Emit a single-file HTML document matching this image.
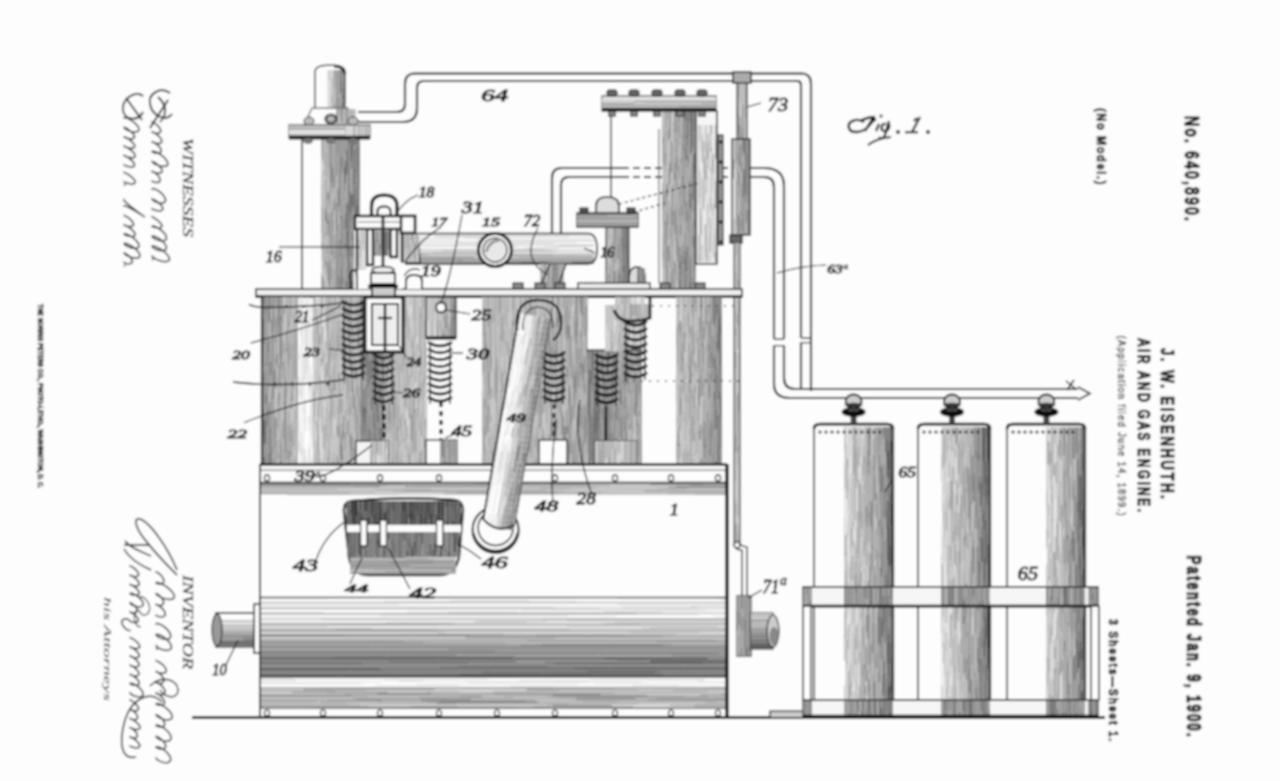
<!DOCTYPE html><html><head><meta charset="utf-8"><style>html,body{margin:0;padding:0;background:#fdfdfd;overflow:hidden;width:1280px;height:781px}svg{display:block}</style></head><body><svg width="1280" height="781" viewBox="0 0 1280 781"><defs><filter id="bl" x="0" y="0" width="1280" height="781" filterUnits="userSpaceOnUse"><feGaussianBlur stdDeviation="0.8"/></filter></defs><g filter="url(#bl)"><rect width="1280" height="781" fill="#fdfdfd"/><path d="M358,112 H397 Q405,112 405,104 V84 Q405,73.5 415,73.5 H801 Q811,73.5 811,84 V391" fill="none" stroke="#111" stroke-width="2.12" /><path d="M358,122 H403 Q417,122 417,108 V88 Q417,81 424,81 H797 Q801,81 801,85 V338 M801,342.5 V389" fill="none" stroke="#111" stroke-width="2.12" /><path d="M801,338 H811 M801,342.5 H811" fill="none" stroke="#111" stroke-width="1.25" /><path d="M552,236 V178 Q552,168 562,168 H622" fill="none" stroke="#111" stroke-width="2.12" /><path d="M561,236 V185 Q561,177 569,177 H622" fill="none" stroke="#111" stroke-width="2.12" /><path d="M622,168 H735 M622,177 H735" fill="none" stroke="#111" stroke-width="2.00" stroke-dasharray="7 4"/><path d="M750,168 H764 Q784,168 784,186 V339 M784,345.5 V378 Q784,389 795,389 H1078" fill="none" stroke="#111" stroke-width="2.12" /><path d="M750,177 H764 Q774,177 774,187 V339 M774,345.5 V384 Q774,398 790,398 H1078" fill="none" stroke="#111" stroke-width="2.12" /><path d="M774,339 H784 M774,345.5 H784" fill="none" stroke="#111" stroke-width="1.25" /><path d="M1078,387 L1090,393.5 L1078,400" fill="none" stroke="#111" stroke-width="1.62" /><path d="M1066,381 L1076,389 M1074,380 L1067,390" fill="none" stroke="#111" stroke-width="1.50" /><g><path d="M321.5 139.0V155.9M321.5 184.0V202.2M321.5 202.2V212.7M321.5 212.7V233.8M321.5 242.0V250.2M321.5 272.9V289.0M322.5 139.0V160.7M322.5 206.4V223.0M322.5 223.0V241.5M322.5 241.5V259.5M323.5 139.0V165.2M323.5 242.4V271.4M323.5 277.4V289.0M324.5 168.5V176.3M324.5 209.1V238.2M324.5 280.6V289.0M325.5 139.0V149.6M325.5 149.6V158.7M325.5 158.7V167.5M325.5 178.6V207.9M325.5 232.3V258.8M326.5 152.1V160.3M326.5 160.3V172.1M326.5 172.1V187.0M326.5 187.0V216.0M326.5 246.2V274.0M327.5 149.7V176.9M327.5 199.9V211.7M327.5 244.1V254.3M328.5 190.1V200.3M328.5 234.8V264.3M328.5 264.3V286.9M329.5 168.3V174.8M329.5 174.8V192.3M329.5 206.0V213.8M329.5 237.5V261.2M329.5 286.2V289.0M330.5 182.6V209.4M330.5 209.4V230.4M330.5 230.4V250.3M330.5 250.3V258.3M330.5 288.1V289.0M331.5 139.0V162.6M331.5 187.2V193.9M331.5 211.5V234.2M331.5 267.1V280.4M332.5 139.0V166.7M332.5 183.3V197.2M332.5 197.2V208.0M332.5 233.3V260.4M332.5 260.4V280.4M332.5 280.4V289.0M333.5 200.8V217.6M333.5 217.6V228.8M333.5 228.8V249.8M333.5 263.3V289.0M334.5 173.7V196.7M334.5 233.5V259.5M334.5 268.8V289.0M335.5 185.5V207.9M335.5 207.9V225.3M335.5 225.3V231.6M335.5 231.6V254.7M335.5 254.7V267.3M335.5 267.3V289.0M336.5 231.3V240.4M337.5 139.0V167.7M337.5 167.7V189.3M338.5 152.7V179.2M338.5 179.2V187.2M338.5 224.1V249.5M338.5 249.5V274.7M338.5 288.8V289.0M339.5 212.3V241.0M340.5 139.0V152.5M340.5 219.0V238.8M340.5 257.6V278.1M341.5 174.1V196.7M341.5 196.7V215.6M342.5 139.0V156.4M342.5 167.0V195.2M342.5 195.2V219.9M342.5 219.9V230.6M342.5 230.6V253.1M342.5 285.1V289.0M343.5 172.7V191.5M343.5 250.1V276.7M344.5 139.0V166.7M344.5 191.5V218.8M344.5 230.5V242.7M344.5 268.7V289.0M345.5 154.7V161.1M345.5 183.5V212.7M345.5 248.9V259.5M345.5 259.5V268.0M345.5 287.2V289.0M346.5 139.0V149.4M346.5 175.6V203.8M346.5 260.6V281.0M347.5 173.1V183.8M347.5 183.8V202.1M349.5 139.0V162.3M350.5 161.8V191.4M350.5 231.5V246.5M351.5 168.9V194.3M351.5 241.6V262.3M352.5 206.9V220.0M352.5 220.0V231.9M352.5 257.0V281.0M354.5 139.0V149.9" stroke="#aaaaaa" stroke-width="1.0" fill="none"/><path d="M321.5 155.9V184.0M321.5 233.8V242.0M322.5 170.5V189.2M322.5 189.2V199.7M322.5 199.7V206.4M322.5 259.5V276.4M323.5 165.2V178.7M323.5 178.7V191.7M323.5 191.7V216.1M323.5 216.1V242.4M323.5 271.4V277.4M324.5 139.0V168.5M324.5 176.3V201.0M324.5 201.0V209.1M324.5 238.2V247.0M324.5 247.0V255.5M324.5 255.5V280.6M325.5 167.5V178.6M325.5 221.2V232.3M325.5 267.2V278.3M325.5 278.3V289.0M326.5 139.0V152.1M326.5 235.8V246.2M326.5 274.0V286.0M327.5 176.9V193.0M327.5 223.8V244.1M327.5 254.3V262.0M327.5 281.4V289.0M328.5 139.0V167.0M328.5 167.0V173.4M328.5 173.4V190.1M328.5 200.3V220.1M328.5 286.9V289.0M331.5 193.9V211.5M331.5 255.0V267.1M331.5 280.4V289.0M333.5 188.2V200.8M334.5 139.0V146.8M334.5 146.8V173.7M334.5 210.2V216.6M334.5 216.6V233.5M334.5 259.5V268.8M336.5 175.2V202.9M338.5 206.4V224.1" stroke="#c6c6c6" stroke-width="1.0" fill="none"/><path d="M321.5 250.2V272.9M322.5 160.7V170.5" stroke="#e2e2e2" stroke-width="1.0" fill="none"/><path d="M322.5 276.4V289.0M325.5 207.9V221.2M325.5 258.8V267.2M326.5 216.0V235.8M326.5 286.0V289.0M327.5 139.0V149.7M327.5 193.0V199.9M327.5 211.7V223.8M327.5 262.0V281.4M328.5 220.1V234.8M329.5 139.0V145.4M329.5 145.4V168.3M329.5 192.3V206.0M329.5 213.8V237.5M329.5 261.2V286.2M330.5 139.0V166.6M330.5 166.6V182.6M330.5 258.3V288.1M331.5 162.6V179.2M331.5 179.2V187.2M331.5 234.2V255.0M332.5 166.7V183.3M332.5 208.0V233.3M333.5 139.0V165.1M333.5 165.1V188.2M333.5 249.8V263.3M334.5 196.7V210.2M335.5 139.0V160.1M335.5 160.1V185.5M336.5 139.0V159.7M336.5 159.7V175.2M336.5 202.9V231.3M336.5 240.4V261.5M336.5 261.5V276.5M336.5 276.5V289.0M337.5 189.3V212.6M337.5 212.6V234.0M337.5 234.0V245.1M337.5 245.1V274.7M337.5 274.7V289.0M338.5 139.0V152.7M338.5 187.2V206.4M338.5 274.7V288.8M339.5 139.0V157.4M339.5 157.4V183.6M339.5 183.6V212.3M339.5 241.0V252.3M339.5 252.3V265.3M339.5 265.3V286.6M339.5 286.6V289.0M340.5 152.5V178.8M340.5 178.8V189.8M340.5 189.8V219.0M340.5 238.8V257.6M340.5 278.1V289.0M341.5 139.0V154.6M341.5 154.6V174.1M341.5 244.6V257.1M341.5 257.1V266.1M342.5 156.4V167.0M342.5 253.1V267.6M342.5 267.6V276.1M342.5 276.1V285.1M343.5 139.0V157.7M343.5 157.7V172.7M343.5 191.5V202.4M343.5 202.4V223.7M343.5 223.7V250.1M343.5 276.7V289.0M344.5 218.8V230.5M344.5 242.7V268.7M345.5 139.0V154.7M345.5 212.7V230.8M345.5 230.8V248.9M345.5 268.0V287.2M346.5 228.4V242.3M346.5 242.3V260.6M347.5 139.0V149.4M347.5 149.4V173.1M347.5 252.4V273.5M347.5 273.5V289.0M348.5 204.6V230.2M348.5 280.4V289.0M349.5 162.3V176.5M349.5 176.5V182.8M349.5 182.8V204.1M349.5 215.7V237.7M349.5 237.7V259.5M349.5 259.5V278.3M349.5 278.3V289.0M350.5 212.1V224.3M350.5 224.3V231.5M350.5 258.5V277.7M350.5 277.7V289.0M351.5 221.7V231.6M351.5 231.6V241.6M351.5 262.3V289.0M352.5 157.6V172.4M352.5 172.4V194.1M353.5 146.8V163.1M353.5 163.1V192.4M353.5 211.0V234.3M353.5 263.8V284.3M353.5 284.3V289.0M354.5 149.9V168.6M354.5 185.2V202.1M354.5 202.1V222.1M354.5 222.1V246.8M354.5 276.7V289.0M355.5 172.6V187.2M355.5 229.8V253.9M356.5 139.0V145.9M356.5 145.9V158.5M356.5 158.5V179.4M356.5 179.4V198.4M356.5 225.7V240.7M356.5 240.7V251.7M356.5 275.6V283.4M357.5 139.0V163.5M357.5 163.5V179.6M357.5 179.6V205.1M357.5 264.5V280.7M358.5 139.0V146.9M358.5 166.4V188.9M358.5 188.9V213.5M358.5 224.6V232.6M358.5 256.0V268.8M358.5 283.3V289.0M359.5 218.0V243.3M359.5 243.3V256.9M359.5 285.3V289.0" stroke="#8d8d8d" stroke-width="1.0" fill="none"/><path d="M341.5 215.6V244.6M341.5 266.1V289.0M344.5 166.7V180.2M344.5 180.2V191.5M345.5 161.1V183.5M346.5 149.4V175.6M346.5 203.8V211.3M346.5 211.3V228.4M346.5 281.0V289.0M347.5 202.1V229.5M347.5 229.5V252.4M348.5 139.0V168.6M348.5 168.6V180.8M348.5 180.8V204.6M348.5 230.2V257.7M348.5 257.7V280.4M349.5 204.1V215.7M350.5 139.0V161.8M350.5 191.4V212.1M350.5 246.5V258.5M351.5 139.0V168.9M351.5 194.3V214.7M351.5 214.7V221.7M352.5 139.0V157.6M352.5 194.1V206.9M352.5 231.9V241.7M352.5 241.7V257.0M352.5 281.0V289.0M353.5 139.0V146.8M353.5 192.4V211.0M353.5 234.3V263.8M354.5 168.6V185.2M354.5 246.8V276.7M355.5 139.0V147.7M355.5 147.7V172.6M355.5 187.2V209.6M355.5 209.6V229.8M355.5 265.9V289.0M356.5 198.4V206.5M356.5 206.5V225.7M356.5 251.7V275.6M356.5 283.4V289.0M357.5 226.8V240.6M357.5 280.7V289.0M358.5 146.9V166.4M358.5 213.5V224.6M358.5 232.6V256.0M358.5 268.8V283.3M359.5 139.0V162.0M359.5 190.1V218.0" stroke="#717171" stroke-width="1.0" fill="none"/><path d="M355.5 253.9V265.9M357.5 205.1V226.8M357.5 240.6V264.5M359.5 162.0V190.1M359.5 256.9V285.3" stroke="#555555" stroke-width="1.0" fill="none"/></g><line x1="302" y1="139" x2="302" y2="289" stroke="#333" stroke-width="1.62" /><rect x="315" y="66" width="30" height="42" fill="#fdfdfd"  /><g><path d="M327.5 70.0V84.8M327.5 84.8V100.3M327.5 100.3V108.0M328.5 70.0V95.1M328.5 95.1V108.0M329.5 80.2V107.4M329.5 107.4V108.0M331.5 70.0V95.3M332.5 70.0V78.0" stroke="#e2e2e2" stroke-width="1.0" fill="none"/><path d="M329.5 70.0V80.2M330.5 70.0V89.1M330.5 89.1V108.0M331.5 95.3V108.0M332.5 101.7V108.0M333.5 79.5V101.0M334.5 88.5V104.0" stroke="#c6c6c6" stroke-width="1.0" fill="none"/><path d="M332.5 78.0V101.7M333.5 70.0V79.5M333.5 101.0V108.0M334.5 70.0V88.5M334.5 104.0V108.0M335.5 70.0V87.8M335.5 87.8V108.0M336.5 70.0V98.0M336.5 98.0V108.0M338.5 70.0V99.0M339.5 70.0V95.3M339.5 95.3V108.0M340.5 93.8V108.0M342.5 70.0V94.6" stroke="#aaaaaa" stroke-width="1.0" fill="none"/><path d="M337.5 70.0V96.5M337.5 96.5V108.0M338.5 99.0V108.0M341.5 70.0V80.9M341.5 93.9V101.3M341.5 101.3V108.0M342.5 94.6V102.1M343.5 70.0V76.9M343.5 76.9V87.3M343.5 99.0V108.0M344.5 70.0V80.4M344.5 104.1V108.0" stroke="#8d8d8d" stroke-width="1.0" fill="none"/><path d="M340.5 70.0V93.8M341.5 80.9V93.9M342.5 102.1V108.0M343.5 87.3V99.0M344.5 80.4V90.6M344.5 90.6V104.1" stroke="#717171" stroke-width="1.0" fill="none"/></g><path d="M315,108 V72 Q315,65 330,65 Q345,65 345,72 V108" fill="none" stroke="#444" stroke-width="1.50" /><path d="M334,66 Q344,66 345,74" fill="none" stroke="#111" stroke-width="2.75" /><path d="M312,108 L304,125 H357 L348,108 Z" fill="#fdfdfd" stroke="#555" stroke-width="1.25" /><g><path d="M336.5 109.0V121.3M339.5 109.0V116.2M340.5 109.0V125.0M342.5 109.0V115.3M342.5 115.3V125.0M343.5 109.0V125.0M345.5 109.0V125.0M347.5 109.0V121.4M347.5 121.4V125.0M348.5 109.0V115.0M348.5 115.0V125.0M350.5 109.0V125.0M351.5 109.0V125.0M353.5 109.0V125.0" stroke="#aaaaaa" stroke-width="1.0" fill="none"/><path d="M336.5 121.3V125.0M338.5 109.0V125.0M339.5 116.2V125.0M341.5 121.6V125.0M344.5 109.0V118.8M344.5 118.8V125.0M349.5 109.0V117.0M349.5 117.0V125.0M352.5 109.0V125.0M354.5 109.0V125.0M355.5 109.0V125.0" stroke="#c6c6c6" stroke-width="1.0" fill="none"/><path d="M337.5 109.0V125.0M341.5 109.0V121.6M346.5 109.0V125.0" stroke="#8d8d8d" stroke-width="1.0" fill="none"/></g><ellipse cx="309" cy="121" rx="5" ry="4" fill="#bbb" stroke="#333" stroke-width="1.0"/><ellipse cx="353" cy="121" rx="5" ry="4" fill="#bbb" stroke="#333" stroke-width="1.0"/><ellipse cx="331" cy="119" rx="6" ry="5" fill="#777" stroke="#222" stroke-width="1.2"/><ellipse cx="331" cy="119" rx="3" ry="2.5" fill="#bbb" /><rect x="289" y="125" width="81" height="13" fill="#f4f4f4" stroke="#555" stroke-width="1.25" /><g><path d="M289.0 126.5H363.3M289.0 127.5H340.1M340.1 127.5H367.7M345.0 128.5H370.0M355.2 129.5H370.0M365.4 131.5H370.0M289.0 134.5H346.6M346.6 134.5H370.0M348.2 135.5H370.0M289.0 136.5H370.0" stroke="#c6c6c6" stroke-width="1.0" fill="none"/><path d="M363.3 126.5H370.0M367.7 127.5H370.0M289.0 128.5H345.0M289.0 129.5H355.2M289.0 135.5H348.2" stroke="#aaaaaa" stroke-width="1.0" fill="none"/><path d="M289.0 130.5H310.2M310.2 130.5H370.0M289.0 131.5H365.4M289.0 132.5H370.0M289.0 133.5H370.0" stroke="#e2e2e2" stroke-width="1.0" fill="none"/></g><g><path d="M345.5 126.0V137.0M346.5 126.0V137.0M348.5 135.4V137.0M349.5 126.0V136.3M349.5 136.3V137.0M352.5 126.0V137.0M353.5 126.0V137.0M355.5 126.0V137.0M357.5 126.0V137.0M359.5 126.0V137.0M360.5 126.0V132.4M360.5 132.4V137.0M361.5 126.0V134.6M362.5 126.0V137.0M363.5 126.0V135.8M363.5 135.8V137.0M364.5 126.0V137.0M365.5 126.0V135.4M365.5 135.4V137.0M368.5 134.0V137.0" stroke="#c6c6c6" stroke-width="1.0" fill="none"/><path d="M347.5 126.0V137.0M348.5 126.0V135.4M350.5 126.0V134.2M350.5 134.2V137.0M351.5 126.0V137.0M356.5 126.0V137.0M367.5 136.7V137.0M368.5 126.0V134.0" stroke="#e2e2e2" stroke-width="1.0" fill="none"/><path d="M354.5 126.0V137.0M358.5 126.0V137.0M361.5 134.6V137.0M366.5 126.0V137.0M367.5 126.0V136.7M369.5 126.0V137.0" stroke="#aaaaaa" stroke-width="1.0" fill="none"/></g><line x1="289" y1="137.5" x2="370" y2="137.5" stroke="#111" stroke-width="3.75" /><ellipse cx="308" cy="141" rx="5" ry="3" fill="#777" /><ellipse cx="331" cy="141" rx="5" ry="3" fill="#777" /><ellipse cx="353" cy="141" rx="5" ry="3" fill="#777" /><g><path d="M662.5 111.0V125.7M662.5 143.9V162.9M662.5 210.2V235.8M662.5 257.7V269.5M663.5 188.4V210.5M663.5 210.5V225.7M663.5 251.0V261.8M664.5 192.6V221.6M664.5 221.6V238.9M664.5 238.9V259.9M664.5 259.9V284.1M665.5 137.1V152.9M665.5 172.5V191.1M665.5 244.6V268.2M666.5 131.2V140.2M666.5 140.2V158.3M666.5 158.3V165.5M666.5 184.2V197.5M667.5 119.4V128.3M667.5 210.3V225.8M667.5 252.6V266.0M668.5 169.0V195.1M668.5 239.5V250.4M669.5 201.1V212.5M669.5 267.8V282.8M669.5 282.8V289.0M670.5 111.0V122.5M670.5 122.5V150.7M670.5 150.7V163.4M670.5 171.5V188.1M670.5 206.8V227.2M670.5 239.3V247.4M670.5 271.5V284.2M671.5 191.0V210.4M671.5 225.0V249.8M671.5 267.9V289.0M672.5 226.6V238.3M672.5 238.3V249.6M673.5 121.3V127.7M673.5 127.7V144.2M673.5 164.2V183.9M673.5 183.9V208.9M673.5 208.9V218.4M673.5 218.4V225.4M673.5 225.4V246.3M673.5 246.3V258.7M673.5 266.8V276.9M674.5 111.0V118.5M674.5 118.5V133.2M674.5 226.9V233.8M674.5 261.2V276.6M675.5 142.1V153.7M675.5 153.7V172.9M675.5 190.0V204.7M675.5 234.3V241.2M676.5 111.0V138.3M676.5 168.9V180.0M676.5 180.0V190.4M676.5 190.4V200.4M676.5 200.4V211.5M676.5 211.5V224.9M676.5 254.8V281.5M677.5 111.0V133.6M677.5 146.2V156.6M677.5 172.0V195.1M677.5 195.1V209.8M677.5 209.8V238.3M678.5 111.0V124.7M678.5 165.0V180.5M678.5 180.5V187.4M678.5 207.7V221.2M678.5 221.2V240.3M678.5 240.3V263.2M678.5 286.6V289.0M679.5 123.7V139.5M679.5 139.5V166.2M679.5 166.2V179.2M679.5 216.6V246.0M680.5 111.0V137.8M680.5 159.0V175.3M680.5 175.3V182.7M680.5 196.6V209.3M680.5 209.3V225.0M680.5 246.7V260.9M681.5 133.8V149.2M681.5 149.2V156.7M681.5 164.0V184.1M681.5 184.1V197.9M681.5 197.9V204.5M681.5 244.1V254.6M682.5 160.7V176.5M682.5 189.2V216.3M682.5 253.4V266.8M682.5 266.8V289.0M683.5 111.0V121.6M683.5 121.6V143.9M683.5 150.0V165.4M683.5 221.9V251.1M684.5 167.7V182.6M684.5 206.6V218.3M684.5 218.3V232.1M684.5 232.1V250.4M684.5 250.4V257.9M685.5 120.9V147.8M685.5 159.9V185.0M685.5 185.0V208.2M685.5 208.2V231.3M686.5 159.9V168.9M686.5 168.9V191.0M686.5 191.0V201.4M686.5 221.5V250.8M687.5 146.6V155.4M687.5 168.3V198.1M687.5 198.1V212.0M687.5 231.1V246.0M688.5 163.2V188.4M688.5 188.4V198.6M688.5 198.6V227.0M688.5 227.0V244.7M688.5 244.7V258.5M688.5 258.5V278.1M688.5 278.1V289.0M689.5 122.5V137.2M689.5 137.2V144.5M689.5 144.5V171.9M689.5 171.9V179.8M690.5 154.4V177.8M690.5 177.8V184.4M690.5 184.4V193.3M690.5 221.3V227.6M690.5 227.6V256.6M691.5 152.4V182.1M691.5 210.9V233.8M691.5 233.8V261.7M691.5 261.7V281.5M692.5 147.5V162.0M692.5 198.0V221.8M692.5 245.6V268.0M692.5 268.0V276.5M693.5 212.6V235.6M693.5 287.3V289.0M694.5 132.2V153.7M694.5 272.4V287.6M695.5 111.0V129.4M695.5 170.7V199.0" stroke="#aaaaaa" stroke-width="1.0" fill="none"/><path d="M662.5 125.7V134.6M662.5 134.6V143.9M662.5 182.4V210.2M662.5 235.8V244.8M662.5 244.8V257.7M663.5 136.9V166.6M664.5 284.1V289.0M665.5 111.0V137.1M665.5 152.9V172.5M665.5 191.1V207.5M665.5 221.2V244.6M666.5 209.2V237.1M666.5 237.1V259.0M666.5 259.0V275.1M666.5 275.1V286.5M666.5 286.5V289.0M667.5 111.0V119.4M667.5 182.8V210.3M667.5 245.9V252.6M667.5 266.0V289.0M668.5 128.3V141.4M668.5 212.4V239.5M668.5 250.4V261.0M669.5 111.0V138.6M669.5 161.7V184.4M669.5 245.9V267.8M670.5 163.4V171.5M670.5 227.2V239.3M670.5 284.2V289.0M671.5 140.7V157.8M671.5 157.8V173.0M671.5 210.4V225.0M671.5 249.8V267.9M672.5 185.1V201.7M672.5 201.7V226.6M672.5 267.5V287.9M672.5 287.9V289.0M673.5 144.2V156.5M673.5 156.5V164.2M673.5 258.7V266.8M673.5 276.9V286.7M673.5 286.7V289.0M674.5 162.5V180.3M674.5 209.9V226.9M675.5 117.8V142.1M675.5 172.9V190.0M675.5 204.7V234.3M675.5 262.8V277.1M675.5 277.1V289.0M676.5 138.3V153.7M676.5 153.7V168.9M676.5 224.9V254.8M677.5 156.6V172.0M677.5 238.3V262.7M678.5 124.7V132.7M678.5 132.7V146.5M678.5 263.2V286.6M679.5 111.0V123.7M679.5 190.4V197.0M679.5 197.0V216.6M679.5 268.1V279.3M680.5 182.7V196.6M680.5 225.0V235.0M680.5 260.9V270.6M680.5 270.6V289.0M681.5 156.7V164.0M681.5 204.5V231.9M681.5 231.9V244.1M681.5 275.4V289.0M682.5 111.0V139.6M682.5 139.6V160.7M682.5 176.5V189.2M682.5 244.1V253.4M683.5 143.9V150.0M683.5 165.4V183.3M683.5 183.3V202.4M683.5 202.4V221.9M683.5 265.5V279.0M683.5 279.0V289.0M684.5 140.1V150.0M684.5 150.0V167.7M684.5 182.6V206.6M684.5 257.9V266.4M684.5 266.4V275.1M684.5 275.1V289.0M685.5 147.8V159.9M685.5 231.3V245.4M685.5 271.6V289.0M686.5 111.0V134.0M686.5 250.8V273.3M686.5 273.3V289.0M687.5 139.4V146.6M687.5 155.4V168.3M687.5 212.0V231.1M687.5 271.2V284.0M687.5 284.0V289.0M688.5 111.0V140.5M688.5 140.5V163.2M689.5 111.0V122.5M689.5 208.2V225.9M689.5 225.9V251.2M689.5 251.2V258.6M689.5 258.6V280.4M690.5 207.9V221.3M691.5 182.1V210.9M691.5 281.5V289.0M692.5 132.8V147.5M692.5 162.0V189.7M692.5 189.7V198.0M692.5 221.8V245.6M692.5 276.5V289.0M693.5 111.0V117.2M693.5 117.2V132.9M693.5 201.3V212.6M693.5 248.1V276.9M693.5 276.9V287.3M694.5 111.0V132.2M694.5 174.5V201.0M694.5 201.0V219.1M694.5 227.9V250.4M694.5 250.4V272.4M694.5 287.6V289.0M695.5 129.4V150.4M695.5 150.4V170.7M695.5 216.3V240.0M695.5 288.4V289.0" stroke="#8d8d8d" stroke-width="1.0" fill="none"/><path d="M662.5 162.9V182.4M662.5 269.5V289.0M663.5 111.0V130.1M663.5 130.1V136.9M663.5 166.6V188.4M663.5 225.7V251.0M663.5 261.8V271.2M663.5 271.2V289.0M664.5 111.0V129.5M664.5 129.5V149.1M664.5 149.1V170.5M664.5 170.5V192.6M665.5 207.5V221.2M665.5 268.2V289.0M666.5 111.0V131.2M666.5 165.5V184.2M666.5 197.5V209.2M667.5 128.3V157.2M667.5 157.2V169.0M667.5 169.0V182.8M667.5 225.8V245.9M668.5 111.0V128.3M668.5 141.4V169.0M668.5 195.1V212.4M668.5 261.0V268.2M668.5 268.2V289.0M669.5 138.6V161.7M669.5 184.4V201.1M669.5 212.5V235.5M669.5 235.5V245.9M670.5 188.1V206.8M670.5 247.4V271.5M671.5 111.0V140.7M671.5 173.0V191.0M672.5 111.0V139.8M672.5 139.8V164.5M672.5 164.5V185.1M672.5 249.6V267.5M673.5 111.0V121.3M674.5 133.2V162.5M674.5 180.3V209.9M674.5 233.8V261.2M674.5 276.6V289.0M675.5 241.2V262.8M676.5 281.5V289.0M677.5 133.6V146.2M677.5 262.7V289.0M678.5 146.5V165.0M678.5 187.4V207.7M679.5 179.2V190.4M680.5 137.8V159.0M680.5 235.0V246.7M681.5 111.0V133.8M682.5 216.3V244.1" stroke="#c6c6c6" stroke-width="1.0" fill="none"/><path d="M675.5 111.0V117.8M679.5 246.0V268.1M679.5 279.3V289.0M681.5 254.6V275.4M683.5 251.1V265.5M684.5 111.0V140.1M685.5 111.0V120.9M685.5 245.4V271.6M686.5 134.0V159.9M686.5 201.4V221.5M687.5 111.0V139.4M687.5 246.0V271.2M689.5 179.8V197.4M689.5 197.4V208.2M689.5 280.4V289.0M690.5 111.0V137.8M690.5 137.8V154.4M690.5 193.3V207.9M690.5 256.6V275.3M690.5 275.3V289.0M691.5 111.0V126.6M691.5 126.6V152.4M692.5 111.0V132.8M693.5 132.9V151.8M693.5 151.8V162.7M693.5 162.7V176.4M693.5 176.4V185.0M693.5 185.0V201.3M693.5 235.6V248.1M694.5 153.7V174.5M694.5 219.1V227.9M695.5 199.0V216.3M695.5 240.0V263.7M695.5 263.7V279.3M695.5 279.3V288.4" stroke="#717171" stroke-width="1.0" fill="none"/></g><line x1="659" y1="129" x2="659" y2="283" stroke="#666" stroke-width="1.25" /><rect x="696" y="111" width="21" height="153" fill="#f6f6f6" stroke="#333" stroke-width="1.62" /><g><path d="M698.5 125.0V151.2M698.5 151.2V179.7M698.5 179.7V204.8M698.5 234.7V261.5M698.5 261.5V262.0M699.5 125.0V141.9M699.5 168.7V181.4M699.5 181.4V189.1M699.5 189.1V214.0M699.5 214.0V225.8M699.5 225.8V252.4M700.5 171.8V198.5M700.5 251.2V262.0M701.5 125.0V152.0M701.5 152.0V162.8M701.5 214.4V234.8M702.5 134.1V162.7M702.5 177.3V207.1M702.5 244.3V253.8M702.5 253.8V262.0M703.5 159.0V173.3M703.5 173.3V184.9M703.5 261.3V262.0M704.5 174.4V187.4M705.5 150.7V170.9M705.5 187.4V202.4M705.5 252.0V258.5M706.5 142.2V164.3M706.5 223.4V249.3M707.5 132.6V148.2M707.5 203.7V213.7M707.5 213.7V234.7M707.5 234.7V246.8M707.5 246.8V262.0M708.5 175.5V194.4M708.5 194.4V203.0M708.5 203.0V216.3M708.5 216.3V225.3M709.5 224.4V253.7M709.5 253.7V262.0M710.5 167.7V177.3M710.5 177.3V201.0M710.5 201.0V210.7M711.5 169.3V198.0M712.5 158.8V166.0M712.5 166.0V173.4M713.5 174.4V189.2M713.5 204.1V224.7M713.5 224.7V238.2M713.5 238.2V256.6M714.5 188.8V201.6M714.5 235.7V249.3M714.5 249.3V262.0M715.5 125.0V132.4M715.5 132.4V139.5M715.5 180.1V208.5" stroke="#c6c6c6" stroke-width="1.0" fill="none"/><path d="M699.5 141.9V168.7M700.5 125.0V150.1M700.5 164.9V171.8M700.5 198.5V207.4M701.5 179.1V193.3M701.5 193.3V214.4M701.5 245.2V262.0M702.5 162.7V177.3M702.5 207.1V230.8M702.5 230.8V244.3M703.5 125.0V140.8M703.5 210.6V232.9M703.5 232.9V261.3M704.5 141.8V157.8M704.5 187.4V209.6M704.5 225.4V252.9M704.5 252.9V262.0M705.5 179.3V187.4M705.5 202.4V224.4M705.5 258.5V262.0M706.5 125.0V142.2M706.5 193.5V223.4M707.5 125.0V132.6M707.5 159.5V170.5M707.5 170.5V179.9M708.5 125.0V133.9M708.5 168.9V175.5M708.5 234.4V252.7M708.5 252.7V262.0M709.5 140.9V152.2M709.5 152.2V171.6M709.5 198.0V224.4M710.5 252.1V259.2M710.5 259.2V262.0M711.5 133.7V147.6M711.5 216.0V231.5M711.5 231.5V255.2M711.5 255.2V262.0M712.5 125.0V142.4M712.5 142.4V158.8M712.5 173.4V192.6M712.5 203.9V218.9M712.5 218.9V236.5M712.5 236.5V260.5M712.5 260.5V262.0M713.5 189.2V204.1M714.5 125.0V137.0M714.5 137.0V162.1M714.5 162.1V188.8M714.5 209.7V235.7M715.5 228.4V252.1" stroke="#e2e2e2" stroke-width="1.0" fill="none"/><path d="M699.5 252.4V262.0M700.5 207.4V222.7M700.5 222.7V243.5M700.5 243.5V251.2M703.5 140.8V159.0M703.5 184.9V197.8M703.5 197.8V210.6M704.5 157.8V174.4M705.5 125.0V150.7M705.5 170.9V179.3M705.5 224.4V252.0M706.5 164.3V193.5M706.5 249.3V262.0M707.5 148.2V159.5M708.5 133.9V140.3M708.5 140.3V168.9M710.5 125.0V151.7M710.5 217.4V230.6M710.5 230.6V252.1M711.5 125.0V133.7M711.5 147.6V169.3M711.5 198.0V216.0M713.5 154.2V174.4M714.5 201.6V209.7M715.5 139.5V158.8M715.5 252.1V262.0" stroke="#aaaaaa" stroke-width="1.0" fill="none"/></g><rect x="718" y="135" width="5" height="110" fill="#999" stroke="#111" stroke-width="1.00" /><circle cx="721" cy="142" r="1.8" fill="#111" stroke="#111" stroke-width="0.00"/><circle cx="721" cy="162" r="1.8" fill="#111" stroke="#111" stroke-width="0.00"/><circle cx="721" cy="182" r="1.8" fill="#111" stroke="#111" stroke-width="0.00"/><circle cx="721" cy="202" r="1.8" fill="#111" stroke="#111" stroke-width="0.00"/><circle cx="721" cy="222" r="1.8" fill="#111" stroke="#111" stroke-width="0.00"/><circle cx="721" cy="242" r="1.8" fill="#111" stroke="#111" stroke-width="0.00"/><line x1="611" y1="111" x2="611" y2="197" stroke="#444" stroke-width="1.62" /><rect x="602" y="96" width="114" height="15" fill="#eee" stroke="#444" stroke-width="1.25" /><g><path d="M713.7 97.5H716.0M602.0 98.5H697.2M697.2 98.5H716.0M602.0 99.5H633.8M633.8 99.5H716.0M602.0 101.5H633.3M634.3 103.5H701.6" stroke="#e2e2e2" stroke-width="1.0" fill="none"/><path d="M602.0 100.5H633.6M633.6 100.5H716.0M602.0 102.5H643.1M701.6 103.5H716.0M602.0 106.5H642.2M642.2 106.5H678.6" stroke="#c6c6c6" stroke-width="1.0" fill="none"/><path d="M633.3 101.5H684.3M684.3 101.5H716.0M643.1 102.5H716.0M602.0 103.5H634.3M602.0 104.5H689.4M689.4 104.5H716.0M602.0 105.5H660.8M660.8 105.5H691.3M691.3 105.5H716.0M678.6 106.5H716.0M602.0 107.5H660.9M660.9 107.5H716.0M602.0 108.5H680.4M680.4 108.5H716.0" stroke="#aaaaaa" stroke-width="1.0" fill="none"/></g><line x1="602" y1="109.5" x2="716" y2="109.5" stroke="#111" stroke-width="3.25" /><rect x="607" y="90" width="10" height="6" fill="#666" stroke="#111" stroke-width="1.00" rx="2"/><rect x="608.5" y="111" width="7" height="5" fill="#888" stroke="#111" stroke-width="1.00" /><rect x="629" y="90" width="10" height="6" fill="#666" stroke="#111" stroke-width="1.00" rx="2"/><rect x="630.5" y="111" width="7" height="5" fill="#888" stroke="#111" stroke-width="1.00" /><rect x="652" y="90" width="10" height="6" fill="#666" stroke="#111" stroke-width="1.00" rx="2"/><rect x="653.5" y="111" width="7" height="5" fill="#888" stroke="#111" stroke-width="1.00" /><rect x="675" y="90" width="10" height="6" fill="#666" stroke="#111" stroke-width="1.00" rx="2"/><rect x="676.5" y="111" width="7" height="5" fill="#888" stroke="#111" stroke-width="1.00" /><rect x="697" y="90" width="10" height="6" fill="#666" stroke="#111" stroke-width="1.00" rx="2"/><rect x="698.5" y="111" width="7" height="5" fill="#888" stroke="#111" stroke-width="1.00" /><rect x="733" y="72" width="18" height="11" fill="#aaa" stroke="#111" stroke-width="1.38" /><g><path d="M737.5 83.0V105.7M737.5 118.0V137.8M739.5 83.0V100.7M739.5 100.7V124.8M740.5 102.6V116.6M741.5 83.0V108.3M741.5 108.3V133.2M742.5 83.0V103.6M744.5 83.0V106.4M744.5 106.4V118.4M744.5 118.4V137.3M744.5 137.3V139.0M745.5 117.4V139.0" stroke="#c6c6c6" stroke-width="1.0" fill="none"/><path d="M737.5 105.7V118.0M737.5 137.8V139.0M738.5 83.0V98.1M738.5 114.4V133.9M739.5 124.8V138.1M739.5 138.1V139.0M740.5 116.6V139.0M742.5 128.0V139.0M743.5 105.5V134.4M743.5 134.4V139.0M746.5 83.0V109.6" stroke="#8d8d8d" stroke-width="1.0" fill="none"/><path d="M738.5 98.1V114.4M738.5 133.9V139.0M740.5 83.0V102.6M741.5 133.2V139.0M742.5 103.6V128.0M743.5 83.0V105.5M745.5 83.0V92.2M745.5 92.2V104.7M745.5 104.7V117.4M746.5 109.6V130.3M746.5 130.3V139.0" stroke="#aaaaaa" stroke-width="1.0" fill="none"/></g><rect x="737" y="83" width="10" height="56" fill="none" stroke="#333" stroke-width="1.25" /><g><path d="M732.5 139.0V160.8M732.5 185.4V192.7M732.5 192.7V207.5M732.5 219.1V233.9M734.5 217.7V224.4M734.5 224.4V235.0M735.5 139.0V165.5M736.5 139.0V161.9M736.5 179.6V197.3M736.5 197.3V226.6M737.5 139.0V153.1M738.5 139.0V145.5M738.5 145.5V165.7M738.5 165.7V186.4M739.5 198.3V216.8M740.5 170.1V196.1M740.5 196.1V210.1M740.5 216.5V228.8M740.5 228.8V235.0M741.5 139.0V161.2M741.5 183.0V195.1M741.5 195.1V219.9M741.5 231.6V235.0M742.5 151.1V161.5M742.5 161.5V174.8M742.5 231.1V235.0M743.5 154.9V169.8M743.5 197.7V213.0M744.5 153.1V168.2M744.5 212.2V227.3M744.5 227.3V235.0M745.5 202.6V231.3M746.5 195.0V209.9M746.5 222.5V230.2M746.5 230.2V235.0M747.5 139.0V152.4M747.5 204.6V233.3M747.5 233.3V235.0M749.5 192.9V222.4" stroke="#aaaaaa" stroke-width="1.0" fill="none"/><path d="M732.5 160.8V185.4M732.5 207.5V219.1M732.5 233.9V235.0M733.5 139.0V158.6M734.5 139.0V168.7M735.5 165.5V184.0M735.5 184.0V202.7M735.5 202.7V221.3M735.5 221.3V235.0M736.5 161.9V179.6M736.5 226.6V235.0M738.5 186.4V214.8M738.5 233.2V235.0M739.5 165.9V172.4M740.5 139.0V145.0M741.5 172.8V183.0" stroke="#c6c6c6" stroke-width="1.0" fill="none"/><path d="M733.5 158.6V170.2M733.5 170.2V178.8M737.5 153.1V181.6M737.5 181.6V210.4M737.5 210.4V235.0M738.5 214.8V233.2M739.5 139.0V165.9M739.5 172.4V198.3M739.5 216.8V235.0M740.5 145.0V170.1M740.5 210.1V216.5M741.5 161.2V172.8M741.5 219.9V231.6M742.5 139.0V151.1M742.5 174.8V198.2M742.5 198.2V223.2M742.5 223.2V231.1M743.5 213.0V235.0M744.5 139.0V153.1M744.5 168.2V188.5M744.5 188.5V205.9M744.5 205.9V212.2M745.5 193.2V202.6M745.5 231.3V235.0M746.5 139.0V166.2M746.5 166.2V195.0M747.5 152.4V161.3M747.5 161.3V180.3M747.5 180.3V204.6M748.5 152.4V180.6M748.5 180.6V190.5M748.5 190.5V210.1M749.5 139.0V156.0M749.5 156.0V182.3M749.5 222.4V235.0" stroke="#8d8d8d" stroke-width="1.0" fill="none"/><path d="M733.5 178.8V200.6M733.5 200.6V228.2M733.5 228.2V235.0M734.5 168.7V195.7M734.5 195.7V217.7" stroke="#e2e2e2" stroke-width="1.0" fill="none"/><path d="M743.5 139.0V154.9M743.5 169.8V197.7M745.5 139.0V149.9M745.5 149.9V179.0M745.5 179.0V193.2M746.5 209.9V222.5M748.5 139.0V152.4M748.5 210.1V235.0M749.5 182.3V192.9" stroke="#717171" stroke-width="1.0" fill="none"/></g><rect x="732" y="139" width="18" height="96" fill="none" stroke="#333" stroke-width="1.50" /><rect x="730" y="235" width="12" height="8" fill="#666" stroke="#111" stroke-width="1.25" /><g><path d="M734.5 243.0V250.2M734.5 300.7V317.9M734.5 317.9V324.3M734.5 324.3V331.3M734.5 331.3V352.1M734.5 369.5V383.1M734.5 383.1V410.3M734.5 410.3V426.3M734.5 426.3V443.3M734.5 443.3V471.3M734.5 499.7V526.9M735.5 243.0V255.9M735.5 255.9V279.3M735.5 279.3V299.3M735.5 299.3V328.0M735.5 336.4V350.7M735.5 368.6V387.0M735.5 387.0V393.0M735.5 393.0V405.5M735.5 405.5V426.6M735.5 426.6V434.8M735.5 452.4V481.6M735.5 498.3V523.5M736.5 255.1V273.2M736.5 292.5V310.3M736.5 323.3V341.3M736.5 341.3V352.1M736.5 453.1V478.3M736.5 478.3V503.9M736.5 515.7V522.3M737.5 287.6V314.5M737.5 464.8V486.2M737.5 486.2V501.4M737.5 501.4V508.0M737.5 508.0V533.1M738.5 243.0V265.7M738.5 265.7V279.3M738.5 326.2V354.0M738.5 412.0V426.0M738.5 426.0V444.5M738.5 451.4V470.2M738.5 470.2V494.1M738.5 494.1V504.9M738.5 504.9V516.7M738.5 524.3V538.9M739.5 243.0V258.9M739.5 258.9V270.6M739.5 316.0V340.3M739.5 361.7V389.4M739.5 408.3V427.0M739.5 451.4V461.0M739.5 473.5V497.0M739.5 521.4V543.0" stroke="#c6c6c6" stroke-width="1.0" fill="none"/><path d="M734.5 250.2V260.4M734.5 271.5V282.8M734.5 282.8V300.7M734.5 352.1V369.5M734.5 471.3V499.7M734.5 526.9V543.0M735.5 328.0V336.4M735.5 350.7V368.6M735.5 434.8V452.4M735.5 523.5V543.0M736.5 243.0V255.1M736.5 273.2V292.5M736.5 310.3V323.3M736.5 352.1V378.1M736.5 378.1V407.6M736.5 407.6V430.0M736.5 430.0V453.1M736.5 503.9V515.7M736.5 522.3V536.5M736.5 536.5V543.0M737.5 243.0V271.4M737.5 271.4V278.9M737.5 278.9V287.6M737.5 314.5V324.9M737.5 324.9V349.1M737.5 393.5V420.3M737.5 420.3V445.2M737.5 445.2V464.8M737.5 533.1V543.0M738.5 279.3V289.7M738.5 289.7V312.2M738.5 312.2V326.2M738.5 354.0V382.9M738.5 382.9V412.0M738.5 444.5V451.4M738.5 538.9V543.0M739.5 299.6V316.0M739.5 340.3V361.7M739.5 389.4V408.3M739.5 461.0V473.5M739.5 497.0V521.4" stroke="#aaaaaa" stroke-width="1.0" fill="none"/><path d="M734.5 260.4V271.5M735.5 481.6V498.3M737.5 349.1V370.1M737.5 370.1V393.5M738.5 516.7V524.3M739.5 270.6V299.6M739.5 427.0V451.4" stroke="#e2e2e2" stroke-width="1.0" fill="none"/></g><line x1="734" y1="243" x2="734" y2="543" stroke="#444" stroke-width="1.25" /><line x1="740" y1="243" x2="740" y2="543" stroke="#444" stroke-width="1.25" /><path d="M734,543 Q734,550 742,550 V596 M740,543 Q740,546 747,547 V596" fill="none" stroke="#111" stroke-width="1.25" /><circle cx="737" cy="545" r="3" fill="#fff" stroke="#111" stroke-width="1.25"/><rect x="737" y="596" width="14" height="60" fill="#aaa" stroke="#111" stroke-width="1.50" /><g><path d="M737.5 596.0V612.4M738.5 596.0V603.7M738.5 603.7V626.4M738.5 626.4V635.4M739.5 651.9V656.0M740.5 596.0V613.2M741.5 609.6V618.5M741.5 629.8V648.0M742.5 608.2V631.2M742.5 631.2V646.0M742.5 646.0V656.0M743.5 596.0V617.0M743.5 630.3V647.2M743.5 647.2V656.0M745.5 596.0V619.8M747.5 596.0V602.4M747.5 602.4V626.8M747.5 626.8V647.5M749.5 651.4V656.0M750.5 596.0V620.7" stroke="#aaaaaa" stroke-width="1.0" fill="none"/><path d="M737.5 612.4V629.8M738.5 635.4V655.2M738.5 655.2V656.0M739.5 596.0V618.4M739.5 618.4V625.5M740.5 613.2V642.1M740.5 642.1V656.0M741.5 596.0V609.6M741.5 618.5V629.8M741.5 648.0V656.0M742.5 596.0V608.2M743.5 617.0V630.3M744.5 596.0V611.0M744.5 611.0V640.5M744.5 640.5V656.0M745.5 619.8V643.2M745.5 643.2V656.0M746.5 596.0V612.4M746.5 612.4V623.9M746.5 623.9V642.8M746.5 642.8V656.0M748.5 596.0V606.7M748.5 606.7V614.2M748.5 614.2V639.9M748.5 639.9V655.3M748.5 655.3V656.0M749.5 596.0V619.9M749.5 619.9V632.0M749.5 632.0V651.4M750.5 620.7V644.2M750.5 644.2V656.0" stroke="#8d8d8d" stroke-width="1.0" fill="none"/><path d="M737.5 629.8V656.0M739.5 625.5V634.6M739.5 634.6V651.9" stroke="#c6c6c6" stroke-width="1.0" fill="none"/><path d="M747.5 647.5V656.0" stroke="#717171" stroke-width="1.0" fill="none"/></g><rect x="751" y="613" width="22" height="36" fill="#eee" stroke="#111" stroke-width="1.25" /><g><path d="M751.0 613.5H773.0M751.0 614.5H773.0M751.0 615.5H773.0M751.0 618.5H773.0M751.0 622.5H773.0M751.0 624.5H773.0M751.0 626.5H773.0" stroke="#c6c6c6" stroke-width="1.0" fill="none"/><path d="M751.0 616.5H773.0M751.0 619.5H773.0M751.0 620.5H773.0M751.0 621.5H773.0M751.0 623.5H773.0M751.0 625.5H773.0M751.0 627.5H773.0M751.0 628.5H773.0M751.0 630.5H773.0M751.0 631.5H773.0M751.0 634.5H773.0" stroke="#aaaaaa" stroke-width="1.0" fill="none"/><path d="M751.0 617.5H773.0" stroke="#e2e2e2" stroke-width="1.0" fill="none"/><path d="M751.0 629.5H773.0M751.0 632.5H773.0M751.0 633.5H773.0M751.0 636.5H773.0M751.0 637.5H773.0M751.0 638.5H773.0M751.0 639.5H773.0M751.0 642.5H773.0" stroke="#8d8d8d" stroke-width="1.0" fill="none"/><path d="M751.0 635.5H773.0M751.0 640.5H773.0M751.0 641.5H773.0M751.0 643.5H773.0M751.0 645.5H773.0M751.0 648.5H773.0" stroke="#717171" stroke-width="1.0" fill="none"/><path d="M751.0 644.5H773.0M751.0 646.5H773.0M751.0 647.5H773.0" stroke="#555555" stroke-width="1.0" fill="none"/></g><ellipse cx="773" cy="631" rx="6" ry="16" fill="#ccc" stroke="#111" stroke-width="1.1"/><ellipse cx="774" cy="636" rx="4.5" ry="9" fill="#888" /><line x1="748" y1="598" x2="762" y2="590" stroke="#111" stroke-width="1.12" /><rect x="405" y="234" width="185" height="30" fill="#fdfdfd"  /><g><path d="M495.6 234.5H594.0M405.0 235.5H447.6M447.6 235.5H490.5M490.5 235.5H515.2M515.2 235.5H541.5M541.5 235.5H594.0M489.8 236.5H569.8M405.0 237.5H427.1M464.7 237.5H551.4M551.4 237.5H594.0M405.0 238.5H453.9M453.9 238.5H509.5M405.0 239.5H456.0M502.9 239.5H594.0M476.2 240.5H584.9M584.9 240.5H594.0M405.0 241.5H494.2M494.2 241.5H555.6M555.6 241.5H594.0M405.0 242.5H477.9M477.9 242.5H576.7M455.1 243.5H554.7M405.0 244.5H511.9M511.9 244.5H594.0M405.0 245.5H499.5M499.5 245.5H559.2M405.0 246.5H516.7M544.1 246.5H594.0M476.5 247.5H582.7M524.3 248.5H559.2M544.8 249.5H594.0M405.0 250.5H442.3M552.4 250.5H594.0M405.0 251.5H479.4M557.1 251.5H578.9M578.9 251.5H594.0M485.7 252.5H561.5M561.5 252.5H594.0M506.4 253.5H594.0" stroke="#e2e2e2" stroke-width="1.0" fill="none"/><path d="M434.5 236.5H489.8M559.2 245.5H594.0M405.0 249.5H481.2M481.2 249.5H544.8M442.3 250.5H552.4M479.4 251.5H557.1M405.0 252.5H432.3M405.0 253.5H506.4M428.4 254.5H462.5M462.5 254.5H485.5M552.8 254.5H594.0M405.0 255.5H507.8M591.3 255.5H594.0M405.0 256.5H481.3M481.3 256.5H583.7M583.7 256.5H594.0M474.5 257.5H518.5" stroke="#c6c6c6" stroke-width="1.0" fill="none"/><path d="M432.3 252.5H485.7M405.0 254.5H428.4M485.5 254.5H552.8M507.8 255.5H591.3M518.5 257.5H594.0M405.0 258.5H431.6M431.6 258.5H475.3M475.3 258.5H579.8M579.8 258.5H594.0M405.0 259.5H487.8M487.8 259.5H579.5M579.5 259.5H594.0M463.4 260.5H488.3M488.3 260.5H594.0M405.0 261.5H458.0M405.0 262.5H481.5M548.3 262.5H571.6" stroke="#aaaaaa" stroke-width="1.0" fill="none"/><path d="M405.0 257.5H474.5M405.0 260.5H463.4M458.0 261.5H537.3M537.3 261.5H575.3M575.3 261.5H594.0M481.5 262.5H520.5" stroke="#8d8d8d" stroke-width="1.0" fill="none"/><path d="M520.5 262.5H548.3M571.6 262.5H594.0M405.0 263.5H487.0M487.0 263.5H583.1M583.1 263.5H594.0" stroke="#717171" stroke-width="1.0" fill="none"/></g><path d="M405,233.5 H588 Q597,233.5 597,249 Q597,264 588,264 H405" fill="none" stroke="#111" stroke-width="1.62" /><circle cx="495" cy="250" r="16.5" fill="#fdfdfd" stroke="#111" stroke-width="3.00"/><circle cx="495" cy="250" r="12" fill="#e8e8e8" stroke="#111" stroke-width="1.25"/><path d="M486,252 Q490,240 500,240" stroke="#999" stroke-width="3" fill="none"/><g><path d="M540.5 264.0V273.5M540.5 280.4V289.0M543.5 264.0V272.7M543.5 272.7V283.3M544.5 264.0V274.0M544.5 274.0V289.0M545.5 273.6V289.0M546.5 281.4V289.0M548.5 279.4V289.0M551.5 264.0V276.8M552.5 286.8V289.0M557.5 285.7V289.0M558.5 264.0V283.5M559.5 264.0V285.1M560.5 264.0V274.6M561.5 264.0V276.3M561.5 276.3V289.0M562.5 264.0V289.0M563.5 264.0V283.4" stroke="#aaaaaa" stroke-width="1.0" fill="none"/><path d="M540.5 273.5V280.4M541.5 264.0V272.1M542.5 264.0V289.0M546.5 264.0V281.4M547.5 264.0V278.1M550.5 264.0V289.0M558.5 283.5V289.0M563.5 283.4V289.0" stroke="#c6c6c6" stroke-width="1.0" fill="none"/><path d="M541.5 272.1V289.0M543.5 283.3V289.0M545.5 264.0V273.6M547.5 278.1V289.0M548.5 264.0V279.4M549.5 264.0V279.2M549.5 279.2V289.0M551.5 276.8V289.0M552.5 264.0V286.8M553.5 264.0V289.0M554.5 264.0V272.7M554.5 272.7V289.0M555.5 264.0V278.7M555.5 278.7V289.0M556.5 264.0V283.9M556.5 283.9V289.0M557.5 264.0V285.7M559.5 285.1V289.0M560.5 274.6V289.0" stroke="#8d8d8d" stroke-width="1.0" fill="none"/></g><path d="M550,264 L539,289 M566,264 L557,289" fill="none" stroke="#111" stroke-width="1.50" /><g><path d="M606.5 227.0V233.0M606.5 267.0V289.0M607.5 271.1V287.2M607.5 287.2V289.0M608.5 227.0V250.8M608.5 250.8V273.3M609.5 237.9V247.8M609.5 247.8V263.7M610.5 227.0V234.4M610.5 286.2V289.0M611.5 227.0V248.4M611.5 248.4V259.9M611.5 259.9V269.8M611.5 269.8V288.5M612.5 227.0V241.3M614.5 263.8V271.2M616.5 262.1V289.0M618.5 258.5V269.6" stroke="#c6c6c6" stroke-width="1.0" fill="none"/><path d="M606.5 233.0V245.7M607.5 227.0V244.6M607.5 244.6V271.1M609.5 227.0V237.9M609.5 263.7V287.2M610.5 234.4V241.3M610.5 241.3V267.0M612.5 241.3V263.4M612.5 263.4V289.0M613.5 282.1V289.0M614.5 227.0V233.3M614.5 233.3V245.6M614.5 245.6V263.8M615.5 256.8V269.7M616.5 227.0V244.6M616.5 244.6V262.1M617.5 227.0V242.6M617.5 242.6V264.9M617.5 264.9V274.4M618.5 227.0V243.7M619.5 227.0V236.2M619.5 282.2V289.0M620.5 227.0V255.5M620.5 264.9V273.5M621.5 254.6V265.6M623.5 284.1V289.0M624.5 287.6V289.0" stroke="#aaaaaa" stroke-width="1.0" fill="none"/><path d="M606.5 245.7V267.0" stroke="#e2e2e2" stroke-width="1.0" fill="none"/><path d="M608.5 273.3V289.0M609.5 287.2V289.0M610.5 267.0V286.2M611.5 288.5V289.0M613.5 227.0V247.0M613.5 247.0V269.2M613.5 269.2V282.1M614.5 271.2V289.0M615.5 227.0V256.8M615.5 269.7V287.9M615.5 287.9V289.0M617.5 274.4V289.0M618.5 243.7V258.5M618.5 269.6V289.0M619.5 236.2V263.5M619.5 263.5V271.1M619.5 271.1V282.2M620.5 255.5V264.9M620.5 273.5V289.0M621.5 227.0V254.6M621.5 265.6V286.1M622.5 227.0V238.0M622.5 245.8V274.5M622.5 274.5V288.2M623.5 227.0V234.0M623.5 234.0V243.3M623.5 272.1V284.1M624.5 250.8V264.9M625.5 227.0V235.3M625.5 235.3V261.1M625.5 261.1V282.6M625.5 282.6V289.0M627.5 269.8V284.8M628.5 227.0V241.5" stroke="#8d8d8d" stroke-width="1.0" fill="none"/><path d="M621.5 286.1V289.0M622.5 238.0V245.8M622.5 288.2V289.0M623.5 243.3V272.1M624.5 227.0V250.8M624.5 264.9V287.6M626.5 227.0V256.4M626.5 256.4V265.5M626.5 265.5V285.8M626.5 285.8V289.0M627.5 227.0V254.0M627.5 254.0V269.8M627.5 284.8V289.0M628.5 241.5V267.8M628.5 267.8V289.0" stroke="#717171" stroke-width="1.0" fill="none"/></g><rect x="606" y="227" width="23" height="62" fill="none" stroke="#444" stroke-width="1.25" /><path d="M596,213 V206 Q596,197 607,197 Q619,197 619,206 V213" fill="#ddd" stroke="#111" stroke-width="1.62" /><rect x="577" y="213" width="61" height="14" fill="#eee" stroke="#111" stroke-width="1.50" /><g><path d="M577.0 214.5H635.6M577.0 215.5H607.1M634.8 216.5H638.0M577.0 218.5H622.5M622.5 218.5H638.0M577.0 222.5H638.0M577.0 224.5H638.0" stroke="#8d8d8d" stroke-width="1.0" fill="none"/><path d="M635.6 214.5H638.0M607.1 215.5H638.0M577.0 216.5H634.8M577.0 217.5H638.0M577.0 219.5H632.3M632.3 219.5H638.0M577.0 220.5H638.0M577.0 223.5H629.6M629.6 223.5H638.0M577.0 225.5H598.5M598.5 225.5H638.0" stroke="#aaaaaa" stroke-width="1.0" fill="none"/><path d="M577.0 221.5H638.0" stroke="#c6c6c6" stroke-width="1.0" fill="none"/></g><rect x="580" y="208" width="8" height="5" fill="#555" stroke="#111" stroke-width="1.00" /><rect x="627" y="208" width="8" height="5" fill="#555" stroke="#111" stroke-width="1.00" /><path d="M619,204 L700,183 M628,214 L665,203" fill="none" stroke="#111" stroke-width="1.25" stroke-dasharray="3 3"/><rect x="256" y="289" width="486" height="8" fill="#f0f0f0" stroke="#111" stroke-width="1.50" /><line x1="256" y1="296.5" x2="742" y2="296.5" stroke="#111" stroke-width="2.75" /><rect x="513" y="283" width="10" height="6" fill="#888" stroke="#111" stroke-width="1.00" /><rect x="535" y="283" width="10" height="6" fill="#888" stroke="#111" stroke-width="1.00" /><rect x="555" y="283" width="10" height="6" fill="#888" stroke="#111" stroke-width="1.00" /><rect x="585" y="283" width="10" height="6" fill="#888" stroke="#111" stroke-width="1.00" /><rect x="660" y="283" width="10" height="6" fill="#888" stroke="#111" stroke-width="1.00" /><rect x="695" y="283" width="10" height="6" fill="#888" stroke="#111" stroke-width="1.00" /><path d="M629,289 V278 Q629,267 637,267 Q645,267 645,278 V289 Z" fill="#ddd" stroke="#111" stroke-width="1.62" /><g><path d="M637.5 268.0V274.8M638.5 282.6V289.0M639.5 268.0V277.0M639.5 277.0V285.2M640.5 283.9V289.0M642.5 268.0V289.0M643.5 268.0V285.4M644.5 268.0V286.7M644.5 286.7V289.0" stroke="#8d8d8d" stroke-width="1.0" fill="none"/><path d="M637.5 274.8V289.0M638.5 268.0V282.6M641.5 268.0V289.0" stroke="#717171" stroke-width="1.0" fill="none"/><path d="M639.5 285.2V289.0M640.5 268.0V283.9M643.5 285.4V289.0" stroke="#aaaaaa" stroke-width="1.0" fill="none"/></g><rect x="578" y="283" width="72" height="6" fill="#eee" stroke="#111" stroke-width="1.25" /><rect x="354" y="229" width="48" height="60" fill="#fdfdfd"  /><path d="M402,232 L418,236 L420,262 L402,262 Z" fill="#ddd" stroke="#111" stroke-width="1.50" /><g><path d="M403.5 234.0V256.5M403.5 256.5V262.0M405.5 234.0V250.5M406.5 258.7V262.0M407.5 234.0V240.0M407.5 240.0V248.3M407.5 255.9V262.0M408.5 234.0V256.0M410.5 243.3V262.0M412.5 234.0V243.8M413.5 234.0V258.1M414.5 242.9V254.4M414.5 254.4V262.0M415.5 243.1V254.8M415.5 254.8V262.0M416.5 234.0V250.5M417.5 234.0V250.9" stroke="#aaaaaa" stroke-width="1.0" fill="none"/><path d="M404.5 234.0V242.2M404.5 242.2V249.3M404.5 249.3V262.0M405.5 250.5V262.0M406.5 234.0V258.7M407.5 248.3V255.9M408.5 256.0V262.0M409.5 234.0V251.1M409.5 251.1V262.0M410.5 234.0V243.3M411.5 240.1V262.0M412.5 243.8V262.0M413.5 258.1V262.0M414.5 234.0V242.9M415.5 234.0V243.1M416.5 250.5V262.0M417.5 250.9V262.0M418.5 234.0V253.6M418.5 253.6V260.7M418.5 260.7V262.0" stroke="#c6c6c6" stroke-width="1.0" fill="none"/><path d="M411.5 234.0V240.1" stroke="#8d8d8d" stroke-width="1.0" fill="none"/></g><path d="M371.5,216 V206 Q371.5,195 384,195 Q397,195 397,206 V216" fill="#fdfdfd" stroke="#111" stroke-width="3.25" /><path d="M377.5,216 V211 Q377.5,206.5 384,206.5 Q390.5,206.5 390.5,211 V216" fill="none" stroke="#111" stroke-width="2.00" /><rect x="355" y="216" width="60" height="13" fill="#fdfdfd" stroke="#111" stroke-width="2.50" /><line x1="358" y1="222" x2="412" y2="222" stroke="#777" stroke-width="1.12" /><rect x="401" y="216" width="14" height="17" fill="#fdfdfd" stroke="#111" stroke-width="2.50" /><path d="M357,229 V271 M367,229 V265 H373 V229 M390.5,229 V257 H397 V229 M402,233 V262" fill="none" stroke="#111" stroke-width="2.50" /><g><path d="M358.5 230.0V237.9M358.5 266.5V270.0M359.5 230.0V244.8M359.5 244.8V254.1M359.5 254.1V270.0M360.5 240.2V246.6M360.5 246.6V258.1M361.5 230.0V240.5M361.5 240.5V265.0M361.5 265.0V270.0M362.5 230.0V244.5M365.5 230.0V243.3M365.5 243.3V269.4" stroke="#c6c6c6" stroke-width="1.0" fill="none"/><path d="M358.5 237.9V266.5M362.5 269.6V270.0M363.5 230.0V250.4M365.5 269.4V270.0" stroke="#aaaaaa" stroke-width="1.0" fill="none"/><path d="M360.5 230.0V240.2M360.5 258.1V270.0M362.5 244.5V269.6M363.5 250.4V270.0M364.5 230.0V259.8M364.5 259.8V270.0" stroke="#e2e2e2" stroke-width="1.0" fill="none"/></g><g><path d="M374.5 231.0V256.0M375.5 238.2V251.2M378.5 238.5V254.4M378.5 254.4V256.0M379.5 244.0V256.0M380.5 231.0V248.8M382.5 231.0V256.0M383.5 231.0V247.6M383.5 254.2V256.0M384.5 231.0V248.8M384.5 248.8V256.0M387.5 231.0V253.2M387.5 253.2V256.0" stroke="#8d8d8d" stroke-width="1.0" fill="none"/><path d="M375.5 231.0V238.2M376.5 231.0V256.0M377.5 242.9V256.0M378.5 231.0V238.5M380.5 248.8V256.0M381.5 231.0V244.1M381.5 244.1V252.9M383.5 247.6V254.2M388.5 249.6V256.0" stroke="#aaaaaa" stroke-width="1.0" fill="none"/><path d="M375.5 251.2V256.0M377.5 231.0V242.9M385.5 231.0V256.0M386.5 231.0V256.0M388.5 231.0V249.6M389.5 231.0V255.0" stroke="#717171" stroke-width="1.0" fill="none"/><path d="M379.5 231.0V244.0M381.5 252.9V256.0" stroke="#c6c6c6" stroke-width="1.0" fill="none"/><path d="M389.5 255.0V256.0" stroke="#555555" stroke-width="1.0" fill="none"/></g><line x1="383" y1="215" x2="383" y2="268" stroke="#222" stroke-width="2.75" /><ellipse cx="383" cy="270" rx="11" ry="3.5" fill="#eee" stroke="#111" stroke-width="1.5"/><rect x="371" y="273" width="24" height="11" fill="#f4f4f4" stroke="#111" stroke-width="2.00" /><line x1="368" y1="286.5" x2="398" y2="286.5" stroke="#111" stroke-width="3.75" /><rect x="372" y="287" width="23" height="18" fill="#ccc" stroke="#111" stroke-width="2.00" /><path d="M350.5,289 V276 Q350.5,270 354,270 Q357,270 357,276 V289" fill="none" stroke="#111" stroke-width="2.00" /><path d="M406,289 V281 Q406,275 414,275 Q422,275 422,281 V289" fill="#fdfdfd" stroke="#111" stroke-width="2.00" /><g><path d="M262.5 297.0V304.2M262.5 319.2V329.1M262.5 329.1V338.6M262.5 338.6V356.4M262.5 424.1V432.1M262.5 455.6V465.0M263.5 297.0V303.8M263.5 345.2V354.1M263.5 354.1V366.7M263.5 375.3V391.2M263.5 391.2V407.6M263.5 436.2V464.0M264.5 297.0V314.0M264.5 370.9V381.9M265.5 297.0V320.2M265.5 320.2V344.1M265.5 362.3V380.9M265.5 380.9V394.7M265.5 444.4V465.0M266.5 297.0V323.4M266.5 343.0V366.5M266.5 392.6V400.1M266.5 400.1V417.8M266.5 417.8V447.6M266.5 447.6V465.0M267.5 341.0V368.6M267.5 368.6V393.9M267.5 393.9V404.8M267.5 404.8V427.1M267.5 462.7V465.0M268.5 297.0V324.9M268.5 324.9V331.4M268.5 331.4V352.0M268.5 408.8V431.2M268.5 431.2V453.2M269.5 339.5V360.3M269.5 360.3V387.0M269.5 401.7V427.6M269.5 427.6V457.3M269.5 457.3V465.0M270.5 426.4V435.4M270.5 435.4V451.5M271.5 297.0V307.7M271.5 319.1V332.4M271.5 397.2V422.7M271.5 422.7V445.5M271.5 445.5V465.0M272.5 304.3V328.3M272.5 328.3V358.0M272.5 358.0V367.8M272.5 367.8V388.8M272.5 388.8V398.0M272.5 445.8V453.5M273.5 297.0V310.3M273.5 310.3V323.9M273.5 323.9V351.7M273.5 351.7V379.0M273.5 379.0V391.1M273.5 391.1V399.2M273.5 459.0V465.0M274.5 297.0V304.5M274.5 369.6V388.2M274.5 410.5V433.8M274.5 433.8V447.7M275.5 315.6V328.5M275.5 328.5V342.9M275.5 357.7V363.7M275.5 363.7V387.8M275.5 417.8V438.5M276.5 336.0V350.8M276.5 350.8V364.3M276.5 439.7V462.2M277.5 297.0V306.7M277.5 306.7V334.7M277.5 353.7V368.6M277.5 376.2V383.2M278.5 297.0V313.6M278.5 313.6V325.9M278.5 382.1V405.2M278.5 451.4V459.6M279.5 297.0V305.9M279.5 305.9V332.3M279.5 332.3V347.6M279.5 347.6V357.7M279.5 392.4V400.4M279.5 459.3V465.0M280.5 315.7V322.4M280.5 322.4V344.8M280.5 344.8V362.5M280.5 362.5V388.5M281.5 297.0V313.3M281.5 313.3V342.6M281.5 342.6V369.8M281.5 443.7V465.0M283.5 361.6V378.0M284.5 307.9V314.6M284.5 400.4V413.3M284.5 413.3V425.5M284.5 425.5V447.8M284.5 447.8V462.1M285.5 378.3V406.6M285.5 406.6V432.7M285.5 432.7V453.2M286.5 330.4V351.9M286.5 381.8V398.2M287.5 306.0V333.2M288.5 346.0V366.1M288.5 449.9V460.3M290.5 424.2V442.6M290.5 450.7V456.9M291.5 395.9V409.7M292.5 389.7V401.4M293.5 381.3V389.6" stroke="#8d8d8d" stroke-width="1.0" fill="none"/><path d="M262.5 304.2V319.2M262.5 356.4V369.7M262.5 375.9V399.5M263.5 317.9V345.2M263.5 407.6V436.2M264.5 419.7V444.6M264.5 456.9V465.0M265.5 394.7V404.3M265.5 415.3V444.4M268.5 453.2V465.0M269.5 297.0V322.5M270.5 360.6V375.0M270.5 451.5V465.0" stroke="#717171" stroke-width="1.0" fill="none"/><path d="M262.5 369.7V375.9M262.5 399.5V424.1M262.5 432.1V455.6M263.5 303.8V317.9M263.5 366.7V375.3M263.5 464.0V465.0M264.5 314.0V334.6M264.5 334.6V364.4M264.5 364.4V370.9M264.5 381.9V408.1M264.5 408.1V419.7M264.5 444.6V456.9M265.5 344.1V362.3M265.5 404.3V415.3M266.5 323.4V343.0M266.5 366.5V392.6M267.5 297.0V319.6M267.5 319.6V341.0M267.5 427.1V435.7M267.5 435.7V451.3M267.5 451.3V462.7M268.5 352.0V372.8M268.5 372.8V386.9M268.5 386.9V408.8M270.5 297.0V326.8M270.5 326.8V354.3M270.5 354.3V360.6M270.5 375.0V390.5M270.5 390.5V413.1M270.5 413.1V426.4M271.5 332.4V345.4M271.5 345.4V363.9M271.5 363.9V382.8M271.5 382.8V397.2M272.5 297.0V304.3M272.5 398.0V416.3M272.5 416.3V445.8M272.5 453.5V465.0M273.5 399.2V407.0M273.5 407.0V435.8M273.5 435.8V459.0M274.5 304.5V330.1M274.5 388.2V410.5M274.5 447.7V465.0M275.5 297.0V315.6M275.5 342.9V357.7M275.5 438.5V465.0M276.5 297.0V308.6M276.5 318.1V336.0M276.5 383.1V389.8M276.5 416.8V439.7M276.5 462.2V465.0M277.5 368.6V376.2M277.5 397.7V412.2M277.5 412.2V428.6M278.5 325.9V337.8M278.5 362.8V382.1M278.5 405.2V427.9M278.5 427.9V438.7M278.5 438.7V451.4M279.5 357.7V386.3M279.5 400.4V421.0M279.5 421.0V429.7M279.5 439.0V459.3M280.5 297.0V306.3M280.5 306.3V315.7M280.5 428.2V452.5M280.5 452.5V465.0M281.5 369.8V382.3M281.5 382.3V389.8M281.5 389.8V418.7M281.5 418.7V428.2M281.5 428.2V435.8M281.5 435.8V443.7M282.5 297.0V323.5M282.5 340.1V365.0M282.5 422.9V448.7M282.5 448.7V465.0M283.5 306.8V333.0M283.5 333.0V354.5M283.5 378.0V406.6M283.5 418.9V438.3M284.5 341.5V347.9M284.5 347.9V359.8M284.5 359.8V387.7M284.5 387.7V400.4M285.5 347.9V356.3M285.5 356.3V365.7M285.5 365.7V378.3M285.5 453.2V465.0M286.5 297.0V310.8M286.5 375.1V381.8M286.5 398.2V417.4M286.5 417.4V437.9M286.5 437.9V460.2M287.5 297.0V306.0M287.5 333.2V346.3M287.5 346.3V364.7M287.5 364.7V375.0M287.5 424.9V446.4M287.5 446.4V465.0M288.5 317.7V334.8M288.5 334.8V346.0M288.5 366.1V386.8M288.5 411.3V426.2M288.5 426.2V449.9M288.5 460.3V465.0M289.5 297.0V326.9M289.5 342.1V348.5M289.5 348.5V371.8M289.5 371.8V396.6M289.5 396.6V420.4M289.5 420.4V441.6M289.5 441.6V463.6M289.5 463.6V465.0M290.5 297.0V319.9M290.5 319.9V349.2M290.5 349.2V359.2M290.5 442.6V450.7M290.5 456.9V465.0M291.5 297.0V318.3M291.5 328.2V344.8M291.5 344.8V353.6M291.5 353.6V370.9M291.5 370.9V395.9M291.5 430.0V449.2M291.5 449.2V456.3M292.5 343.8V364.6M292.5 364.6V389.7M292.5 420.5V432.7M292.5 432.7V449.1M292.5 449.1V461.3M292.5 461.3V465.0M293.5 313.5V333.4M293.5 333.4V352.5M293.5 352.5V381.3M293.5 428.3V446.2M293.5 458.9V465.0M294.5 297.0V326.2M294.5 326.2V352.8M294.5 352.8V380.6M294.5 409.9V438.1M294.5 438.1V448.9M295.5 328.9V347.0M295.5 347.0V358.5M295.5 358.5V378.5M295.5 456.6V464.6M296.5 297.0V305.0M296.5 340.1V349.7M296.5 349.7V379.5M296.5 379.5V396.2M296.5 396.2V419.1" stroke="#aaaaaa" stroke-width="1.0" fill="none"/><path d="M269.5 322.5V339.5M269.5 387.0V401.7M271.5 307.7V319.1M274.5 330.1V346.8M274.5 346.8V369.6M275.5 387.8V407.9M275.5 407.9V417.8M276.5 308.6V318.1M276.5 364.3V383.1M276.5 389.8V416.8M277.5 334.7V353.7M277.5 383.2V397.7M277.5 428.6V450.4M277.5 450.4V465.0M278.5 337.8V362.8M278.5 459.6V465.0M279.5 386.3V392.4M279.5 429.7V439.0M280.5 388.5V413.9M280.5 413.9V428.2M282.5 323.5V340.1M282.5 365.0V380.8M282.5 380.8V397.8M282.5 397.8V406.7M282.5 406.7V422.9M283.5 297.0V306.8M283.5 354.5V361.6M283.5 406.6V418.9M283.5 438.3V465.0M284.5 297.0V307.9M284.5 314.6V341.5M284.5 462.1V465.0M285.5 297.0V318.5M285.5 318.5V327.2M285.5 327.2V347.9M286.5 310.8V330.4M286.5 351.9V375.1M286.5 460.2V465.0M287.5 375.0V383.0M287.5 383.0V395.7M287.5 395.7V406.4M287.5 406.4V424.9M288.5 297.0V317.7M288.5 386.8V411.3M289.5 326.9V342.1M290.5 359.2V373.8M290.5 373.8V401.1M290.5 401.1V424.2M291.5 318.3V328.2M291.5 409.7V430.0M291.5 456.3V465.0M292.5 297.0V306.8M292.5 306.8V323.3M292.5 323.3V343.8M292.5 401.4V420.5M293.5 297.0V313.5M293.5 389.6V395.9M293.5 395.9V421.6M293.5 421.6V428.3M293.5 446.2V452.6M293.5 452.6V458.9M294.5 380.6V392.4M294.5 392.4V409.9M294.5 448.9V465.0M295.5 297.0V317.1M295.5 317.1V328.9M295.5 378.5V408.4M295.5 408.4V438.4M295.5 438.4V456.6M295.5 464.6V465.0M296.5 305.0V315.7M296.5 315.7V340.1M296.5 419.1V443.9M296.5 443.9V465.0" stroke="#c6c6c6" stroke-width="1.0" fill="none"/></g><g><path d="M297.5 297.0V306.1M297.5 306.1V316.5M297.5 316.5V329.3M297.5 329.3V345.7M297.5 345.7V374.4M297.5 374.4V398.8M297.5 414.4V436.2M298.5 297.0V312.4M298.5 312.4V318.6M298.5 376.1V396.4M298.5 396.4V418.8M298.5 418.8V443.6M298.5 443.6V452.2M298.5 464.2V465.0M299.5 353.2V359.8M299.5 388.9V395.2M299.5 441.5V453.1M300.5 297.0V315.2M300.5 315.2V335.7M300.5 346.1V356.6M300.5 356.6V376.9M300.5 376.9V398.2M300.5 419.7V445.9M300.5 445.9V465.0M301.5 297.0V322.9M301.5 322.9V345.4M301.5 379.2V399.9M301.5 399.9V420.5M301.5 432.3V455.0M302.5 297.0V313.7M302.5 313.7V334.9M302.5 334.9V359.3M302.5 359.3V382.8M302.5 382.8V399.5M302.5 447.1V465.0M303.5 311.7V324.4M303.5 353.2V380.9M303.5 405.9V412.4M303.5 420.0V448.5M303.5 448.5V465.0M304.5 297.0V307.3M304.5 315.5V333.4M304.5 333.4V346.4M304.5 355.8V363.2M304.5 363.2V383.2M304.5 383.2V399.3M304.5 399.3V422.7M304.5 449.6V462.6M304.5 462.6V465.0M305.5 319.3V348.0M305.5 348.0V358.9M305.5 358.9V380.0M305.5 399.2V416.5M305.5 416.5V430.9M305.5 449.4V465.0M306.5 297.0V312.7M306.5 312.7V333.3M306.5 333.3V346.1M306.5 346.1V360.5M306.5 360.5V372.3M306.5 457.4V465.0M307.5 297.0V311.5M307.5 311.5V327.8M307.5 327.8V354.9M307.5 354.9V381.1M308.5 321.1V337.2M308.5 337.2V363.5M308.5 363.5V373.0M308.5 373.0V384.6M308.5 384.6V400.6M308.5 417.3V430.8M308.5 445.1V464.0M309.5 297.0V310.9M309.5 310.9V328.8M309.5 384.4V391.0M309.5 415.2V423.4M309.5 449.1V465.0M310.5 315.6V322.2M310.5 322.2V337.6M310.5 337.6V346.1M310.5 365.1V372.8M310.5 372.8V401.4M310.5 401.4V420.4M310.5 420.4V440.9M310.5 440.9V451.0M310.5 451.0V465.0M311.5 304.0V312.7M311.5 330.2V355.0M311.5 374.0V380.9M311.5 380.9V407.9M311.5 407.9V436.5M311.5 458.9V465.0M312.5 297.0V312.8M312.5 312.8V327.1M312.5 327.1V338.0M312.5 338.0V354.3M312.5 384.8V402.3M312.5 402.3V422.9M312.5 422.9V447.4M313.5 314.2V333.6M313.5 333.6V360.3M313.5 382.9V404.7M313.5 404.7V425.5M313.5 454.0V465.0" stroke="#e2e2e2" stroke-width="1.0" fill="none"/></g><line x1="297" y1="297" x2="297" y2="465" stroke="#888" stroke-width="1.00" /><line x1="314" y1="297" x2="314" y2="465" stroke="#888" stroke-width="1.00" /><g><path d="M314.5 297.0V303.9M314.5 303.9V329.9M314.5 340.2V350.6M314.5 423.5V439.7M314.5 439.7V465.0M315.5 314.2V337.9M315.5 345.6V369.6M315.5 388.6V409.5M315.5 409.5V417.3M315.5 440.9V447.8M315.5 447.8V465.0M316.5 334.6V357.4M316.5 381.5V391.6M316.5 430.4V454.7M317.5 384.4V401.5M317.5 455.4V465.0M318.5 297.0V303.7M318.5 344.0V368.2M318.5 368.2V390.2M318.5 390.2V401.4M318.5 416.1V435.3M319.5 321.9V334.6M319.5 375.5V382.2M319.5 382.2V402.7M319.5 402.7V410.4M319.5 410.4V428.9M319.5 428.9V440.3M319.5 440.3V457.9M320.5 297.0V309.6M320.5 321.8V332.7M320.5 404.8V419.4M320.5 450.7V465.0M321.5 325.1V343.9M321.5 379.4V408.9M321.5 408.9V433.5M322.5 381.0V405.7M322.5 430.5V450.0M322.5 459.5V465.0M323.5 325.9V350.1M323.5 369.9V389.9M323.5 389.9V404.3M323.5 404.3V427.0M323.5 447.4V455.2M324.5 297.0V317.9M324.5 353.2V362.6M324.5 362.6V381.5M324.5 381.5V401.5M324.5 424.3V450.5M324.5 450.5V460.7M325.5 297.0V324.9M325.5 357.7V368.2M325.5 387.3V396.7M325.5 396.7V417.2M325.5 450.7V465.0M326.5 331.2V350.5M326.5 377.7V406.7M326.5 435.9V442.0M326.5 442.0V456.7M326.5 456.7V464.3M326.5 464.3V465.0M327.5 297.0V314.6M327.5 375.2V399.9M327.5 399.9V423.6M327.5 423.6V433.8M327.5 442.5V454.6M328.5 390.3V409.5M328.5 409.5V438.1M328.5 438.1V448.6M329.5 323.5V340.8M329.5 392.3V410.4M330.5 297.0V327.0M330.5 327.0V338.0M330.5 363.7V375.1M330.5 422.6V450.7M330.5 450.7V465.0M331.5 317.7V330.8M331.5 358.5V388.0M331.5 438.0V450.7M331.5 450.7V460.8M331.5 460.8V465.0M332.5 297.0V306.6M332.5 338.0V367.5M332.5 417.5V431.7M332.5 431.7V460.3M333.5 297.0V325.9M333.5 325.9V336.4M333.5 361.3V383.2M333.5 393.9V417.3M333.5 417.3V425.5M333.5 425.5V441.5M333.5 441.5V451.5M334.5 390.3V399.6M334.5 433.6V460.9M335.5 304.4V327.6M335.5 327.6V348.5M335.5 348.5V367.2M335.5 367.2V380.0M335.5 399.0V427.3M335.5 427.3V441.7M335.5 441.7V465.0M336.5 297.0V308.1M336.5 358.0V370.1M336.5 370.1V393.5M336.5 393.5V410.4M336.5 410.4V423.4M336.5 434.2V441.1M336.5 441.1V453.5M337.5 297.0V324.3M337.5 324.3V334.8M337.5 379.0V385.5M337.5 385.5V399.5M337.5 399.5V405.7M337.5 414.8V425.8M337.5 436.0V444.7M337.5 444.7V456.0M338.5 297.0V320.7M338.5 350.1V371.4M338.5 438.0V458.7M339.5 322.1V344.0M339.5 344.0V372.5M339.5 458.2V465.0M340.5 297.0V310.7M340.5 310.7V326.3M340.5 355.6V373.1M340.5 385.4V398.4M340.5 414.7V423.7M341.5 304.9V324.0M341.5 358.7V387.7M341.5 412.6V432.2M342.5 304.6V327.6M342.5 372.8V398.3M342.5 459.9V465.0M343.5 391.4V415.1M343.5 439.4V454.3M344.5 318.2V328.0M344.5 384.3V391.6M344.5 391.6V416.6M344.5 452.0V465.0M345.5 297.0V320.5M345.5 320.5V341.5M345.5 382.6V409.4M345.5 420.4V432.0" stroke="#c6c6c6" stroke-width="1.0" fill="none"/><path d="M314.5 329.9V340.2M314.5 390.0V411.5M314.5 411.5V423.5M315.5 297.0V314.2M315.5 337.9V345.6M315.5 369.6V378.4M315.5 378.4V388.6M316.5 308.5V334.6M316.5 420.6V430.4M316.5 454.7V462.5M316.5 462.5V465.0M317.5 316.6V340.3M317.5 340.3V366.3M317.5 366.3V384.4M317.5 401.5V422.7M317.5 422.7V442.9M317.5 442.9V455.4M318.5 303.7V324.6M318.5 324.6V344.0M318.5 401.4V416.1M318.5 435.3V442.7M318.5 442.7V465.0M319.5 334.6V347.7M319.5 457.9V465.0M320.5 309.6V321.8M320.5 332.7V356.4M320.5 356.4V375.1M320.5 375.1V404.8M321.5 297.0V325.1M321.5 357.6V366.2M321.5 462.7V465.0M322.5 297.0V303.6M322.5 303.6V317.7M322.5 325.6V333.7M322.5 333.7V362.3M322.5 405.7V430.5M323.5 350.1V358.6M323.5 358.6V369.9M323.5 427.0V447.4M323.5 455.2V465.0M325.5 340.8V357.7M325.5 368.2V387.3M325.5 417.2V423.9M325.5 423.9V450.7M326.5 297.0V310.4M326.5 310.4V331.2M326.5 362.2V369.6M326.5 369.6V377.7M326.5 406.7V435.9M327.5 314.6V342.7M327.5 342.7V360.7M327.5 360.7V375.2M327.5 433.8V442.5M327.5 454.6V465.0M328.5 297.0V324.8M328.5 324.8V347.4M328.5 347.4V370.0M328.5 370.0V390.3M328.5 448.6V462.1M329.5 297.0V308.0M329.5 308.0V323.5M329.5 340.8V363.3M329.5 363.3V371.5M329.5 371.5V392.3M329.5 410.4V440.1M329.5 440.1V456.6M329.5 456.6V465.0M330.5 338.0V363.7M330.5 375.1V402.5M330.5 402.5V422.6M331.5 297.0V317.7M331.5 330.8V358.5M331.5 388.0V409.0M331.5 409.0V438.0M332.5 306.6V329.0M332.5 329.0V338.0M332.5 367.5V386.3M332.5 386.3V392.9M332.5 392.9V417.5M332.5 460.3V465.0M333.5 336.4V361.3M333.5 383.2V393.9M333.5 451.5V465.0M334.5 297.0V318.2M334.5 318.2V327.3M334.5 327.3V342.0M334.5 342.0V362.4M334.5 399.6V407.7M334.5 407.7V419.1M334.5 460.9V465.0M335.5 297.0V304.4M335.5 380.0V399.0M336.5 308.1V324.2M336.5 324.2V340.7M336.5 340.7V358.0M336.5 423.4V434.2M336.5 453.5V465.0M337.5 334.8V353.0M337.5 353.0V379.0M337.5 405.7V414.8M337.5 425.8V436.0M337.5 456.0V465.0M338.5 371.4V378.6M338.5 378.6V396.2M338.5 396.2V426.2M339.5 297.0V322.1M339.5 372.5V397.0M339.5 397.0V414.7M339.5 414.7V442.7M339.5 442.7V458.2M340.5 326.3V355.6M340.5 373.1V385.4M340.5 398.4V414.7M340.5 423.7V443.1M340.5 458.9V465.0M341.5 324.0V349.5M341.5 349.5V358.7M341.5 387.7V412.6M341.5 432.2V445.8M342.5 297.0V304.6M342.5 334.1V358.8M342.5 358.8V372.8M342.5 398.3V421.6M343.5 297.0V310.0M343.5 334.1V362.0M343.5 362.0V391.4M343.5 415.1V430.8M343.5 454.3V462.3M344.5 297.0V318.2M344.5 328.0V350.5M344.5 350.5V368.4M344.5 416.6V430.6M344.5 430.6V443.7M344.5 443.7V452.0M345.5 341.5V355.1M345.5 355.1V375.7M345.5 375.7V382.6M345.5 409.4V420.4M345.5 432.0V439.8M345.5 439.8V465.0" stroke="#aaaaaa" stroke-width="1.0" fill="none"/><path d="M314.5 350.6V367.6M314.5 367.6V380.0M314.5 380.0V390.0M315.5 417.3V440.9M316.5 297.0V308.5M316.5 357.4V381.5M316.5 391.6V420.6M317.5 297.0V316.6M319.5 297.0V321.9M319.5 347.7V358.7M319.5 358.7V375.5M320.5 419.4V440.4M320.5 440.4V450.7M321.5 343.9V357.6M321.5 366.2V379.4M321.5 433.5V462.7M322.5 317.7V325.6M322.5 362.3V381.0M322.5 450.0V459.5M323.5 297.0V325.9M324.5 317.9V334.9M324.5 334.9V353.2M324.5 401.5V424.3M324.5 460.7V465.0M325.5 324.9V340.8M326.5 350.5V362.2M328.5 462.1V465.0M334.5 419.1V433.6" stroke="#e2e2e2" stroke-width="1.0" fill="none"/><path d="M334.5 362.4V390.3M338.5 320.7V350.1M338.5 426.2V438.0M338.5 458.7V465.0M340.5 443.1V458.9M341.5 297.0V304.9M341.5 445.8V465.0M342.5 327.6V334.1M342.5 421.6V438.8M342.5 438.8V459.9M343.5 310.0V334.1M343.5 430.8V439.4M343.5 462.3V465.0M344.5 368.4V384.3" stroke="#8d8d8d" stroke-width="1.0" fill="none"/></g><line x1="262" y1="297" x2="262" y2="465" stroke="#111" stroke-width="2.25" /><g><path d="M346.5 297.0V317.2M346.5 343.5V358.7M347.5 307.9V322.8M347.5 322.8V340.0M347.5 420.9V435.5M348.5 372.8V391.0M349.5 331.3V340.2M349.5 340.2V369.9M349.5 415.8V444.9M350.5 297.0V320.6M350.5 320.6V348.2M350.5 348.2V372.5M350.5 395.3V415.1M350.5 434.8V451.6M352.5 362.7V392.5M352.5 436.9V459.2M353.5 387.5V397.3M353.5 397.3V408.5M354.5 394.4V417.8M355.5 364.3V379.6M356.5 368.5V381.0M356.5 381.0V396.3M356.5 440.3V458.3M357.5 414.5V431.3M357.5 431.3V456.1M358.5 327.5V345.0M360.5 297.0V317.2M360.5 357.8V370.2M360.5 381.6V400.5M360.5 400.5V427.0M360.5 460.7V465.0M361.5 297.0V316.3M361.5 361.7V389.4M361.5 389.4V399.7M362.5 297.0V318.1M363.5 355.5V379.6M364.5 315.9V336.7" stroke="#8d8d8d" stroke-width="1.0" fill="none"/><path d="M346.5 317.2V343.5M346.5 449.8V465.0M347.5 297.0V307.9M347.5 350.4V375.6M347.5 399.1V420.9M347.5 435.5V450.5M348.5 340.7V353.3M348.5 364.7V372.8M348.5 415.7V439.5M348.5 439.5V457.8M348.5 457.8V465.0M349.5 297.0V305.8M349.5 320.1V331.3M349.5 369.9V379.1M349.5 379.1V406.2M350.5 415.1V434.8M351.5 336.8V363.7M351.5 392.2V418.5M351.5 418.5V432.2M352.5 297.0V324.8M352.5 459.2V465.0M353.5 303.7V329.3M353.5 355.7V365.7M353.5 408.5V437.2M354.5 297.0V312.9M354.5 339.2V367.1M354.5 367.1V394.4M354.5 431.5V447.4M355.5 297.0V322.2M355.5 322.2V332.2M355.5 332.2V357.7M355.5 379.6V406.2M356.5 357.8V368.5M357.5 346.0V370.6M357.5 370.6V385.4M357.5 456.1V465.0M358.5 297.0V311.9M358.5 345.0V363.8M359.5 366.4V386.4M359.5 413.1V442.5M360.5 370.2V381.6M360.5 447.7V460.7M362.5 360.8V382.8M362.5 382.8V401.0M362.5 401.0V422.6M362.5 422.6V435.7M363.5 333.9V355.5M363.5 379.6V406.7M363.5 406.7V434.7M363.5 443.8V458.2M364.5 385.8V407.2M364.5 415.2V437.5M364.5 437.5V465.0" stroke="#c6c6c6" stroke-width="1.0" fill="none"/><path d="M346.5 358.7V387.3M346.5 387.3V408.4M346.5 408.4V416.6M346.5 416.6V428.1M346.5 428.1V449.8M347.5 340.0V350.4M347.5 375.6V399.1M347.5 450.5V465.0M348.5 297.0V319.7M348.5 319.7V340.7M348.5 353.3V364.7M348.5 391.0V415.7M349.5 305.8V320.1M349.5 406.2V415.8M349.5 444.9V465.0M350.5 372.5V395.3M350.5 451.6V465.0M351.5 297.0V325.4M351.5 325.4V336.8M351.5 363.7V392.2M351.5 432.2V443.4M351.5 443.4V465.0M352.5 324.8V337.7M352.5 337.7V362.7M352.5 392.5V411.3M352.5 411.3V436.9M353.5 297.0V303.7M353.5 329.3V355.7M353.5 365.7V387.5M353.5 437.2V460.0M353.5 460.0V465.0M354.5 312.9V339.2M354.5 417.8V431.5M354.5 447.4V465.0M355.5 357.7V364.3M355.5 406.2V430.0M355.5 430.0V454.4M355.5 454.4V462.1M355.5 462.1V465.0M356.5 297.0V316.3M356.5 316.3V332.0M356.5 332.0V357.8M356.5 396.3V425.4M356.5 425.4V440.3M356.5 458.3V465.0M357.5 297.0V319.4M357.5 319.4V329.7M357.5 329.7V346.0M357.5 385.4V414.5M358.5 311.9V327.5M358.5 363.8V374.1M358.5 374.1V392.5M358.5 392.5V410.3M358.5 410.3V432.6M358.5 432.6V439.8M358.5 439.8V451.8M358.5 451.8V465.0M359.5 297.0V326.1M359.5 326.1V347.0M359.5 347.0V355.7M359.5 355.7V366.4M359.5 386.4V413.1M359.5 442.5V459.6M359.5 459.6V465.0M360.5 317.2V333.8M360.5 333.8V357.8M360.5 427.0V447.7M361.5 316.3V341.5M361.5 341.5V361.7M361.5 399.7V422.0M361.5 422.0V445.9M361.5 445.9V465.0M362.5 318.1V345.5M362.5 345.5V360.8M362.5 435.7V448.5M362.5 448.5V465.0M363.5 297.0V318.5M363.5 318.5V333.9M363.5 434.7V443.8M363.5 458.2V465.0M364.5 297.0V315.9M364.5 336.7V360.0M364.5 360.0V385.8M364.5 407.2V415.2" stroke="#aaaaaa" stroke-width="1.0" fill="none"/></g><g><path d="M360.5 352.0V369.8M360.5 399.1V411.1M360.5 411.1V425.8M360.5 435.0V451.6M361.5 352.0V359.6M361.5 389.9V396.6M361.5 396.6V426.3M361.5 426.3V433.2M361.5 433.2V447.9M361.5 447.9V463.1M361.5 463.1V465.0M362.5 352.0V362.4M362.5 362.4V382.2M362.5 382.2V406.0M362.5 417.1V425.9M362.5 425.9V441.9M362.5 453.0V465.0M363.5 434.5V443.2M363.5 443.2V465.0M364.5 352.0V380.7M364.5 422.9V449.0M365.5 413.9V441.3M366.5 352.0V370.0M366.5 370.0V388.1M366.5 388.1V407.3M366.5 431.5V444.2M366.5 444.2V455.9M366.5 455.9V465.0M367.5 376.4V388.6M367.5 428.3V448.6M368.5 352.0V360.6M368.5 398.8V408.7M368.5 408.7V428.4M368.5 428.4V453.4M368.5 453.4V465.0M369.5 352.0V374.5M369.5 374.5V385.6M369.5 414.3V428.2M370.5 380.0V399.2M370.5 399.2V415.0M370.5 415.0V442.9M370.5 442.9V465.0M371.5 379.2V397.4M371.5 432.0V450.5M371.5 450.5V465.0M372.5 352.0V379.7M372.5 379.7V405.6M372.5 405.6V432.9M372.5 432.9V452.0M372.5 452.0V465.0M373.5 352.0V370.8M373.5 370.8V387.8M373.5 387.8V404.5M373.5 404.5V412.3M373.5 427.3V440.9M373.5 440.9V460.1M373.5 460.1V465.0M374.5 387.5V410.0M374.5 410.0V431.4M374.5 431.4V449.6M375.5 352.0V378.3M375.5 378.3V398.0M375.5 398.0V425.0M375.5 451.7V465.0M376.5 352.0V381.3M376.5 400.0V420.5M376.5 420.5V442.3M378.5 352.0V370.7M378.5 370.7V397.3M378.5 397.3V403.6M378.5 455.6V465.0M379.5 352.0V360.8M379.5 415.2V436.8M379.5 436.8V461.7M380.5 352.0V362.3M380.5 379.0V406.9M381.5 352.0V373.9M381.5 373.9V391.3M381.5 421.4V445.1M381.5 445.1V464.3M381.5 464.3V465.0M382.5 352.0V376.8M382.5 392.0V398.9M382.5 398.9V405.3M382.5 435.7V450.3M382.5 450.3V465.0M383.5 380.7V410.5M383.5 410.5V435.0M383.5 435.0V453.4" stroke="#8d8d8d" stroke-width="1.0" fill="none"/><path d="M360.5 369.8V399.1M363.5 352.0V372.6M363.5 372.6V389.0M364.5 380.7V407.5M365.5 367.9V386.3M365.5 441.3V465.0M367.5 388.6V407.1M367.5 407.1V428.3M367.5 463.8V465.0M369.5 385.6V414.3M369.5 440.3V461.9M370.5 352.0V359.6M371.5 410.6V432.0M374.5 352.0V380.1M376.5 442.3V457.4M377.5 375.7V399.8M377.5 422.1V447.2M377.5 458.2V465.0M379.5 360.8V384.3M379.5 399.4V415.2M380.5 362.3V379.0M380.5 406.9V427.6M380.5 456.4V465.0M382.5 376.8V392.0M383.5 352.0V358.4" stroke="#aaaaaa" stroke-width="1.0" fill="none"/><path d="M360.5 425.8V435.0M360.5 451.6V463.5M360.5 463.5V465.0M361.5 359.6V373.4M361.5 373.4V389.9M362.5 406.0V417.1M362.5 441.9V453.0M363.5 389.0V408.0M363.5 408.0V434.5M364.5 407.5V422.9M364.5 449.0V465.0M365.5 352.0V367.9M365.5 386.3V413.9M366.5 407.3V431.5M367.5 352.0V376.4M367.5 448.6V463.8M368.5 360.6V384.3M368.5 384.3V398.8M369.5 428.2V440.3M369.5 461.9V465.0M370.5 359.6V380.0M371.5 352.0V379.2M371.5 397.4V410.6M373.5 412.3V419.0M373.5 419.0V427.3M374.5 380.1V387.5M374.5 449.6V465.0M375.5 425.0V451.7M376.5 381.3V400.0M376.5 457.4V465.0M377.5 352.0V375.7M377.5 399.8V413.5M377.5 413.5V422.1M377.5 447.2V458.2M378.5 403.6V409.9M378.5 409.9V437.2M378.5 437.2V443.2M378.5 443.2V455.6M379.5 384.3V399.4M379.5 461.7V465.0M380.5 427.6V456.4M381.5 391.3V400.9M381.5 400.9V421.4M382.5 405.3V420.4M382.5 420.4V427.4M382.5 427.4V435.7M383.5 358.4V380.7M383.5 453.4V465.0" stroke="#717171" stroke-width="1.0" fill="none"/></g><g><path d="M384.5 352.0V364.0M384.5 364.0V391.8M384.5 391.8V417.4M384.5 417.4V431.8M385.5 352.0V378.4M385.5 378.4V401.4M385.5 425.4V447.5M385.5 447.5V463.3M385.5 463.3V465.0M386.5 352.0V376.5M386.5 376.5V385.4M386.5 409.4V426.5M386.5 426.5V432.8M386.5 447.3V465.0M387.5 381.0V410.9M387.5 410.9V433.6M387.5 461.5V465.0M388.5 352.0V358.5M388.5 395.1V402.7M388.5 402.7V421.9M388.5 441.9V456.5M389.5 430.2V459.1M390.5 404.4V411.2M390.5 423.3V433.7M390.5 462.9V465.0M392.5 352.0V375.7M392.5 405.4V415.9M392.5 415.9V440.4M392.5 440.4V458.6M393.5 352.0V375.8M393.5 428.6V442.3M393.5 442.3V461.7M393.5 461.7V465.0M394.5 352.0V362.4M394.5 389.8V419.5M395.5 359.7V388.5M395.5 388.5V400.1M395.5 400.1V414.8M395.5 414.8V425.0M395.5 425.0V453.4M395.5 453.4V465.0M396.5 352.0V370.9M396.5 393.5V401.3M396.5 401.3V426.9M396.5 426.9V433.9M396.5 433.9V441.0M396.5 451.3V462.8M397.5 425.6V443.2M397.5 443.2V453.5M397.5 453.5V460.5M397.5 460.5V465.0M398.5 352.0V365.3M398.5 365.3V383.3M398.5 383.3V404.6M398.5 431.9V461.0M398.5 461.0V465.0M399.5 362.7V388.9M399.5 388.9V395.4M400.5 352.0V371.5M400.5 416.8V428.7M400.5 438.4V447.1M400.5 457.3V465.0M401.5 413.4V437.2M401.5 450.2V462.9M402.5 352.0V361.7M402.5 361.7V374.4M402.5 384.6V392.3M402.5 411.2V425.7M402.5 425.7V437.0M402.5 437.0V443.1M402.5 462.9V465.0" stroke="#aaaaaa" stroke-width="1.0" fill="none"/><path d="M384.5 431.8V453.4M384.5 453.4V465.0M385.5 401.4V425.4M386.5 385.4V409.4M386.5 432.8V447.3M387.5 352.0V364.9M387.5 433.6V461.5M388.5 374.1V395.1M388.5 421.9V441.9M388.5 456.5V465.0M389.5 362.3V389.1M389.5 389.1V403.1M389.5 459.1V465.0M390.5 352.0V380.6M390.5 380.6V404.4M390.5 433.7V450.2M390.5 450.2V462.9M391.5 352.0V380.5M391.5 380.5V391.5M391.5 391.5V405.2M391.5 405.2V429.3M391.5 429.3V448.2M391.5 448.2V461.7M392.5 375.7V405.4M394.5 362.4V381.0M394.5 419.5V439.2M394.5 439.2V452.9M394.5 452.9V461.0M394.5 461.0V465.0M395.5 352.0V359.7M396.5 370.9V393.5M396.5 441.0V451.3M397.5 352.0V370.1M397.5 370.1V377.1M397.5 377.1V386.1M397.5 386.1V399.2M397.5 399.2V425.6M399.5 352.0V362.7M399.5 395.4V404.6M399.5 404.6V432.7M399.5 432.7V458.5M399.5 458.5V465.0M400.5 371.5V394.7M400.5 394.7V416.8M400.5 428.7V438.4M400.5 447.1V457.3M401.5 352.0V370.0M401.5 370.0V382.3M401.5 382.3V403.2M401.5 403.2V413.4M401.5 437.2V450.2M401.5 462.9V465.0M402.5 374.4V384.6M402.5 392.3V411.2M402.5 443.1V462.9" stroke="#c6c6c6" stroke-width="1.0" fill="none"/><path d="M387.5 364.9V381.0M388.5 358.5V374.1M389.5 352.0V362.3M389.5 403.1V430.2M390.5 411.2V423.3M391.5 461.7V465.0M392.5 458.6V465.0M393.5 375.8V394.7M393.5 394.7V412.0M393.5 412.0V428.6M394.5 381.0V389.8M396.5 462.8V465.0M398.5 404.6V431.9" stroke="#8d8d8d" stroke-width="1.0" fill="none"/></g><g><path d="M403.5 297.0V306.1M403.5 306.1V312.8M403.5 312.8V338.9M403.5 345.4V371.3M403.5 371.3V383.8M403.5 461.4V465.0M404.5 297.0V308.0M404.5 308.0V322.5M404.5 341.9V366.2M404.5 383.0V408.2M404.5 425.3V442.5M405.5 326.9V348.4M405.5 348.4V360.9M405.5 387.6V407.1M405.5 419.1V429.5M405.5 429.5V450.8M406.5 360.3V382.2M406.5 382.2V411.3M406.5 463.6V465.0M407.5 309.6V339.4M407.5 362.1V390.8M407.5 425.5V436.5M407.5 445.2V459.4M408.5 405.3V418.9M408.5 433.3V440.2M408.5 453.4V465.0M409.5 316.2V342.3M409.5 374.7V385.0M409.5 396.1V418.7M409.5 448.2V465.0M410.5 297.0V305.8M410.5 355.6V370.6M410.5 370.6V389.7M410.5 389.7V397.0M410.5 397.0V406.6M410.5 406.6V431.2M410.5 431.2V452.7M410.5 452.7V465.0M411.5 341.6V348.7M412.5 336.8V350.4M412.5 350.4V361.7M412.5 361.7V386.0M412.5 393.9V419.2M412.5 419.2V431.0M412.5 431.0V455.2M412.5 464.4V465.0M413.5 297.0V311.6M413.5 311.6V321.5M413.5 334.1V354.3M413.5 354.3V364.9M413.5 394.8V421.0M413.5 421.0V432.2M413.5 432.2V453.8M414.5 352.0V367.8M414.5 413.7V429.3M414.5 429.3V451.1M415.5 297.0V307.2M415.5 307.2V321.2M415.5 321.2V328.2M415.5 328.2V338.1M415.5 372.2V383.2M415.5 408.5V414.8M415.5 414.8V431.7M415.5 431.7V457.9M415.5 457.9V465.0M416.5 365.6V373.3M416.5 389.8V399.0M416.5 399.0V405.3M416.5 430.0V452.9M417.5 343.6V365.2M417.5 406.1V418.9M418.5 384.8V402.2M418.5 402.2V430.1M418.5 457.5V465.0M419.5 305.9V313.3M419.5 313.3V337.2M419.5 337.2V347.7M419.5 347.7V370.4M419.5 370.4V387.1M419.5 387.1V404.4M419.5 451.5V465.0M420.5 312.6V326.2M420.5 326.2V348.2M420.5 348.2V366.7M420.5 372.8V395.5M420.5 421.0V449.3M420.5 449.3V465.0M421.5 307.7V318.9M421.5 346.4V374.8M421.5 411.8V436.5M421.5 449.8V465.0M422.5 297.0V312.6M422.5 312.6V318.9M422.5 318.9V339.5M422.5 372.4V399.1M423.5 297.0V308.5M423.5 376.9V388.5M423.5 388.5V406.0M423.5 406.0V427.8M423.5 427.8V455.9M423.5 455.9V464.6M424.5 318.8V344.3M424.5 344.3V362.3M424.5 362.3V386.3M424.5 434.5V448.2M425.5 340.8V368.2M425.5 417.8V429.1M425.5 443.0V465.0M426.5 297.0V319.1M426.5 319.1V331.1M426.5 373.4V381.1M426.5 399.6V418.8M426.5 418.8V434.1M426.5 434.1V451.1M426.5 451.1V465.0" stroke="#aaaaaa" stroke-width="1.0" fill="none"/><path d="M403.5 338.9V345.4M403.5 383.8V409.3M403.5 436.6V450.4M403.5 450.4V461.4M404.5 322.5V341.9M404.5 366.2V383.0M404.5 442.5V452.4M404.5 452.4V465.0M405.5 360.9V387.6M405.5 450.8V463.2M405.5 463.2V465.0M406.5 297.0V309.2M406.5 309.2V331.6M406.5 331.6V341.8M406.5 341.8V360.3M406.5 411.3V432.3M406.5 432.3V450.9M406.5 450.9V463.6M407.5 297.0V309.6M407.5 339.4V362.1M407.5 390.8V409.0M407.5 436.5V445.2M407.5 459.4V465.0M408.5 315.8V335.3M408.5 335.3V349.0M408.5 349.0V378.9M408.5 378.9V392.1M408.5 392.1V405.3M408.5 418.9V433.3M408.5 440.2V453.4M409.5 297.0V316.2M409.5 342.3V348.7M409.5 348.7V374.7M409.5 385.0V396.1M409.5 441.7V448.2M410.5 328.0V355.6M411.5 311.6V341.6M411.5 348.7V378.5M411.5 389.5V399.4M411.5 399.4V413.8M411.5 440.8V465.0M412.5 297.0V319.7M412.5 319.7V336.8M412.5 386.0V393.9M412.5 455.2V464.4M413.5 321.5V334.1M413.5 364.9V372.1M413.5 372.1V394.8M413.5 453.8V465.0M414.5 297.0V324.1M414.5 324.1V352.0M414.5 367.8V391.9M414.5 451.1V465.0M415.5 338.1V363.8M415.5 363.8V372.2M416.5 297.0V314.0M416.5 314.0V323.6M416.5 323.6V334.1M416.5 334.1V353.2M416.5 353.2V365.6M416.5 373.3V389.8M416.5 405.3V412.3M416.5 412.3V430.0M416.5 452.9V465.0M417.5 297.0V310.0M417.5 310.0V327.6M417.5 327.6V336.2M417.5 365.2V385.4M417.5 385.4V406.1M417.5 418.9V431.2M417.5 431.2V438.3M417.5 438.3V465.0M418.5 297.0V320.5M418.5 320.5V332.9M418.5 332.9V351.1M418.5 369.5V384.8M418.5 430.1V457.5M419.5 297.0V305.9M419.5 404.4V432.6M419.5 432.6V451.5M420.5 297.0V312.6M420.5 366.7V372.8M420.5 395.5V421.0M421.5 297.0V307.7M421.5 318.9V346.4M421.5 381.9V411.8M422.5 339.5V362.1M422.5 362.1V372.4M422.5 399.1V418.1M422.5 418.1V427.6M422.5 427.6V440.9M422.5 440.9V465.0M423.5 308.5V337.0M423.5 337.0V350.2M423.5 350.2V357.6M423.5 357.6V376.9M423.5 464.6V465.0M424.5 297.0V309.1M424.5 309.1V318.8M424.5 386.3V394.1M424.5 394.1V405.0M424.5 405.0V434.5M424.5 448.2V465.0M425.5 297.0V312.5M425.5 368.2V396.1M425.5 429.1V443.0M426.5 346.2V362.4M426.5 362.4V373.4M426.5 381.1V399.6" stroke="#c6c6c6" stroke-width="1.0" fill="none"/><path d="M403.5 409.3V436.6M405.5 407.1V419.1M407.5 409.0V425.5M408.5 297.0V315.8M409.5 418.7V441.7M410.5 305.8V328.0M411.5 297.0V311.6M411.5 378.5V389.5M415.5 383.2V408.5M417.5 336.2V343.6M418.5 351.1V369.5M421.5 374.8V381.9M421.5 436.5V449.8M425.5 312.5V340.8M425.5 396.1V417.8M426.5 331.1V346.2" stroke="#e2e2e2" stroke-width="1.0" fill="none"/><path d="M404.5 408.2V425.3M405.5 297.0V326.9M411.5 413.8V440.8M414.5 391.9V413.7" stroke="#8d8d8d" stroke-width="1.0" fill="none"/></g><g><path d="M426.5 297.0V306.9M426.5 306.9V336.4M427.5 297.0V303.0M427.5 303.0V330.3M427.5 330.3V338.0M428.5 297.0V320.5M429.5 297.0V314.3M429.5 314.3V321.9M430.5 297.0V320.6M431.5 297.0V318.3M431.5 318.3V335.7M431.5 335.7V338.0M432.5 297.0V322.2M432.5 322.2V338.0M435.5 313.6V328.2M436.5 297.0V316.9M436.5 316.9V326.4M437.5 297.0V308.2M438.5 297.0V318.8M439.5 303.1V324.6M439.5 324.6V338.0M440.5 297.0V321.6M440.5 329.7V338.0M441.5 297.0V319.8M442.5 305.9V328.6M443.5 322.7V332.8M445.5 328.2V337.2M445.5 337.2V338.0M448.5 297.0V323.8M449.5 310.0V328.0" stroke="#c6c6c6" stroke-width="1.0" fill="none"/><path d="M426.5 336.4V338.0M428.5 320.5V338.0M429.5 321.9V338.0M434.5 297.0V308.9M434.5 308.9V317.8M434.5 317.8V335.9M435.5 328.2V338.0" stroke="#e2e2e2" stroke-width="1.0" fill="none"/><path d="M430.5 320.6V338.0M433.5 297.0V320.0M433.5 320.0V338.0M434.5 335.9V338.0M435.5 297.0V313.6M436.5 326.4V338.0M437.5 308.2V337.5M437.5 337.5V338.0M438.5 318.8V338.0M440.5 321.6V329.7M441.5 319.8V338.0M442.5 328.6V338.0M443.5 297.0V322.7M444.5 297.0V325.7M445.5 297.0V315.5M446.5 297.0V307.8M446.5 307.8V319.4M446.5 319.4V326.0M446.5 326.0V333.8M447.5 297.0V308.2M447.5 308.2V315.0M447.5 329.2V338.0M448.5 323.8V338.0M449.5 297.0V310.0M449.5 328.0V334.2M449.5 334.2V338.0M450.5 297.0V320.1M452.5 297.0V316.4M455.5 319.9V338.0" stroke="#aaaaaa" stroke-width="1.0" fill="none"/><path d="M439.5 297.0V303.1M442.5 297.0V305.9M443.5 332.8V338.0M444.5 325.7V338.0M445.5 315.5V328.2M446.5 333.8V338.0M447.5 315.0V329.2M450.5 320.1V338.0M451.5 297.0V320.1M451.5 320.1V338.0M452.5 316.4V338.0M453.5 297.0V303.9M453.5 322.0V338.0M454.5 297.0V321.5M454.5 321.5V337.8M454.5 337.8V338.0M455.5 297.0V319.9" stroke="#8d8d8d" stroke-width="1.0" fill="none"/><path d="M453.5 303.9V322.0M453.5 338.0V338.0" stroke="#717171" stroke-width="1.0" fill="none"/></g><rect x="426" y="297" width="30" height="41" fill="none" stroke="#333" stroke-width="1.38" /><line x1="426" y1="338" x2="456" y2="338" stroke="#111" stroke-width="3.25" /><circle cx="441" cy="307.5" r="5" fill="#fdfdfd" stroke="#111" stroke-width="2.00"/><g><path d="M482.5 297.0V309.8M482.5 309.8V339.4M482.5 339.4V350.6M482.5 376.2V389.6M482.5 433.2V453.5M483.5 297.0V307.0M483.5 372.0V397.7M483.5 453.6V461.9M483.5 461.9V465.0M484.5 383.1V397.4M484.5 407.9V431.2M485.5 297.0V312.9M485.5 359.1V380.6M485.5 436.4V444.5M486.5 310.8V319.1M486.5 319.1V342.7M486.5 408.2V414.4M486.5 434.3V460.4M486.5 460.4V465.0M487.5 297.0V321.1M487.5 368.4V393.2M487.5 432.4V449.1M488.5 326.4V351.6M488.5 394.7V405.4M488.5 446.4V461.6M489.5 297.0V324.6M489.5 415.6V436.7M490.5 297.0V312.5M490.5 371.2V395.4M490.5 395.4V414.4M490.5 421.9V429.8M490.5 429.8V456.3M490.5 456.3V465.0M491.5 372.9V387.3M491.5 398.2V427.5M491.5 464.2V465.0M492.5 297.0V320.2M492.5 320.2V334.7M492.5 334.7V348.4M492.5 348.4V357.1M492.5 357.1V372.9M492.5 372.9V401.3M492.5 401.3V416.2M492.5 416.2V441.6M492.5 441.6V449.5M493.5 322.0V346.1M493.5 346.1V372.2M493.5 372.2V389.8M493.5 389.8V409.4M493.5 409.4V428.5M493.5 428.5V434.8M494.5 297.0V309.1M494.5 348.5V369.1M494.5 397.8V423.1M495.5 310.6V320.1M495.5 320.1V347.4M495.5 402.1V422.6M495.5 422.6V441.7M497.5 297.0V317.6M497.5 317.6V338.2M497.5 338.2V365.1M497.5 434.9V459.8M497.5 459.8V465.0M498.5 326.5V353.5M498.5 353.5V381.3M498.5 381.3V387.7M498.5 387.7V411.9M498.5 411.9V438.5M498.5 446.5V460.4M498.5 460.4V465.0M499.5 314.1V334.1M499.5 383.8V407.6M499.5 459.9V465.0M500.5 341.1V352.8M500.5 352.8V359.8M500.5 359.8V388.8M501.5 297.0V316.9M501.5 356.8V367.2M501.5 418.1V430.4M501.5 449.0V456.9M501.5 456.9V465.0M502.5 342.4V371.9M502.5 392.1V405.5M503.5 297.0V313.7M503.5 343.0V360.9M503.5 360.9V382.2M503.5 382.2V399.5M503.5 399.5V414.9M503.5 414.9V426.3M503.5 426.3V435.2M503.5 435.2V458.5M503.5 458.5V465.0M504.5 308.1V323.1M504.5 323.1V329.2M504.5 374.1V382.2M504.5 422.6V435.6M505.5 297.0V308.0M505.5 326.4V345.3M505.5 345.3V370.1M505.5 386.5V413.9M505.5 413.9V428.4M505.5 440.8V465.0M506.5 322.9V340.7M506.5 349.5V375.8M507.5 297.0V321.6M507.5 355.3V371.9M507.5 371.9V379.7M507.5 379.7V398.6M507.5 405.5V413.0M508.5 313.1V342.1M508.5 390.9V403.2M508.5 403.2V422.5M508.5 436.9V447.3M509.5 297.0V324.8M509.5 324.8V349.0M509.5 378.9V389.5M509.5 389.5V406.9M509.5 436.7V462.4M509.5 462.4V465.0M510.5 297.0V317.6M510.5 317.6V328.7M510.5 351.2V370.2M510.5 370.2V384.7M510.5 384.7V414.6M510.5 414.6V440.7M510.5 440.7V453.4M511.5 297.0V316.2M511.5 316.2V325.3M511.5 325.3V349.8M511.5 389.6V415.4M511.5 459.8V465.0M512.5 309.8V320.5M512.5 345.8V375.5M512.5 384.7V393.5M512.5 422.6V432.9M512.5 432.9V452.1M512.5 452.1V459.5M512.5 459.5V465.0M513.5 326.4V343.7M513.5 378.9V407.8M513.5 459.0V465.0M514.5 297.0V318.8M514.5 318.8V348.0M514.5 404.7V418.4M514.5 418.4V438.4M514.5 455.7V465.0M515.5 297.0V308.1M515.5 308.1V326.5M515.5 326.5V354.9M515.5 371.6V384.4M515.5 410.3V420.1M515.5 420.1V437.9M515.5 437.9V451.0M516.5 311.9V332.8M516.5 332.8V347.6M516.5 347.6V355.9M516.5 382.6V410.3M516.5 433.7V446.5M516.5 446.5V465.0M517.5 315.1V335.0M517.5 335.0V346.1M517.5 374.3V387.8M517.5 387.8V401.9M517.5 417.1V423.5M517.5 456.7V465.0M518.5 297.0V324.9M518.5 357.8V382.5M518.5 382.5V410.5M519.5 320.6V344.9M519.5 366.5V390.4" stroke="#c6c6c6" stroke-width="1.0" fill="none"/><path d="M482.5 350.6V376.2M482.5 389.6V411.8M482.5 411.8V433.2M483.5 336.6V362.2M483.5 397.7V425.6M484.5 297.0V311.4M484.5 311.4V337.3M484.5 337.3V353.2M484.5 353.2V383.1M484.5 397.4V407.9M484.5 431.2V455.0M484.5 455.0V465.0M485.5 312.9V331.8M485.5 380.6V407.2M485.5 444.5V451.7M485.5 451.7V465.0M486.5 297.0V310.8M486.5 342.7V351.4M486.5 381.0V408.2M486.5 414.4V434.3M487.5 321.1V338.8M487.5 338.8V368.4M487.5 393.2V414.5M487.5 414.5V432.4M487.5 449.1V465.0M488.5 351.6V369.7M488.5 432.3V446.4M488.5 461.6V465.0M489.5 324.6V342.5M489.5 342.5V372.2M489.5 400.2V406.9M489.5 406.9V415.6M489.5 436.7V456.6M489.5 456.6V465.0M490.5 324.6V345.9M490.5 345.9V371.2M491.5 297.0V306.6M491.5 306.6V327.9M491.5 327.9V355.4M491.5 365.8V372.9M491.5 427.5V457.5M491.5 457.5V464.2M493.5 297.0V314.2M493.5 434.8V459.8M493.5 459.8V465.0M494.5 309.1V324.9M494.5 324.9V348.5M494.5 369.1V397.8M494.5 423.1V443.0M494.5 443.0V461.8M494.5 461.8V465.0M495.5 297.0V310.6M495.5 347.4V357.9M495.5 357.9V379.7M495.5 379.7V402.1M495.5 441.7V447.8M495.5 447.8V465.0M496.5 297.0V321.2M496.5 321.2V328.1M496.5 328.1V357.9M496.5 393.1V419.4M496.5 419.4V436.7M496.5 436.7V450.3M496.5 459.4V465.0M497.5 365.1V392.0M497.5 392.0V416.9M497.5 416.9V427.4M497.5 427.4V434.9M498.5 297.0V319.0M498.5 319.0V326.5M498.5 438.5V446.5M499.5 297.0V314.1M499.5 334.1V340.1M499.5 340.1V356.3M499.5 356.3V383.8M499.5 407.6V418.7M499.5 448.3V459.9M500.5 309.8V325.0M500.5 325.0V333.0M500.5 333.0V341.1M500.5 388.8V402.7M500.5 402.7V414.3M500.5 414.3V443.5M500.5 443.5V450.4M500.5 450.4V465.0M501.5 316.9V339.1M501.5 339.1V356.8M501.5 367.2V388.3M501.5 388.3V418.1M501.5 430.4V449.0M502.5 297.0V324.1M502.5 324.1V342.4M502.5 405.5V415.1M502.5 415.1V434.7M502.5 434.7V455.0M502.5 455.0V465.0M503.5 313.7V343.0M504.5 297.0V308.1M504.5 329.2V357.6M504.5 357.6V374.1M504.5 382.2V408.9M504.5 408.9V422.6M504.5 435.6V460.4M505.5 308.0V326.4M505.5 370.1V386.5M505.5 428.4V440.8M506.5 297.0V322.9M506.5 340.7V349.5M506.5 375.8V387.9M506.5 387.9V397.7M506.5 397.7V422.1M506.5 422.1V435.1M506.5 435.1V449.2M506.5 449.2V465.0M507.5 321.6V334.0M507.5 334.0V355.3M507.5 398.6V405.5M507.5 413.0V437.6M507.5 448.9V465.0M508.5 297.0V313.1M508.5 342.1V361.7M508.5 361.7V390.9M508.5 447.3V465.0M509.5 349.0V378.9M509.5 406.9V427.1M509.5 427.1V436.7M510.5 328.7V351.2M510.5 453.4V465.0M511.5 349.8V379.6M511.5 415.4V437.5M511.5 437.5V453.4M511.5 453.4V459.8M512.5 297.0V309.8M512.5 393.5V422.6M513.5 343.7V363.0M513.5 363.0V378.9M513.5 407.8V427.7M513.5 441.0V459.0M514.5 348.0V367.7M514.5 367.7V381.2M514.5 381.2V404.7M514.5 438.4V455.7M515.5 354.9V371.6M515.5 384.4V395.9M515.5 395.9V410.3M515.5 451.0V465.0M516.5 355.9V374.7M516.5 410.3V433.7M517.5 346.1V374.3M517.5 401.9V417.1M517.5 423.5V442.7M517.5 442.7V456.7M518.5 324.9V347.8M518.5 347.8V357.8M518.5 410.5V429.0M518.5 429.0V447.6M518.5 447.6V463.2M518.5 463.2V465.0M519.5 297.0V320.6M519.5 344.9V366.5M519.5 409.6V438.9M519.5 438.9V450.8M519.5 450.8V464.3M519.5 464.3V465.0" stroke="#aaaaaa" stroke-width="1.0" fill="none"/><path d="M482.5 453.5V465.0M483.5 307.0V336.6M483.5 362.2V372.0M483.5 425.6V453.6M485.5 331.8V359.1M485.5 407.2V436.4M486.5 351.4V381.0M488.5 297.0V326.4M488.5 369.7V394.7M488.5 405.4V432.3M489.5 372.2V400.2M490.5 312.5V324.6M490.5 414.4V421.9M491.5 355.4V365.8M491.5 387.3V398.2M492.5 449.5V465.0M493.5 314.2V322.0M496.5 357.9V371.0M496.5 371.0V393.1M496.5 450.3V459.4M499.5 418.7V448.3M500.5 297.0V309.8M502.5 371.9V392.1M504.5 460.4V465.0M507.5 437.6V448.9M508.5 422.5V436.9M512.5 320.5V345.8M513.5 297.0V326.4M513.5 427.7V441.0M516.5 297.0V311.9" stroke="#8d8d8d" stroke-width="1.0" fill="none"/><path d="M511.5 379.6V389.6M512.5 375.5V384.7M516.5 374.7V382.6M517.5 297.0V315.1M519.5 390.4V409.6" stroke="#e2e2e2" stroke-width="1.0" fill="none"/></g><g><path d="M520.5 297.0V326.6M520.5 355.1V382.5M520.5 429.4V443.1M521.5 297.0V321.7M521.5 344.5V358.9M522.5 397.5V421.8M523.5 319.9V346.2M523.5 358.7V370.2M523.5 377.3V393.7M523.5 393.7V402.1M523.5 454.8V465.0M524.5 297.0V325.3M524.5 363.6V373.9M524.5 398.9V426.7M524.5 426.7V437.6M524.5 437.6V447.5M525.5 297.0V310.8M525.5 349.3V358.1M525.5 401.8V430.1M525.5 430.1V446.5M525.5 446.5V465.0M526.5 297.0V303.6M526.5 303.6V328.2M526.5 328.2V351.7M526.5 351.7V362.6M526.5 406.5V418.2M526.5 427.5V448.3M527.5 310.5V338.4M527.5 348.1V370.6M527.5 370.6V388.2M527.5 399.2V409.0M527.5 409.0V418.4M527.5 431.5V453.0M528.5 297.0V325.0M528.5 325.0V353.4M528.5 366.0V376.9M528.5 407.0V427.2M528.5 441.6V462.3M528.5 462.3V465.0M529.5 297.0V325.6M529.5 346.0V365.5M529.5 403.7V412.2M529.5 412.2V428.7M530.5 333.3V362.0M530.5 371.4V380.0M530.5 380.0V393.7M530.5 437.2V460.3M531.5 303.6V323.1M531.5 323.1V343.2M531.5 343.2V358.4M531.5 358.4V387.7M531.5 387.7V409.1M531.5 409.1V421.2M531.5 429.0V457.2M532.5 297.0V311.9M532.5 311.9V334.3M532.5 363.1V375.9M532.5 375.9V404.2M532.5 404.2V430.8M532.5 430.8V437.3M532.5 437.3V449.2M532.5 449.2V465.0M533.5 307.6V317.4M533.5 317.4V340.3M533.5 340.3V359.4M533.5 376.3V405.2M533.5 405.2V423.1M533.5 434.1V441.4M534.5 307.7V320.5M534.5 332.4V348.1M534.5 380.6V402.6M534.5 439.1V462.6M535.5 320.8V340.1M535.5 360.6V389.9M535.5 425.4V447.7M535.5 459.5V465.0M536.5 360.9V369.4M536.5 377.7V386.2M536.5 399.7V408.1M536.5 408.1V415.8M536.5 434.6V456.2M536.5 463.8V465.0M537.5 325.2V334.3M537.5 334.3V362.3M537.5 362.3V370.9M537.5 370.9V396.3M537.5 396.3V417.8M537.5 417.8V434.0M537.5 434.0V453.7M538.5 297.0V307.5M538.5 321.9V327.9M538.5 327.9V357.8M538.5 389.4V399.5M538.5 399.5V414.2M538.5 423.3V451.2M538.5 451.2V465.0M539.5 307.6V324.3M539.5 324.3V341.4M539.5 386.4V401.2M539.5 401.2V427.3M539.5 457.8V465.0M540.5 355.2V379.0M541.5 297.0V324.8M541.5 324.8V333.3M541.5 333.3V354.7M541.5 354.7V364.2M541.5 364.2V372.9M541.5 387.5V403.3M541.5 403.3V412.0M541.5 412.0V419.8M541.5 419.8V426.7M541.5 426.7V432.8M541.5 432.8V461.4M541.5 461.4V465.0M542.5 321.1V335.7M542.5 335.7V345.8M542.5 360.2V380.4M542.5 380.4V389.4M542.5 389.4V400.8M542.5 400.8V414.4M542.5 434.8V448.9M542.5 448.9V463.0M543.5 297.0V321.0M543.5 351.6V376.8M543.5 376.8V397.9M543.5 397.9V414.2M544.5 312.3V322.1M544.5 349.0V373.8M544.5 373.8V385.4M544.5 385.4V399.4M544.5 399.4V412.1M544.5 436.5V447.8M545.5 297.0V322.5M545.5 322.5V340.4M545.5 375.3V397.4M545.5 434.4V456.8M545.5 456.8V465.0M546.5 354.0V378.4M546.5 378.4V394.7M546.5 394.7V404.4M546.5 404.4V422.9M546.5 452.6V465.0M547.5 312.2V327.0M547.5 338.3V350.3M547.5 350.3V366.4M547.5 392.4V413.0M547.5 413.0V441.7M547.5 441.7V465.0M548.5 346.3V353.8M549.5 297.0V314.7M549.5 314.7V323.8M549.5 370.2V386.7M549.5 386.7V408.0M550.5 316.4V330.7M550.5 330.7V341.4M550.5 358.6V374.4M550.5 392.5V420.5M551.5 297.0V308.1M551.5 320.4V331.4M551.5 347.1V370.1M551.5 370.1V395.2M552.5 356.0V383.1M552.5 383.1V389.4M552.5 409.0V437.0M552.5 455.7V465.0M553.5 319.2V342.5M553.5 342.5V367.8M553.5 367.8V387.1M553.5 414.1V422.8M553.5 432.5V446.7M554.5 331.4V349.6M554.5 414.6V435.2M554.5 435.2V457.0M554.5 457.0V465.0M555.5 321.2V333.6M555.5 333.6V349.6M555.5 407.2V416.4M555.5 416.4V441.4M556.5 297.0V310.8M556.5 361.2V381.8M556.5 448.1V461.2M557.5 297.0V316.7M557.5 337.8V364.5M557.5 381.6V409.7M557.5 409.7V436.5M557.5 436.5V454.0M557.5 462.2V465.0M558.5 323.2V345.3M558.5 345.3V357.0M558.5 396.2V418.4M558.5 418.4V429.6M558.5 454.8V460.9M559.5 297.0V322.3M559.5 389.4V412.5M559.5 437.1V465.0M560.5 321.2V331.9M560.5 331.9V355.3M560.5 355.3V371.9M560.5 398.0V413.2M560.5 413.2V435.8M560.5 457.2V465.0M561.5 297.0V316.6M561.5 316.6V345.8M561.5 345.8V372.9M561.5 416.8V436.6M561.5 436.6V443.2M562.5 325.4V355.1M562.5 392.0V399.7M562.5 435.3V449.0M563.5 366.4V373.6M563.5 373.6V393.7M564.5 310.0V337.1M565.5 323.4V343.6M565.5 343.6V363.7M565.5 363.7V382.7M565.5 382.7V409.0M565.5 409.0V418.6M565.5 418.6V425.8M566.5 297.0V324.2M566.5 334.5V358.2M566.5 358.2V383.9M567.5 305.3V324.4M569.5 297.0V307.5M569.5 338.1V367.5M569.5 404.8V418.2M569.5 418.2V443.8M569.5 460.2V465.0M570.5 320.4V344.4M570.5 344.4V353.1M570.5 353.1V366.0M570.5 366.0V392.5M571.5 425.4V454.3M571.5 454.3V465.0M572.5 352.5V382.0M572.5 382.0V396.1M572.5 396.1V420.9M572.5 440.5V455.3M572.5 455.3V465.0M573.5 297.0V304.2M573.5 315.4V324.0M573.5 324.0V340.3M573.5 363.2V376.2M573.5 388.1V402.2M573.5 402.2V431.0M573.5 431.0V442.6M574.5 310.5V338.7M574.5 338.7V346.6M574.5 346.6V370.9M574.5 438.5V460.7M575.5 314.2V321.4M575.5 343.2V350.9M575.5 350.9V375.1M575.5 399.6V408.3M575.5 430.1V454.5M575.5 454.5V465.0M576.5 337.2V345.4M576.5 345.4V353.0M576.5 353.0V365.8M576.5 417.7V435.3M577.5 297.0V317.9M577.5 364.2V391.5M577.5 452.4V465.0M578.5 297.0V320.4M578.5 320.4V327.3M578.5 347.5V361.3M578.5 361.3V370.7M578.5 432.2V455.4M578.5 455.4V461.7M579.5 297.0V304.8M579.5 328.1V348.4M579.5 348.4V362.5M579.5 376.7V404.6M579.5 427.0V435.6M580.5 331.9V347.7M580.5 368.2V376.1M580.5 376.1V393.2M580.5 393.2V403.8M580.5 425.7V437.5M581.5 315.4V329.9M581.5 338.6V354.8M581.5 354.8V363.3M581.5 374.0V381.8M581.5 381.8V389.7M581.5 407.7V428.9M581.5 428.9V453.3M581.5 453.3V465.0M582.5 329.8V354.9M582.5 354.9V362.1M582.5 380.4V404.6M582.5 430.0V441.9M582.5 458.7V465.0M583.5 297.0V315.7M583.5 339.6V362.6M583.5 382.1V390.7M583.5 390.7V419.6M583.5 419.6V440.4M583.5 464.8V465.0M584.5 297.0V311.3M584.5 372.7V380.6M584.5 404.1V414.6M585.5 297.0V314.8M585.5 314.8V330.0M585.5 330.0V354.2M585.5 354.2V383.8M585.5 396.9V405.9M585.5 445.6V458.5M585.5 458.5V465.0M586.5 351.2V362.7M586.5 362.7V373.9M586.5 398.4V416.9M586.5 437.7V462.1M587.5 297.0V310.1M587.5 310.1V332.5M587.5 415.7V428.8M587.5 428.8V453.7" stroke="#aaaaaa" stroke-width="1.0" fill="none"/><path d="M520.5 326.6V345.5M520.5 382.5V408.4M520.5 408.4V429.4M521.5 321.7V344.5M521.5 358.9V369.8M521.5 369.8V387.2M521.5 387.2V399.6M521.5 399.6V410.6M521.5 410.6V426.5M521.5 426.5V435.9M521.5 435.9V451.6M521.5 464.7V465.0M522.5 297.0V314.3M522.5 336.6V359.5M522.5 359.5V370.2M522.5 370.2V397.5M522.5 421.8V447.8M522.5 447.8V463.8M522.5 463.8V465.0M523.5 297.0V319.9M523.5 346.2V358.7M523.5 370.2V377.3M523.5 402.1V411.3M523.5 411.3V424.8M523.5 424.8V454.8M524.5 325.3V344.5M524.5 344.5V363.6M524.5 447.5V465.0M525.5 310.8V327.2M525.5 327.2V349.3M525.5 358.1V369.1M525.5 369.1V387.8M525.5 387.8V401.8M526.5 362.6V387.7M526.5 387.7V406.5M526.5 448.3V465.0M527.5 297.0V310.5M527.5 338.4V348.1M527.5 388.2V399.2M527.5 453.0V465.0M528.5 353.4V366.0M528.5 376.9V392.2M528.5 392.2V407.0M528.5 427.2V441.6M529.5 365.5V376.4M529.5 376.4V391.2M529.5 391.2V403.7M529.5 452.1V465.0M530.5 318.8V326.8M530.5 326.8V333.3M530.5 362.0V371.4M530.5 393.7V408.4M530.5 429.6V437.2M530.5 460.3V465.0M531.5 297.0V303.6M531.5 421.2V429.0M531.5 457.2V465.0M532.5 334.3V363.1M533.5 297.0V307.6M533.5 359.4V376.3M533.5 423.1V434.1M533.5 441.4V465.0M534.5 297.0V307.7M534.5 320.5V332.4M534.5 348.1V371.2M534.5 371.2V380.6M534.5 402.6V412.6M534.5 412.6V439.1M534.5 462.6V465.0M535.5 389.9V407.7M535.5 407.7V425.4M535.5 447.7V459.5M536.5 297.0V321.5M536.5 321.5V338.2M536.5 338.2V348.3M536.5 386.2V399.7M536.5 415.8V434.6M537.5 297.0V325.2M537.5 453.7V465.0M538.5 307.5V321.9M538.5 357.8V369.0M538.5 369.0V389.4M538.5 414.2V423.3M539.5 297.0V307.6M539.5 349.3V361.0M539.5 427.3V436.2M539.5 436.2V450.3M540.5 297.0V310.3M540.5 310.3V338.8M540.5 338.8V355.2M540.5 429.5V449.8M540.5 449.8V465.0M541.5 372.9V387.5M542.5 297.0V321.1M542.5 345.8V360.2M542.5 414.4V434.8M543.5 321.0V338.6M543.5 338.6V351.6M543.5 414.2V428.8M544.5 297.0V312.3M544.5 322.1V335.5M544.5 412.1V436.5M545.5 340.4V360.2M545.5 360.2V375.3M545.5 397.4V418.7M545.5 418.7V434.4M546.5 297.0V304.2M546.5 304.2V332.4M546.5 422.9V440.4M546.5 440.4V452.6M547.5 327.0V338.3M547.5 366.4V392.4M548.5 297.0V307.6M548.5 307.6V333.3M548.5 353.8V369.2M548.5 397.9V409.0M548.5 409.0V428.3M548.5 428.3V457.0M548.5 457.0V465.0M549.5 408.0V424.9M549.5 424.9V434.5M549.5 455.7V465.0M550.5 297.0V307.9M550.5 374.4V392.5M550.5 461.4V465.0M551.5 331.4V347.1M551.5 437.0V465.0M552.5 389.4V409.0M552.5 437.0V455.7M553.5 306.5V319.2M553.5 387.1V414.1M553.5 446.7V454.7M553.5 454.7V465.0M554.5 297.0V308.1M554.5 308.1V331.4M554.5 356.1V380.3M554.5 380.3V387.7M554.5 387.7V414.6M555.5 297.0V321.2M555.5 382.6V391.0M555.5 464.7V465.0M556.5 408.7V418.8M557.5 326.8V337.8M557.5 364.5V381.6M557.5 454.0V462.2M558.5 357.0V379.0M558.5 379.0V396.2M558.5 429.6V454.8M558.5 460.9V465.0M559.5 322.3V345.2M559.5 345.2V360.7M559.5 412.5V437.1M560.5 297.0V313.3M560.5 371.9V398.0M560.5 435.8V442.6M561.5 443.2V452.1M561.5 452.1V465.0M562.5 297.0V314.9M562.5 355.1V375.8M562.5 399.7V411.6M563.5 308.9V322.7M563.5 322.7V341.6M563.5 341.6V366.4M563.5 393.7V416.8M563.5 444.5V465.0M564.5 297.0V310.0M564.5 337.1V352.7M564.5 352.7V376.2M564.5 393.4V408.1M564.5 408.1V426.4M564.5 449.8V461.5M564.5 461.5V465.0M566.5 383.9V409.6M567.5 297.0V305.3M567.5 339.6V367.4M567.5 377.5V397.1M567.5 397.1V426.2M567.5 434.2V460.1M569.5 307.5V325.3M569.5 367.5V385.9M570.5 297.0V308.5M570.5 454.5V465.0M571.5 307.1V335.5M571.5 378.4V405.4M572.5 297.0V315.3M572.5 315.3V336.3M572.5 336.3V352.5M572.5 420.9V440.5M573.5 304.2V315.4M573.5 340.3V363.2M574.5 297.0V310.5M574.5 418.3V438.5M575.5 408.3V430.1M576.5 392.6V417.7M576.5 464.9V465.0M577.5 431.6V452.4M578.5 327.3V347.5M578.5 387.5V410.8M579.5 304.8V328.1M579.5 442.3V465.0M580.5 313.1V331.9M581.5 389.7V407.7M583.5 315.7V339.6M584.5 336.5V355.7M584.5 393.0V404.1M584.5 441.8V465.0M586.5 297.0V305.7M586.5 373.9V398.4M586.5 462.1V465.0M587.5 332.5V353.0M587.5 453.7V465.0" stroke="#c6c6c6" stroke-width="1.0" fill="none"/><path d="M520.5 345.5V355.1M520.5 443.1V465.0M521.5 451.6V464.7M526.5 418.2V427.5M527.5 418.4V431.5" stroke="#e2e2e2" stroke-width="1.0" fill="none"/><path d="M522.5 314.3V336.6M524.5 373.9V398.9M529.5 325.6V346.0M529.5 428.7V452.1M530.5 297.0V318.8M530.5 408.4V429.6M535.5 297.0V320.8M535.5 340.1V360.6M536.5 348.3V360.9M536.5 369.4V377.7M536.5 456.2V463.8M539.5 341.4V349.3M539.5 361.0V386.4M539.5 450.3V457.8M540.5 379.0V408.9M540.5 408.9V429.5M542.5 463.0V465.0M543.5 428.8V447.3M543.5 447.3V465.0M544.5 335.5V349.0M544.5 447.8V465.0M546.5 332.4V354.0M547.5 297.0V312.2M548.5 333.3V346.3M548.5 369.2V397.9M549.5 323.8V342.1M549.5 342.1V370.2M549.5 434.5V455.7M550.5 307.9V316.4M550.5 341.4V352.0M550.5 352.0V358.6M550.5 420.5V439.5M550.5 439.5V461.4M551.5 308.1V320.4M551.5 395.2V421.3M551.5 421.3V437.0M552.5 297.0V316.2M552.5 316.2V327.7M552.5 327.7V341.0M552.5 341.0V356.0M553.5 297.0V306.5M553.5 422.8V432.5M554.5 349.6V356.1M555.5 349.6V365.0M555.5 365.0V376.2M555.5 376.2V382.6M555.5 391.0V407.2M555.5 441.4V464.7M556.5 310.8V334.8M556.5 334.8V361.2M556.5 381.8V408.7M556.5 418.8V434.6M556.5 434.6V448.1M556.5 461.2V465.0M557.5 316.7V326.8M558.5 297.0V323.2M559.5 360.7V389.4M560.5 313.3V321.2M560.5 442.6V457.2M561.5 372.9V382.1M561.5 382.1V392.4M561.5 392.4V416.8M562.5 314.9V325.4M562.5 375.8V392.0M562.5 411.6V421.2M562.5 421.2V435.3M562.5 449.0V463.8M562.5 463.8V465.0M563.5 297.0V308.9M563.5 416.8V444.5M564.5 376.2V393.4M564.5 426.4V449.8M565.5 297.0V323.4M565.5 425.8V444.0M565.5 444.0V464.1M565.5 464.1V465.0M566.5 324.2V334.5M566.5 409.6V435.7M566.5 435.7V447.3M566.5 447.3V459.6M566.5 459.6V465.0M567.5 324.4V339.6M567.5 367.4V377.5M567.5 426.2V434.2M567.5 460.1V465.0M568.5 297.0V326.9M568.5 326.9V353.0M568.5 353.0V368.6M568.5 368.6V395.2M568.5 395.2V415.5M568.5 415.5V439.7M568.5 439.7V465.0M569.5 325.3V338.1M569.5 385.9V404.8M569.5 443.8V460.2M570.5 308.5V320.4M570.5 392.5V406.4M570.5 406.4V432.9M570.5 432.9V447.0M570.5 447.0V454.5M571.5 297.0V307.1M571.5 335.5V356.4M571.5 356.4V378.4M571.5 405.4V413.5M571.5 413.5V425.4M573.5 376.2V388.1M573.5 442.6V465.0M574.5 370.9V396.2M574.5 396.2V418.3M574.5 460.7V465.0M575.5 297.0V314.2M575.5 321.4V343.2M575.5 375.1V391.9M575.5 391.9V399.6M576.5 297.0V309.1M576.5 309.1V337.2M576.5 365.8V392.6M576.5 435.3V458.7M576.5 458.7V464.9M577.5 317.9V346.9M577.5 346.9V364.2M577.5 391.5V405.2M577.5 405.2V431.6M578.5 370.7V387.5M578.5 410.8V426.2M578.5 426.2V432.2M578.5 461.7V465.0M579.5 362.5V376.7M579.5 404.6V427.0M579.5 435.6V442.3M580.5 297.0V313.1M580.5 347.7V368.2M580.5 403.8V412.6M580.5 412.6V425.7M580.5 437.5V448.0M580.5 448.0V465.0M581.5 297.0V315.4M581.5 329.9V338.6M581.5 363.3V374.0M582.5 297.0V319.5M582.5 319.5V329.8M582.5 362.1V380.4M582.5 404.6V430.0M582.5 441.9V458.7M583.5 362.6V382.1M583.5 440.4V464.8M584.5 311.3V336.5M584.5 355.7V372.7M584.5 380.6V393.0M584.5 414.6V430.7M584.5 430.7V441.8M585.5 383.8V396.9M585.5 405.9V419.9M585.5 419.9V445.6M586.5 305.7V322.6M586.5 322.6V351.2M586.5 416.9V437.7M587.5 353.0V361.4M587.5 361.4V383.0M587.5 383.0V399.4M587.5 399.4V415.7" stroke="#8d8d8d" stroke-width="1.0" fill="none"/></g><g><path d="M615.5 297.0V326.1M615.5 343.4V351.0M616.5 297.0V307.5M616.5 307.5V322.0M617.5 297.0V313.9M618.5 297.0V309.8M618.5 335.1V351.0M619.5 344.9V351.0M620.5 325.3V351.0M620.5 351.0V351.0M621.5 297.0V313.2M621.5 313.2V342.6M621.5 342.6V351.0M622.5 315.8V329.5M622.5 329.5V351.0M623.5 297.0V314.8M623.5 326.3V342.8M623.5 342.8V351.0M624.5 338.8V351.0M625.5 339.3V351.0M626.5 297.0V308.6M626.5 308.6V320.1M626.5 320.1V326.4M626.5 326.4V337.3M627.5 304.8V330.3M627.5 330.3V348.9M628.5 297.0V306.3M628.5 324.3V333.0M629.5 297.0V310.6M630.5 297.0V306.1M630.5 306.1V321.0M630.5 321.0V330.9M631.5 297.0V312.4M631.5 341.2V351.0M632.5 308.3V326.5M632.5 326.5V348.1M632.5 348.1V351.0M633.5 331.8V351.0M634.5 297.0V317.7M634.5 317.7V336.3M634.5 336.3V351.0M635.5 297.0V324.9M635.5 324.9V336.9M635.5 336.9V351.0M636.5 329.4V351.0M638.5 320.7V349.2M638.5 349.2V351.0M639.5 321.4V336.5M640.5 309.1V328.4M641.5 297.0V317.3M642.5 297.0V313.2M642.5 313.2V325.3M642.5 325.3V337.4M644.5 297.0V308.3M644.5 329.0V336.3M644.5 336.3V347.3M644.5 347.3V351.0" stroke="#c6c6c6" stroke-width="1.0" fill="none"/><path d="M615.5 326.1V343.4M616.5 329.7V351.0M617.5 320.9V350.1M618.5 309.8V335.1M619.5 297.0V322.8M619.5 322.8V344.9M623.5 314.8V326.3M624.5 311.1V338.8M625.5 322.9V339.3M626.5 337.3V351.0M628.5 306.3V324.3M629.5 340.3V351.0M630.5 330.9V349.2M630.5 349.2V351.0M631.5 312.4V341.2M632.5 297.0V308.3M633.5 297.0V305.2M636.5 297.0V308.3M636.5 308.3V329.4M637.5 297.0V320.4M637.5 320.4V348.1M637.5 348.1V351.0M638.5 297.0V320.7M639.5 297.0V321.4M639.5 336.5V343.9M639.5 343.9V351.0M640.5 297.0V309.1M642.5 337.4V351.0M643.5 297.0V322.7M643.5 331.9V351.0M644.5 308.3V314.7" stroke="#e2e2e2" stroke-width="1.0" fill="none"/><path d="M616.5 322.0V329.7M617.5 313.9V320.9M617.5 350.1V351.0M620.5 297.0V325.3M622.5 297.0V315.8M624.5 297.0V311.1M625.5 297.0V304.2M625.5 304.2V322.9M627.5 297.0V304.8M627.5 348.9V351.0M628.5 333.0V351.0M629.5 310.6V340.3M633.5 305.2V331.8M640.5 328.4V351.0M641.5 317.3V344.8M641.5 344.8V351.0M643.5 322.7V331.9M644.5 314.7V329.0" stroke="#aaaaaa" stroke-width="1.0" fill="none"/></g><line x1="587" y1="351" x2="642" y2="351" stroke="#111" stroke-width="3.00" /><g><path d="M588.5 351.0V379.2M588.5 421.9V428.0M588.5 428.0V435.4M588.5 435.4V447.4M588.5 447.4V454.9M588.5 454.9V462.3M588.5 462.3V465.0M589.5 359.1V369.2M590.5 383.3V396.3M590.5 396.3V426.0M590.5 426.0V445.8M590.5 445.8V458.0M590.5 458.0V465.0M591.5 386.0V414.0M592.5 369.8V391.8M592.5 418.2V429.3M592.5 429.3V435.8M592.5 435.8V461.0M592.5 461.0V465.0M593.5 378.8V393.0M593.5 393.0V407.2M594.5 372.6V382.7M594.5 382.7V391.3M594.5 451.5V465.0M595.5 369.5V378.8M595.5 433.0V451.0M595.5 451.0V465.0M596.5 374.9V381.1M596.5 396.8V411.0M597.5 461.4V465.0M598.5 351.0V379.7M598.5 430.4V452.9M598.5 452.9V465.0M599.5 351.0V376.4M599.5 421.0V443.3M600.5 396.2V404.7M600.5 404.7V413.0M600.5 421.5V441.5M600.5 441.5V463.9M600.5 463.9V465.0M601.5 351.0V367.3M601.5 408.5V416.9M601.5 416.9V427.8M601.5 427.8V441.8M601.5 441.8V465.0M602.5 378.6V405.8M602.5 405.8V419.9M603.5 370.3V400.2M603.5 400.2V428.3M603.5 428.3V437.2M603.5 437.2V450.2M604.5 351.0V370.8M604.5 370.8V392.8M604.5 392.8V417.2M605.5 381.5V408.4M605.5 459.1V465.0M606.5 351.0V380.6M606.5 380.6V390.0M606.5 399.0V418.0M606.5 418.0V442.2M607.5 403.2V412.4M607.5 412.4V430.8M607.5 430.8V442.0M607.5 442.0V465.0M608.5 390.7V415.5M608.5 415.5V427.4M608.5 427.4V451.1M609.5 351.0V362.6M609.5 386.3V406.8M609.5 416.2V432.1M609.5 432.1V459.3M609.5 459.3V465.0M610.5 372.4V389.2M610.5 414.0V425.3M610.5 425.3V433.9M611.5 372.3V391.2M611.5 391.2V419.9M611.5 432.0V456.0M611.5 456.0V465.0M612.5 351.0V373.1M612.5 401.3V423.3M612.5 423.3V435.8M613.5 368.0V389.3M613.5 389.3V395.6M613.5 395.6V404.7M614.5 374.1V383.5M614.5 410.4V434.9M614.5 434.9V443.9M615.5 407.6V435.0M615.5 464.7V465.0M616.5 351.0V360.9M616.5 360.9V386.5M616.5 435.7V462.5M616.5 462.5V465.0M617.5 435.9V446.1M617.5 446.1V465.0M618.5 405.3V414.4M618.5 423.5V437.4M619.5 378.1V396.9M619.5 396.9V415.9M619.5 463.0V465.0M620.5 416.6V438.4M621.5 360.4V384.9M621.5 384.9V395.6M621.5 395.6V406.1M621.5 415.2V440.7M621.5 440.7V458.6M622.5 400.2V412.4M622.5 412.4V426.6M622.5 426.6V440.4M622.5 440.4V465.0M623.5 351.0V377.0M623.5 377.0V385.1M623.5 445.2V453.9M624.5 390.8V402.4M624.5 402.4V408.8M624.5 416.1V430.9M624.5 442.9V461.6M625.5 362.9V371.7M625.5 397.0V424.8M625.5 424.8V445.1M626.5 351.0V365.5M626.5 365.5V386.7M626.5 420.3V449.7M627.5 351.0V378.3M627.5 378.3V385.5M627.5 411.7V420.3M627.5 458.3V465.0M628.5 357.8V386.4M628.5 386.4V393.0M628.5 403.7V430.5M629.5 440.8V465.0M630.5 359.8V389.1M630.5 389.1V404.7M630.5 404.7V422.0M630.5 422.0V430.2M631.5 351.0V371.4M631.5 444.6V453.1M631.5 453.1V465.0M632.5 376.4V393.3M633.5 362.4V368.5M634.5 403.0V414.0M634.5 451.6V465.0M635.5 373.2V400.1M635.5 400.1V417.2M636.5 382.8V412.5M636.5 412.5V428.4M636.5 451.1V465.0M637.5 351.0V365.2M637.5 379.7V407.1M637.5 418.4V428.2M637.5 428.2V436.7M638.5 351.0V371.6M639.5 378.7V394.7M639.5 410.8V418.3M640.5 361.3V390.2M640.5 390.2V409.8M641.5 351.0V375.9M641.5 439.3V465.0" stroke="#8d8d8d" stroke-width="1.0" fill="none"/><path d="M588.5 379.2V408.5M588.5 408.5V421.9M589.5 351.0V359.1M589.5 369.2V376.3M589.5 376.3V393.0M589.5 393.0V411.3M589.5 411.3V438.9M589.5 438.9V457.7M589.5 457.7V465.0M590.5 369.4V383.3M591.5 351.0V374.1M591.5 374.1V386.0M591.5 414.0V421.2M591.5 421.2V430.8M591.5 430.8V448.5M591.5 448.5V461.1M592.5 351.0V369.8M593.5 351.0V378.8M593.5 407.2V422.4M593.5 422.4V446.8M593.5 446.8V465.0M594.5 391.3V413.4M594.5 413.4V430.1M594.5 430.1V451.5M595.5 351.0V369.5M595.5 378.8V396.8M595.5 396.8V409.7M595.5 409.7V433.0M596.5 368.4V374.9M596.5 381.1V396.8M596.5 411.0V428.6M596.5 428.6V455.7M596.5 455.7V463.5M597.5 351.0V376.7M597.5 376.7V402.9M597.5 402.9V416.2M597.5 416.2V440.9M597.5 440.9V461.4M598.5 379.7V388.2M598.5 388.2V403.1M598.5 403.1V430.4M599.5 376.4V393.0M599.5 393.0V401.7M599.5 401.7V421.0M599.5 443.3V465.0M601.5 367.3V375.5M602.5 351.0V378.6M602.5 449.9V465.0M603.5 450.2V465.0M604.5 417.2V447.0M605.5 408.4V427.8M605.5 427.8V452.2M606.5 390.0V399.0M606.5 452.9V465.0M607.5 351.0V374.0M608.5 351.0V367.1M608.5 367.1V390.7M609.5 406.8V416.2M610.5 351.0V360.7M610.5 433.9V461.4M612.5 373.1V379.4M612.5 379.4V401.3M613.5 351.0V368.0M613.5 434.2V462.5M613.5 462.5V465.0M615.5 378.0V407.6M616.5 393.9V420.4M617.5 351.0V365.7M617.5 365.7V385.4M618.5 414.4V423.5M619.5 440.3V463.0M620.5 388.7V403.7M624.5 370.4V390.8M626.5 449.7V465.0" stroke="#717171" stroke-width="1.0" fill="none"/><path d="M590.5 351.0V369.4M591.5 461.1V465.0M592.5 391.8V418.2M594.5 351.0V372.6M596.5 351.0V368.4M596.5 463.5V465.0M600.5 351.0V365.6M600.5 365.6V376.5M600.5 376.5V389.5M600.5 389.5V396.2M600.5 413.0V421.5M601.5 375.5V387.7M601.5 387.7V408.5M602.5 419.9V449.9M603.5 351.0V370.3M604.5 447.0V465.0M605.5 351.0V368.2M605.5 368.2V381.5M605.5 452.2V459.1M606.5 442.2V452.9M607.5 374.0V403.2M608.5 451.1V465.0M609.5 362.6V372.8M609.5 372.8V386.3M610.5 360.7V372.4M610.5 389.2V414.0M610.5 461.4V465.0M611.5 351.0V372.3M611.5 419.9V432.0M612.5 435.8V464.2M612.5 464.2V465.0M613.5 404.7V434.2M614.5 351.0V374.1M614.5 383.5V410.4M614.5 443.9V456.9M614.5 456.9V465.0M615.5 351.0V378.0M615.5 435.0V464.7M616.5 386.5V393.9M616.5 420.4V435.7M617.5 385.4V401.4M617.5 401.4V420.1M617.5 420.1V435.9M618.5 351.0V371.5M618.5 371.5V384.2M618.5 384.2V405.3M618.5 437.4V465.0M619.5 351.0V378.1M619.5 415.9V440.3M620.5 351.0V368.1M620.5 368.1V388.7M620.5 403.7V416.6M620.5 438.4V464.8M620.5 464.8V465.0M621.5 351.0V360.4M621.5 406.1V415.2M621.5 458.6V465.0M622.5 351.0V373.2M622.5 373.2V389.9M622.5 389.9V400.2M623.5 385.1V395.8M623.5 395.8V419.7M623.5 419.7V438.0M623.5 438.0V445.2M623.5 453.9V465.0M624.5 351.0V370.4M624.5 408.8V416.1M624.5 430.9V442.9M624.5 461.6V465.0M625.5 351.0V362.9M625.5 371.7V397.0M625.5 445.1V465.0M626.5 386.7V398.1M626.5 398.1V420.3M627.5 385.5V411.7M627.5 430.5V445.0M627.5 445.0V458.3M628.5 351.0V357.8M628.5 393.0V403.7M628.5 460.4V465.0M629.5 351.0V366.0M629.5 366.0V393.9M629.5 423.6V440.8M630.5 351.0V359.8M630.5 458.1V465.0M631.5 390.4V419.2M631.5 419.2V444.6M632.5 358.4V366.4M632.5 366.4V376.4M632.5 393.3V418.3M632.5 418.3V432.7M632.5 432.7V455.2M633.5 351.0V362.4M633.5 368.5V394.7M633.5 394.7V403.1M633.5 403.1V417.4M633.5 417.4V433.9M633.5 441.3V450.7M633.5 450.7V465.0M634.5 351.0V360.5M634.5 360.5V380.1M634.5 380.1V403.0M635.5 351.0V366.4M635.5 366.4V373.2M635.5 446.6V465.0M636.5 351.0V371.5M636.5 371.5V382.8M636.5 428.4V451.1M637.5 365.2V379.7M637.5 407.1V418.4M637.5 436.7V464.5M637.5 464.5V465.0M638.5 378.1V391.6M638.5 391.6V415.3M638.5 423.0V429.1M638.5 429.1V457.7M639.5 351.0V367.6M639.5 367.6V378.7M639.5 418.3V436.9M639.5 436.9V465.0M640.5 351.0V361.3M640.5 409.8V423.1M640.5 423.1V434.2M640.5 434.2V459.0M640.5 459.0V465.0M641.5 375.9V402.7M641.5 402.7V416.0M641.5 416.0V439.3" stroke="#aaaaaa" stroke-width="1.0" fill="none"/><path d="M627.5 420.3V430.5M628.5 430.5V460.4M629.5 393.9V423.6M630.5 430.2V458.1M631.5 371.4V390.4M632.5 351.0V358.4M632.5 455.2V465.0M633.5 433.9V441.3M634.5 414.0V433.7M634.5 433.7V451.6M635.5 417.2V446.6M638.5 371.6V378.1M638.5 415.3V423.0M638.5 457.7V465.0M639.5 394.7V410.8" stroke="#c6c6c6" stroke-width="1.0" fill="none"/></g><g><path d="M676.5 297.0V326.9M676.5 345.2V374.5M676.5 401.7V416.6M676.5 425.0V441.4M676.5 459.2V465.0M677.5 297.0V309.4M677.5 309.4V317.0M677.5 317.0V323.5M677.5 364.8V391.5M677.5 391.5V417.6M677.5 417.6V432.8M678.5 297.0V312.7M678.5 373.4V381.5M678.5 381.5V394.8M678.5 394.8V410.1M678.5 410.1V427.5M678.5 446.2V453.5M678.5 453.5V463.3M679.5 314.4V321.5M679.5 331.7V357.3M679.5 357.3V384.8M679.5 429.3V443.4M680.5 429.7V458.6M681.5 297.0V305.6M681.5 305.6V323.3M681.5 372.4V385.5M681.5 414.6V439.6M681.5 439.6V465.0M682.5 305.8V312.8M682.5 312.8V342.2M682.5 361.6V376.7M682.5 376.7V402.4M682.5 402.4V431.5M682.5 431.5V439.0M682.5 439.0V465.0M683.5 297.0V308.8M683.5 393.0V411.8M683.5 422.0V451.8M683.5 461.2V465.0M684.5 312.2V332.1M684.5 352.0V379.5M684.5 379.5V409.1M684.5 409.1V422.9M684.5 422.9V449.2M685.5 297.0V314.7M685.5 338.7V359.2M685.5 359.2V376.0M685.5 441.2V465.0M686.5 297.0V318.7M686.5 318.7V347.8M686.5 347.8V355.9M686.5 355.9V362.6M686.5 378.5V395.4M686.5 395.4V404.4M686.5 404.4V425.1M686.5 425.1V444.1M687.5 326.0V354.2M687.5 354.2V368.4M687.5 368.4V381.5M687.5 425.8V452.6M687.5 460.0V465.0M688.5 297.0V313.9M688.5 369.5V395.9M688.5 402.8V430.3M688.5 430.3V449.7M689.5 334.2V343.8M689.5 419.4V428.7M689.5 435.0V460.1M689.5 460.1V465.0M690.5 297.0V326.4M690.5 464.1V465.0M691.5 313.0V319.7M691.5 319.7V349.6M691.5 378.7V389.4M692.5 365.3V372.5M692.5 399.9V415.1M692.5 442.5V451.8M692.5 451.8V465.0M693.5 376.1V386.4M693.5 386.4V395.5M693.5 441.3V459.4M694.5 303.9V331.6M694.5 353.7V359.7M694.5 368.5V385.9M694.5 441.6V457.1M694.5 457.1V465.0M695.5 312.5V327.5M695.5 327.5V343.6M695.5 343.6V362.7M695.5 392.9V420.4M695.5 420.4V432.6M695.5 456.7V463.5M695.5 463.5V465.0M696.5 344.4V370.3M696.5 370.3V379.7M696.5 379.7V394.2M696.5 394.2V405.6M696.5 426.0V447.1M696.5 447.1V461.3M696.5 461.3V465.0M697.5 297.0V310.2M697.5 310.2V329.8M697.5 372.5V400.7M697.5 400.7V427.2M697.5 453.0V465.0M698.5 297.0V321.0M698.5 321.0V337.2M698.5 434.6V461.8M699.5 297.0V317.1M699.5 406.5V430.9M700.5 397.2V424.4M700.5 439.6V459.4M701.5 347.8V367.6M701.5 397.5V424.2M701.5 433.7V458.4M702.5 396.0V412.3M702.5 412.3V427.7M703.5 297.0V321.1M704.5 297.0V326.7M704.5 339.7V366.6M704.5 366.6V377.5M704.5 387.8V399.5M704.5 399.5V421.7M705.5 324.9V337.4M705.5 337.4V345.6M706.5 354.8V369.1M706.5 384.5V412.5M707.5 297.0V321.0" stroke="#c6c6c6" stroke-width="1.0" fill="none"/><path d="M676.5 326.9V345.2M676.5 374.5V401.7M676.5 416.6V425.0M676.5 441.4V452.2M676.5 452.2V459.2M677.5 323.5V337.0M677.5 337.0V364.8M677.5 432.8V447.8M677.5 447.8V465.0M678.5 312.7V336.3M678.5 336.3V365.6M678.5 365.6V373.4M678.5 463.3V465.0M679.5 321.5V331.7M679.5 384.8V405.1M679.5 405.1V429.3M679.5 459.4V465.0M680.5 338.1V356.3M680.5 356.3V376.9M680.5 376.9V398.6M680.5 414.6V429.7M681.5 323.3V351.0M681.5 385.5V414.6M682.5 297.0V305.8M682.5 342.2V351.5M682.5 351.5V361.6M683.5 308.8V315.4M683.5 315.4V331.4M683.5 331.4V357.7M683.5 411.8V422.0M683.5 451.8V461.2M684.5 297.0V312.2M684.5 449.2V465.0M685.5 314.7V338.7M685.5 376.0V393.2M685.5 403.5V419.0M685.5 419.0V441.2M686.5 362.6V378.5M686.5 444.1V465.0M687.5 297.0V308.3M687.5 308.3V326.0M687.5 381.5V396.2M687.5 396.2V425.8M687.5 452.6V460.0M688.5 313.9V338.8M688.5 338.8V363.1M688.5 363.1V369.5M688.5 395.9V402.8M688.5 449.7V465.0M689.5 297.0V323.5M689.5 323.5V334.2M689.5 343.8V366.4M689.5 393.9V419.4M689.5 428.7V435.0M690.5 338.6V356.1M690.5 384.3V391.0M690.5 391.0V399.2M690.5 399.2V414.9M690.5 414.9V438.2M690.5 438.2V464.1M691.5 297.0V313.0M691.5 349.6V378.7M691.5 389.4V414.7M691.5 414.7V427.5M691.5 427.5V450.3M691.5 450.3V465.0M692.5 297.0V325.4M692.5 345.2V365.3M692.5 372.5V399.9M692.5 415.1V425.0M692.5 425.0V442.5M693.5 317.0V344.6M693.5 356.0V376.1M693.5 395.5V414.4M693.5 414.4V441.3M693.5 459.4V465.0M694.5 297.0V303.9M694.5 331.6V353.7M694.5 359.7V368.5M694.5 408.6V415.1M694.5 415.1V426.7M694.5 426.7V441.6M695.5 297.0V312.5M695.5 372.9V392.9M695.5 432.6V456.7M696.5 312.7V326.8M696.5 326.8V344.4M696.5 405.6V426.0M697.5 329.8V352.1M697.5 352.1V372.5M697.5 427.2V446.5M697.5 446.5V453.0M698.5 337.2V360.2M698.5 360.2V385.1M698.5 421.6V434.6M698.5 461.8V465.0M699.5 332.1V348.7M699.5 367.7V380.5M699.5 440.3V459.8M699.5 459.8V465.0M700.5 339.6V364.9M700.5 364.9V375.5M700.5 382.9V397.2M700.5 459.4V465.0M701.5 311.5V319.5M701.5 319.5V347.8M701.5 367.6V397.5M701.5 424.2V433.7M702.5 297.0V311.8M702.5 311.8V332.7M702.5 332.7V342.9M702.5 362.6V380.9M702.5 427.7V441.1M702.5 441.1V465.0M703.5 371.1V381.1M703.5 381.1V399.4M703.5 447.6V460.7M703.5 460.7V465.0M704.5 377.5V387.8M705.5 345.6V360.1M705.5 360.1V383.2M705.5 383.2V391.2M705.5 413.5V420.1M705.5 420.1V443.4M705.5 457.9V465.0M706.5 297.0V304.8M706.5 329.3V338.7M706.5 338.7V354.8M706.5 369.1V384.5M706.5 412.5V437.8M706.5 448.7V454.8M706.5 454.8V465.0M707.5 321.0V339.5M707.5 339.5V346.1M707.5 346.1V354.6M707.5 369.5V399.1M707.5 399.1V410.9M707.5 439.0V455.3M707.5 455.3V464.6M707.5 464.6V465.0M708.5 297.0V303.8M708.5 315.4V343.9M708.5 351.4V371.6M708.5 391.1V402.8M708.5 402.8V426.8M708.5 426.8V449.2M708.5 462.0V465.0M709.5 297.0V320.8M709.5 369.7V388.2M709.5 398.4V406.9M709.5 406.9V426.5M709.5 454.9V465.0M710.5 297.0V319.0M710.5 362.7V373.9M710.5 389.5V418.6M710.5 456.6V465.0M711.5 297.0V312.7M711.5 312.7V340.3M711.5 340.3V352.1M711.5 381.2V409.5M711.5 409.5V421.8M712.5 324.8V337.0M712.5 380.5V395.0M712.5 395.0V404.3M712.5 438.9V465.0M713.5 323.3V334.9M713.5 367.8V391.0M713.5 405.9V431.3M713.5 431.3V452.9M714.5 326.4V345.2M714.5 345.2V357.6M715.5 429.8V448.5M715.5 448.5V460.5M716.5 314.1V340.6M716.5 429.2V453.8M716.5 453.8V461.5M717.5 349.7V374.3M718.5 399.1V414.9M719.5 366.0V391.4M720.5 448.1V465.0" stroke="#aaaaaa" stroke-width="1.0" fill="none"/><path d="M678.5 427.5V446.2M679.5 297.0V314.4M679.5 443.4V459.4M680.5 320.4V338.1M680.5 398.6V414.6M681.5 351.0V372.4M683.5 357.7V378.3M683.5 378.3V393.0M684.5 332.1V352.0M685.5 393.2V403.5M689.5 366.4V393.9M690.5 326.4V338.6M690.5 356.1V384.3M692.5 325.4V345.2M693.5 297.0V317.0M693.5 344.6V356.0M694.5 385.9V408.6M695.5 362.7V372.9M696.5 297.0V312.7M698.5 385.1V405.7M698.5 405.7V421.6M699.5 317.1V332.1M699.5 348.7V360.6M699.5 360.6V367.7M699.5 380.5V406.5M699.5 430.9V440.3M700.5 297.0V323.2M700.5 323.2V339.6M700.5 375.5V382.9M700.5 424.4V433.3M700.5 433.3V439.6M701.5 297.0V311.5M701.5 458.4V465.0M702.5 342.9V351.6M702.5 351.6V362.6M702.5 380.9V396.0M703.5 321.1V334.8M703.5 334.8V355.6M703.5 355.6V371.1M703.5 399.4V427.3M703.5 427.3V447.6M704.5 326.7V339.7M704.5 421.7V451.0M704.5 451.0V465.0M705.5 297.0V324.9M705.5 391.2V413.5M705.5 443.4V457.9M706.5 304.8V329.3M706.5 437.8V448.7M707.5 354.6V369.5M707.5 410.9V421.5M707.5 421.5V439.0M708.5 303.8V315.4M708.5 343.9V351.4M708.5 371.6V391.1M708.5 449.2V462.0M709.5 320.8V341.3M709.5 341.3V369.7M709.5 426.5V454.9M710.5 319.0V344.8M710.5 344.8V362.7M710.5 373.9V389.5M710.5 418.6V447.3M710.5 447.3V456.6M711.5 352.1V369.7M711.5 369.7V381.2M711.5 421.8V437.8M711.5 437.8V452.2M711.5 452.2V465.0M712.5 297.0V306.0M712.5 306.0V324.8M712.5 337.0V350.8M712.5 350.8V380.5M712.5 404.3V423.6M712.5 423.6V438.9M713.5 297.0V323.3M713.5 334.9V352.6M713.5 352.6V367.8M713.5 391.0V405.9M713.5 452.9V465.0M714.5 366.1V391.9M714.5 401.3V419.7M714.5 430.9V437.8M714.5 454.1V465.0M715.5 297.0V313.4M715.5 319.9V347.7M715.5 347.7V364.6M715.5 384.3V408.9M715.5 420.0V429.8M715.5 460.5V465.0M716.5 297.0V305.2M716.5 340.6V362.3M716.5 362.3V371.6M716.5 371.6V400.5M716.5 400.5V429.2M717.5 297.0V307.3M717.5 307.3V334.0M717.5 374.3V394.5M717.5 394.5V414.7M718.5 297.0V308.2M718.5 353.4V366.8M718.5 414.9V429.3M718.5 429.3V444.5M718.5 458.8V465.0M719.5 297.0V316.4M719.5 352.7V366.0M719.5 391.4V410.5M719.5 410.5V434.8M719.5 434.8V456.6M720.5 297.0V322.5M720.5 335.3V351.2M720.5 418.2V425.1M720.5 425.1V448.1M721.5 297.0V313.3M721.5 381.2V394.7" stroke="#8d8d8d" stroke-width="1.0" fill="none"/><path d="M680.5 297.0V320.4M680.5 458.6V465.0" stroke="#e2e2e2" stroke-width="1.0" fill="none"/><path d="M709.5 388.2V398.4M714.5 297.0V326.4M714.5 357.6V366.1M714.5 391.9V401.3M714.5 419.7V430.9M714.5 437.8V454.1M715.5 313.4V319.9M715.5 364.6V384.3M715.5 408.9V420.0M716.5 305.2V314.1M716.5 461.5V465.0M717.5 334.0V349.7M717.5 414.7V439.7M717.5 439.7V448.2M717.5 448.2V465.0M718.5 308.2V324.7M718.5 324.7V353.4M718.5 366.8V378.0M718.5 378.0V399.1M718.5 444.5V458.8M719.5 316.4V338.2M719.5 338.2V352.7M719.5 456.6V465.0M720.5 322.5V335.3M720.5 351.2V365.3M720.5 365.3V374.6M720.5 374.6V396.9M720.5 396.9V418.2M721.5 313.3V334.9M721.5 334.9V344.8M721.5 344.8V361.8M721.5 361.8V381.2M721.5 394.7V410.0M721.5 410.0V422.0M721.5 422.0V444.6M721.5 444.6V465.0" stroke="#717171" stroke-width="1.0" fill="none"/></g><g><path d="M605.5 305.0V311.6M605.5 311.6V338.5M606.5 305.0V325.4M606.5 336.3V349.2M606.5 349.2V351.0M607.5 305.0V327.1M607.5 327.1V346.7M607.5 346.7V351.0M608.5 305.0V314.2M608.5 314.2V331.5M609.5 305.0V312.4M609.5 312.4V318.8M609.5 318.8V328.2M609.5 328.2V350.2M609.5 350.2V351.0M610.5 305.0V331.7M610.5 331.7V351.0M611.5 311.5V329.5M612.5 305.0V321.9M612.5 321.9V341.4M613.5 305.0V311.9M613.5 311.9V329.3M613.5 329.3V349.5M614.5 305.0V317.6M614.5 332.9V351.0M615.5 326.1V346.4M616.5 321.3V330.8M616.5 330.8V337.2M616.5 337.2V351.0M617.5 305.0V323.3M617.5 323.3V331.4M617.5 331.4V351.0M618.5 305.0V325.2M618.5 325.2V339.3M619.5 305.0V332.8M619.5 341.7V351.0M621.5 305.0V312.4M621.5 318.8V342.9M622.5 333.0V351.0M623.5 305.0V334.6M624.5 348.4V351.0" stroke="#c6c6c6" stroke-width="1.0" fill="none"/><path d="M605.5 338.5V351.0M606.5 325.4V336.3M608.5 331.5V351.0M612.5 350.1V351.0M613.5 349.5V351.0M614.5 317.6V332.9M615.5 305.0V326.1M615.5 346.4V351.0" stroke="#e2e2e2" stroke-width="1.0" fill="none"/><path d="M611.5 305.0V311.5M611.5 329.5V351.0M612.5 341.4V350.1M616.5 305.0V321.3M618.5 339.3V351.0M619.5 332.8V341.7M620.5 305.0V328.7M620.5 328.7V351.0M621.5 312.4V318.8M621.5 342.9V351.0M622.5 305.0V319.4M622.5 319.4V326.3M622.5 326.3V333.0M623.5 334.6V351.0M624.5 305.0V321.5M624.5 321.5V348.4" stroke="#aaaaaa" stroke-width="1.0" fill="none"/></g><path d="M614,304 H650 V318 Q640,322 628,321 Q616,320 614,312 Z" fill="#b8b8b8" stroke="#111" stroke-width="0.00" /><g><path d="M614.5 304.0V320.0M615.5 304.0V320.0M616.5 304.0V320.0M618.5 304.0V320.0M619.5 304.0V320.0M620.5 304.0V310.8M620.5 310.8V320.0M621.5 304.0V320.0M622.5 304.0V311.2M623.5 304.0V312.3M623.5 312.3V320.0M626.5 304.0V320.0M627.5 304.0V320.0M628.5 304.0V320.0M632.5 316.4V320.0M633.5 304.0V320.0M634.5 314.8V320.0M636.5 304.0V320.0M638.5 304.0V317.5M641.5 304.0V320.0M642.5 304.0V313.4M643.5 304.0V320.0M645.5 304.0V320.0M647.5 304.0V320.0" stroke="#c6c6c6" stroke-width="1.0" fill="none"/><path d="M617.5 304.0V320.0M622.5 311.2V320.0M624.5 304.0V312.2M624.5 312.2V320.0M625.5 304.0V320.0M629.5 304.0V320.0M630.5 304.0V320.0M631.5 304.0V320.0M634.5 304.0V314.8M635.5 315.7V320.0M638.5 317.5V320.0M639.5 304.0V320.0M640.5 304.0V320.0M642.5 313.4V320.0M644.5 304.0V315.2M644.5 315.2V320.0M646.5 304.0V319.8M646.5 319.8V320.0M649.5 304.0V320.0" stroke="#aaaaaa" stroke-width="1.0" fill="none"/><path d="M632.5 304.0V316.4M635.5 304.0V315.7M637.5 304.0V320.0M648.5 304.0V320.0" stroke="#8d8d8d" stroke-width="1.0" fill="none"/></g><path d="M614,310 Q618,321 630,321 Q642,321 650,318 V297" fill="none" stroke="#111" stroke-width="2.75" /><path d="M652,306 H740" fill="none" stroke="#111" stroke-width="1.12" stroke-dasharray="2 6"/><path d="M625,381 H740" fill="none" stroke="#111" stroke-width="1.12" stroke-dasharray="2 6"/><path d="M233,382 Q250,384 270,384.5 Q310,385 345,379.5" fill="none" stroke="#111" stroke-width="1.38" /><circle cx="275" cy="384" r="1.6" fill="#222" stroke="#111" stroke-width="0.00"/><circle cx="292" cy="384" r="1.6" fill="#222" stroke="#111" stroke-width="0.00"/><circle cx="310" cy="384" r="1.6" fill="#222" stroke="#111" stroke-width="0.00"/><circle cx="328" cy="384" r="1.6" fill="#222" stroke="#111" stroke-width="0.00"/><path d="M249,304.5 Q256,307.5 266,307.5 Q310,307 345,302.7" fill="none" stroke="#111" stroke-width="1.38" /><circle cx="286" cy="306.5" r="1.4" fill="#222" stroke="#111" stroke-width="0.00"/><circle cx="304" cy="306.5" r="1.4" fill="#222" stroke="#111" stroke-width="0.00"/><circle cx="322" cy="306.5" r="1.4" fill="#222" stroke="#111" stroke-width="0.00"/><rect x="365" y="297" width="38" height="55" fill="#fdfdfd" stroke="#111" stroke-width="3.00" /><rect x="372" y="304" width="26" height="41" fill="#eee" stroke="#111" stroke-width="2.00" /><line x1="385" y1="304" x2="385" y2="352" stroke="#111" stroke-width="2.50" /><path d="M378,318 H392" fill="none" stroke="#111" stroke-width="2.25" /><path d="M343,301.7 Q353.5,308.5 364,301.7 M343,308.8 Q353.5,315.6 364,308.8 M343,316.0 Q353.5,322.8 364,316.0 M343,323.1 Q353.5,329.9 364,323.1 M343,330.3 Q353.5,337.0 364,330.3 M343,337.4 Q353.5,344.2 364,337.4 M343,344.5 Q353.5,351.3 364,344.5 M343,351.7 Q353.5,358.4 364,351.7 M343,358.8 Q353.5,365.6 364,358.8 M343,365.9 Q353.5,372.7 364,365.9 M343,373.1 Q353.5,379.9 364,373.1" stroke="#151515" stroke-width="2.9" fill="none" stroke-linecap="round"/><path d="M344,301 V379.5 M363,301 V379.5" stroke="#333" stroke-width="1.4" fill="none"/><path d="M374,354.7 Q383.5,361.6 393,354.7 M374,362.0 Q383.5,368.9 393,362.0 M374,369.3 Q383.5,376.2 393,369.3 M374,376.6 Q383.5,383.5 393,376.6 M374,383.9 Q383.5,390.8 393,383.9 M374,391.2 Q383.5,398.1 393,391.2 M374,398.4 Q383.5,405.4 393,398.4" stroke="#151515" stroke-width="2.9" fill="none" stroke-linecap="round"/><path d="M375,354 V405 M392,354 V405" stroke="#333" stroke-width="1.4" fill="none"/><line x1="384" y1="405" x2="384" y2="440" stroke="#111" stroke-width="3.12" stroke-dasharray="6 3"/><rect x="356" y="441" width="32" height="24" fill="#f4f4f4" stroke="#111" stroke-width="1.25" /><g><path d="M370.5 441.0V449.2M372.5 441.0V453.0M372.5 453.0V465.0M373.5 441.0V465.0M374.5 456.4V465.0M375.5 441.0V464.6M380.5 454.8V465.0M381.5 456.0V465.0M383.5 441.0V465.0M384.5 441.0V465.0M387.5 454.3V462.9M387.5 462.9V465.0" stroke="#c6c6c6" stroke-width="1.0" fill="none"/><path d="M370.5 449.2V465.0M371.5 441.0V465.0M374.5 441.0V456.4M375.5 464.6V465.0M376.5 441.0V465.0M377.5 441.0V452.9M378.5 441.0V455.8M378.5 464.7V465.0M379.5 463.6V465.0M380.5 441.0V454.8M381.5 441.0V456.0M385.5 441.0V465.0M386.5 441.0V449.8" stroke="#aaaaaa" stroke-width="1.0" fill="none"/><path d="M377.5 452.9V465.0M378.5 455.8V464.7M379.5 441.0V463.6M382.5 441.0V465.0M386.5 449.8V465.0M387.5 441.0V454.3" stroke="#e2e2e2" stroke-width="1.0" fill="none"/></g><path d="M429,342.7 Q440.0,349.2 451,342.7 M429,349.6 Q440.0,356.1 451,349.6 M429,356.5 Q440.0,363.0 451,356.5 M429,363.4 Q440.0,369.9 451,363.4 M429,370.2 Q440.0,376.8 451,370.2 M429,377.1 Q440.0,383.7 451,377.1 M429,384.0 Q440.0,390.6 451,384.0 M429,390.9 Q440.0,397.5 451,390.9 M429,397.8 Q440.0,404.3 451,397.8" stroke="#151515" stroke-width="2.8" fill="none" stroke-linecap="round"/><path d="M430,342 V404 M450,342 V404" stroke="#333" stroke-width="1.4" fill="none"/><line x1="441" y1="402" x2="441" y2="440" stroke="#111" stroke-width="3.12" stroke-dasharray="5 4"/><rect x="426" y="440" width="31" height="25" fill="#fdfdfd" stroke="#111" stroke-width="1.25" /><g><path d="M440.5 440.0V455.7M440.5 455.7V465.0M443.5 440.0V458.6M444.5 440.0V465.0M445.5 460.9V465.0M447.5 440.0V448.7M449.5 440.0V460.2M450.5 440.0V465.0M453.5 440.0V455.9M454.5 440.0V459.1M454.5 459.1V465.0" stroke="#8d8d8d" stroke-width="1.0" fill="none"/><path d="M441.5 440.0V465.0M442.5 456.9V465.0M443.5 458.6V465.0M445.5 440.0V460.9M446.5 440.0V465.0M447.5 448.7V465.0M448.5 440.0V461.8M449.5 460.2V465.0M451.5 440.0V465.0M452.5 440.0V465.0M453.5 455.9V465.0M455.5 440.0V465.0M456.5 440.0V449.9M456.5 449.9V465.0" stroke="#aaaaaa" stroke-width="1.0" fill="none"/><path d="M442.5 440.0V456.9M448.5 461.8V465.0" stroke="#717171" stroke-width="1.0" fill="none"/></g><path d="M544,352.7 Q554.0,359.8 564,352.7 M544,360.2 Q554.0,367.2 564,360.2 M544,367.6 Q554.0,374.7 564,367.6 M544,375.0 Q554.0,382.1 564,375.0 M544,382.5 Q554.0,389.5 564,382.5 M544,389.9 Q554.0,396.9 564,389.9 M544,397.3 Q554.0,404.4 564,397.3" stroke="#151515" stroke-width="3.0" fill="none" stroke-linecap="round"/><path d="M545,352 V404 M563,352 V404" stroke="#333" stroke-width="1.4" fill="none"/><line x1="554" y1="404" x2="554" y2="440" stroke="#111" stroke-width="2.75" stroke-dasharray="5 4"/><rect x="539" y="440" width="28" height="25" fill="#fdfdfd" stroke="#111" stroke-width="1.25" /><path d="M596,354.7 Q606.5,361.8 617,354.7 M596,362.2 Q606.5,369.2 617,362.2 M596,369.6 Q606.5,376.7 617,369.6 M596,377.0 Q606.5,384.1 617,377.0 M596,384.5 Q606.5,391.5 617,384.5 M596,391.9 Q606.5,398.9 617,391.9 M596,399.3 Q606.5,406.4 617,399.3" stroke="#151515" stroke-width="3.0" fill="none" stroke-linecap="round"/><path d="M597,354 V406 M616,354 V406" stroke="#333" stroke-width="1.4" fill="none"/><line x1="606" y1="406" x2="606" y2="441" stroke="#111" stroke-width="2.50" /><rect x="595" y="441" width="42" height="24" fill="#ddd" stroke="#111" stroke-width="1.25" /><g><path d="M595.5 441.0V465.0M596.5 441.0V464.1M596.5 464.1V465.0M597.5 441.0V450.8M597.5 450.8V465.0M599.5 464.6V465.0M600.5 441.0V449.3M604.5 460.2V465.0M605.5 441.0V460.1M605.5 460.1V465.0M607.5 441.0V465.0M609.5 441.0V456.6M611.5 441.0V465.0M612.5 449.3V465.0M613.5 441.0V465.0M616.5 450.5V465.0M617.5 441.0V454.7M618.5 441.0V465.0M620.5 441.0V456.7M620.5 456.7V465.0M622.5 441.0V465.0M623.5 441.0V454.5M623.5 454.5V462.3M624.5 441.0V452.7M624.5 452.7V462.8M624.5 462.8V465.0M627.5 441.0V464.6M628.5 441.0V461.2M628.5 461.2V465.0M633.5 441.0V465.0" stroke="#c6c6c6" stroke-width="1.0" fill="none"/><path d="M598.5 441.0V465.0M599.5 441.0V464.6M600.5 449.3V465.0M601.5 441.0V458.8M601.5 458.8V465.0M602.5 441.0V465.0M603.5 441.0V449.2M603.5 449.2V465.0M604.5 441.0V447.2M604.5 447.2V460.2M606.5 441.0V458.7M608.5 441.0V465.0M609.5 456.6V465.0M610.5 441.0V465.0M612.5 441.0V449.3M614.5 441.0V459.9M614.5 459.9V465.0M615.5 448.5V461.7M615.5 461.7V465.0M616.5 441.0V450.5M619.5 441.0V453.4M621.5 459.6V465.0M623.5 462.3V465.0M625.5 441.0V463.2M625.5 463.2V465.0M626.5 441.0V465.0M627.5 464.6V465.0M629.5 441.0V465.0M630.5 441.0V462.8M630.5 462.8V465.0M631.5 441.0V451.2M631.5 451.2V462.3M631.5 462.3V465.0M632.5 441.0V465.0M634.5 441.0V465.0M635.5 441.0V465.0M636.5 441.0V465.0" stroke="#aaaaaa" stroke-width="1.0" fill="none"/><path d="M600.5 465.0V465.0M606.5 458.7V465.0M615.5 441.0V448.5M617.5 454.7V465.0M619.5 453.4V465.0M621.5 441.0V459.6" stroke="#e2e2e2" stroke-width="1.0" fill="none"/></g><path d="M625,321.7 Q635.5,328.7 646,321.7 M625,329.1 Q635.5,336.1 646,329.1 M625,336.5 Q635.5,343.5 646,336.5 M625,343.9 Q635.5,350.9 646,343.9 M625,351.2 Q635.5,358.2 646,351.2 M625,358.6 Q635.5,365.6 646,358.6 M625,366.0 Q635.5,373.0 646,366.0 M625,373.4 Q635.5,380.4 646,373.4" stroke="#151515" stroke-width="3.0" fill="none" stroke-linecap="round"/><path d="M626,321 V380 M645,321 V380" stroke="#333" stroke-width="1.4" fill="none"/><rect x="260" y="464" width="467" height="253" fill="#fdfdfd"  /><g><path d="M260.0 482.5H327.2M327.2 482.5H385.1M482.5 482.5H519.4M260.0 483.5H370.0M370.0 483.5H400.7M475.3 483.5H529.1M714.3 483.5H727.0M260.0 484.5H351.6M548.6 484.5H589.5M650.2 484.5H703.0M352.2 485.5H388.4M260.0 486.5H351.8M351.8 486.5H380.0M404.8 486.5H487.3M675.9 486.5H727.0M667.6 487.5H727.0" stroke="#8d8d8d" stroke-width="1.0" fill="none"/><path d="M385.1 482.5H482.5M519.4 482.5H605.4M605.4 482.5H701.0M701.0 482.5H727.0M529.1 483.5H593.3M662.9 483.5H693.8M693.8 483.5H714.3M351.6 484.5H471.5M471.5 484.5H548.6M703.0 484.5H727.0M260.0 485.5H352.2M388.4 485.5H409.5M409.5 485.5H520.8M520.8 485.5H610.5M690.1 485.5H727.0M501.8 487.5H597.0M539.8 488.5H571.2M656.7 488.5H687.4M260.0 489.5H338.2M375.1 489.5H431.3M403.4 490.5H477.9M477.9 490.5H545.9M643.2 490.5H721.8M721.8 490.5H727.0M392.9 491.5H477.6M477.6 491.5H564.4M644.8 491.5H727.0M260.0 492.5H375.7M456.6 492.5H513.8M513.8 492.5H603.1M260.0 493.5H288.8M443.9 493.5H557.9M668.2 493.5H727.0M287.1 494.5H399.3M694.9 494.5H727.0" stroke="#aaaaaa" stroke-width="1.0" fill="none"/><path d="M400.7 483.5H475.3M593.3 483.5H662.9M589.5 484.5H650.2M610.5 485.5H690.1M380.0 486.5H404.8M487.3 486.5H572.1M572.1 486.5H675.9M260.0 487.5H319.8M319.8 487.5H368.9M368.9 487.5H478.1M478.1 487.5H501.8M597.0 487.5H667.6M260.0 488.5H379.7M379.7 488.5H469.7M469.7 488.5H539.8M571.2 488.5H615.7M615.7 488.5H656.7M687.4 488.5H727.0M338.2 489.5H375.1M431.3 489.5H510.9M510.9 489.5H602.8M602.8 489.5H716.4M716.4 489.5H727.0M260.0 490.5H330.8M330.8 490.5H403.4M545.9 490.5H643.2M260.0 491.5H367.2M367.2 491.5H392.9M564.4 491.5H644.8M375.7 492.5H456.6M603.1 492.5H664.5M664.5 492.5H727.0M288.8 493.5H350.1M557.9 493.5H668.2M399.3 494.5H513.1M513.1 494.5H580.5M580.5 494.5H694.9" stroke="#c6c6c6" stroke-width="1.0" fill="none"/><path d="M350.1 493.5H443.9M260.0 494.5H287.1" stroke="#e2e2e2" stroke-width="1.0" fill="none"/></g><line x1="260" y1="464.5" x2="727" y2="464.5" stroke="#111" stroke-width="2.50" /><line x1="260" y1="470" x2="727" y2="470" stroke="#777" stroke-width="1.25" /><line x1="260" y1="482.5" x2="727" y2="482.5" stroke="#333" stroke-width="1.75" /><ellipse cx="267" cy="478" rx="2.6" ry="3.2" fill="none" stroke="#111" stroke-width="1.2"/><ellipse cx="267" cy="713" rx="2.6" ry="3.0" fill="none" stroke="#111" stroke-width="1.2"/><ellipse cx="323" cy="478" rx="2.6" ry="3.2" fill="none" stroke="#111" stroke-width="1.2"/><ellipse cx="323" cy="713" rx="2.6" ry="3.0" fill="none" stroke="#111" stroke-width="1.2"/><ellipse cx="380" cy="478" rx="2.6" ry="3.2" fill="none" stroke="#111" stroke-width="1.2"/><ellipse cx="380" cy="713" rx="2.6" ry="3.0" fill="none" stroke="#111" stroke-width="1.2"/><ellipse cx="439" cy="478" rx="2.6" ry="3.2" fill="none" stroke="#111" stroke-width="1.2"/><ellipse cx="439" cy="713" rx="2.6" ry="3.0" fill="none" stroke="#111" stroke-width="1.2"/><ellipse cx="497" cy="478" rx="2.6" ry="3.2" fill="none" stroke="#111" stroke-width="1.2"/><ellipse cx="497" cy="713" rx="2.6" ry="3.0" fill="none" stroke="#111" stroke-width="1.2"/><ellipse cx="555" cy="478" rx="2.6" ry="3.2" fill="none" stroke="#111" stroke-width="1.2"/><ellipse cx="555" cy="713" rx="2.6" ry="3.0" fill="none" stroke="#111" stroke-width="1.2"/><ellipse cx="615" cy="478" rx="2.6" ry="3.2" fill="none" stroke="#111" stroke-width="1.2"/><ellipse cx="615" cy="713" rx="2.6" ry="3.0" fill="none" stroke="#111" stroke-width="1.2"/><ellipse cx="671" cy="478" rx="2.6" ry="3.2" fill="none" stroke="#111" stroke-width="1.2"/><ellipse cx="671" cy="713" rx="2.6" ry="3.0" fill="none" stroke="#111" stroke-width="1.2"/><ellipse cx="718" cy="478" rx="2.6" ry="3.2" fill="none" stroke="#111" stroke-width="1.2"/><ellipse cx="718" cy="713" rx="2.6" ry="3.0" fill="none" stroke="#111" stroke-width="1.2"/><g><path d="M260.0 597.5H324.1M324.1 597.5H449.3M677.7 597.5H727.0M260.0 607.5H401.1M401.1 607.5H555.3M621.7 607.5H697.8M260.0 608.5H519.3M519.3 608.5H600.5M260.0 618.5H464.0M464.0 618.5H562.4M562.4 618.5H727.0M321.4 619.5H541.5M567.0 620.5H674.3M674.3 620.5H727.0M474.5 621.5H547.2M386.2 622.5H526.1M614.1 622.5H727.0M260.0 623.5H453.7M602.9 623.5H713.2M713.2 623.5H727.0M260.0 626.5H327.9M565.5 626.5H718.1M650.1 627.5H727.0M260.0 628.5H372.3M642.2 628.5H727.0M260.0 629.5H335.4M570.7 629.5H727.0M260.0 631.5H461.1M461.1 631.5H699.6M699.6 631.5H727.0M260.0 632.5H445.4M628.6 632.5H699.2M437.1 633.5H513.5M513.5 633.5H636.0M636.0 633.5H712.1M712.1 633.5H727.0M503.6 634.5H586.1M586.1 634.5H676.0M661.9 636.5H727.0M555.0 638.5H727.0M260.0 639.5H405.6M405.6 639.5H614.9M614.9 639.5H727.0M423.9 642.5H673.1M673.1 642.5H727.0" stroke="#c6c6c6" stroke-width="1.0" fill="none"/><path d="M449.3 597.5H677.7M260.0 598.5H328.9M617.2 598.5H727.0M719.4 599.5H727.0M449.6 600.5H529.0M384.1 601.5H576.4M260.0 604.5H399.6M617.1 604.5H727.0M260.0 605.5H324.4M324.4 605.5H436.2M436.2 605.5H687.6M687.6 605.5H727.0M690.8 606.5H727.0M555.3 607.5H621.7M697.8 607.5H727.0M600.5 608.5H727.0M260.0 609.5H509.6M509.6 609.5H727.0M521.4 610.5H705.3M406.9 611.5H517.7M604.2 611.5H727.0M260.0 612.5H324.0M448.0 612.5H530.7M530.7 612.5H661.4M260.0 614.5H460.1M460.1 614.5H698.3M379.8 615.5H567.9M260.0 616.5H402.7M402.7 616.5H617.0M713.8 616.5H727.0M260.0 619.5H321.4M260.0 620.5H328.9M328.9 620.5H567.0M547.2 621.5H688.7M688.7 621.5H727.0M260.0 622.5H386.2M526.1 622.5H614.1M453.7 623.5H602.9M260.0 625.5H471.4M471.4 625.5H637.4M637.4 625.5H727.0M327.9 626.5H565.5M718.1 626.5H727.0M260.0 627.5H395.5M395.5 627.5H650.1M372.3 628.5H512.3M512.3 628.5H642.2M445.4 632.5H628.6M699.2 632.5H727.0M260.0 633.5H437.1M676.0 634.5H727.0M260.0 637.5H465.6" stroke="#e2e2e2" stroke-width="1.0" fill="none"/><path d="M260.0 602.5H433.3M433.3 602.5H561.5M561.5 602.5H727.0M260.0 613.5H383.0M260.0 624.5H329.9M438.7 624.5H639.9M260.0 630.5H438.5M471.5 635.5H534.5M625.3 635.5H726.6M526.0 640.5H612.8M612.8 640.5H717.4M260.0 641.5H404.6M655.3 641.5H727.0M260.0 643.5H506.0M540.8 644.5H672.2M519.5 645.5H662.9M260.0 648.5H424.3M424.3 648.5H671.0M671.0 648.5H727.0M447.5 649.5H509.4M509.4 649.5H654.0M654.0 649.5H727.0M495.8 651.5H606.6M606.6 651.5H716.8M716.8 651.5H727.0M260.0 652.5H387.7M387.7 652.5H571.9M571.9 652.5H709.0M709.0 652.5H727.0M260.0 653.5H363.9M363.9 653.5H552.8M552.8 653.5H719.1M260.0 654.5H459.5M459.5 654.5H598.6M598.6 654.5H686.0M686.0 654.5H727.0M260.0 655.5H456.2M671.6 655.5H727.0M260.0 656.5H408.0M408.0 656.5H515.1M512.3 658.5H602.9M260.0 660.5H433.1M433.1 660.5H616.3M260.0 661.5H388.4M469.6 662.5H544.6M363.4 663.5H554.4M260.0 664.5H378.8M378.8 664.5H471.6M471.6 664.5H721.1M721.1 664.5H727.0M260.0 665.5H347.0M347.0 665.5H489.3M489.3 665.5H683.5M683.5 665.5H727.0M260.0 666.5H458.1M547.0 666.5H721.1M721.1 666.5H727.0M260.0 667.5H438.5M382.3 669.5H461.4M461.4 669.5H610.6M610.6 669.5H727.0M260.0 671.5H368.9M368.9 671.5H480.7M480.7 671.5H587.0M659.9 671.5H727.0M260.0 672.5H482.2M655.5 672.5H727.0M260.0 674.5H458.5M663.2 674.5H727.0M513.5 675.5H593.0M260.0 676.5H355.3M355.3 676.5H516.2M703.7 676.5H727.0" stroke="#8d8d8d" stroke-width="1.0" fill="none"/><path d="M383.0 613.5H636.9M329.9 624.5H438.7M343.8 635.5H471.5M534.5 635.5H625.3M726.6 635.5H727.0M260.0 646.5H519.1M519.1 646.5H727.0M260.0 651.5H495.8M260.0 657.5H332.2M260.0 658.5H512.3M602.9 658.5H707.8M260.0 659.5H438.6M438.6 659.5H647.4M647.4 659.5H727.0M616.3 660.5H727.0M388.4 661.5H516.6M649.6 661.5H727.0M260.0 662.5H469.6M702.7 662.5H727.0M260.0 663.5H363.4M554.4 663.5H621.3M621.3 663.5H727.0M458.1 666.5H547.0M438.5 667.5H656.0M656.0 667.5H727.0M379.3 668.5H572.4M260.0 669.5H382.3M260.0 670.5H351.7M351.7 670.5H493.4M493.4 670.5H727.0M587.0 671.5H659.9M482.2 672.5H655.5M260.0 673.5H475.9M475.9 673.5H542.5M542.5 673.5H727.0M458.5 674.5H663.2M260.0 675.5H337.4M337.4 675.5H513.5M516.2 676.5H703.7" stroke="#717171" stroke-width="1.0" fill="none"/><path d="M636.9 613.5H727.0M541.5 619.5H679.7M679.7 619.5H727.0M639.9 624.5H727.0M335.4 629.5H570.7M438.5 630.5H539.4M539.4 630.5H658.9M658.9 630.5H727.0M260.0 634.5H503.6M260.0 636.5H409.6M409.6 636.5H661.9M465.6 637.5H704.9M704.9 637.5H727.0M260.0 638.5H365.0M365.0 638.5H555.0M260.0 640.5H440.7M440.7 640.5H526.0M717.4 640.5H727.0M404.6 641.5H655.3M260.0 642.5H423.9M506.0 643.5H727.0M260.0 644.5H378.6M378.6 644.5H540.8M672.2 644.5H727.0M260.0 645.5H372.5M372.5 645.5H519.5M662.9 645.5H727.0M260.0 647.5H382.9M382.9 647.5H565.2M565.2 647.5H727.0M260.0 649.5H447.5M260.0 650.5H497.7M497.7 650.5H664.7M664.7 650.5H727.0M719.1 653.5H727.0M456.2 655.5H671.6M515.1 656.5H727.0M707.8 658.5H727.0M516.6 661.5H649.6M593.0 675.5H727.0" stroke="#aaaaaa" stroke-width="1.0" fill="none"/><path d="M260.0 635.5H343.8M332.2 657.5H492.7M492.7 657.5H677.1M677.1 657.5H727.0M544.6 662.5H702.7M260.0 668.5H379.3M572.4 668.5H722.5" stroke="#555555" stroke-width="1.0" fill="none"/><path d="M722.5 668.5H727.0" stroke="#383838" stroke-width="1.0" fill="none"/></g><line x1="260" y1="597.5" x2="727" y2="597.5" stroke="#444" stroke-width="1.50" /><line x1="260" y1="676.5" x2="727" y2="676.5" stroke="#222" stroke-width="2.00" /><g><path d="M260.0 678.5H293.2M260.0 679.5H377.5M377.5 679.5H458.9M458.9 679.5H488.6M589.6 679.5H704.3M260.0 680.5H296.2M384.0 680.5H423.6M519.0 680.5H591.5M591.5 680.5H704.8M399.2 681.5H506.3M506.3 681.5H587.6M697.1 681.5H727.0M260.0 682.5H357.3M357.3 682.5H382.2M467.8 682.5H562.5M562.5 682.5H641.3M260.0 683.5H363.8M594.4 683.5H651.7M651.7 683.5H727.0M416.3 684.5H525.9M525.9 684.5H578.4M375.1 685.5H458.9M632.4 685.5H678.8M510.1 686.5H543.5M543.5 686.5H649.5M649.5 686.5H726.9M726.9 686.5H727.0M320.0 687.5H433.3M433.3 687.5H525.5M525.5 687.5H554.5M709.1 687.5H727.0" stroke="#e2e2e2" stroke-width="1.0" fill="none"/></g><g><path d="M260.0 688.5H362.5M362.5 688.5H475.6M475.6 688.5H511.9M511.9 688.5H614.5M651.9 688.5H727.0M637.6 689.5H727.0M366.6 690.5H439.5M439.5 690.5H525.1M559.1 690.5H673.4M335.8 691.5H390.0M390.0 691.5H459.0M493.5 691.5H574.2M574.2 691.5H646.6M646.6 691.5H707.8M387.6 692.5H426.3M260.0 693.5H377.4M431.4 693.5H492.2M614.8 693.5H701.0M701.0 693.5H727.0M600.7 694.5H672.5M672.5 694.5H720.4M351.4 695.5H448.5M448.5 695.5H482.2M482.2 695.5H552.3M646.8 695.5H699.5M482.6 696.5H503.9M707.9 696.5H727.0M260.0 697.5H343.8M343.8 697.5H418.9M513.1 697.5H576.3M260.0 698.5H318.4M318.4 698.5H353.0M635.6 698.5H655.9M470.9 699.5H575.5M381.5 700.5H420.7M535.8 700.5H588.1M588.1 700.5H647.7M316.9 701.5H377.3M716.7 701.5H727.0M260.0 702.5H320.5M538.6 702.5H612.4M612.4 702.5H705.1M347.3 703.5H373.8M373.8 703.5H436.5M639.3 703.5H698.5M698.5 703.5H727.0M260.0 704.5H288.5M288.5 704.5H340.8M340.8 704.5H441.2M441.2 704.5H546.4M567.9 704.5H615.0M615.0 704.5H694.2M360.3 705.5H406.5M406.5 705.5H472.5M472.5 705.5H521.0M521.0 705.5H552.8M368.9 706.5H410.4M458.1 706.5H533.1M693.5 706.5H727.0M313.1 707.5H337.0M337.0 707.5H402.5M518.3 707.5H576.7M576.7 707.5H668.1M668.1 707.5H710.8M710.8 707.5H727.0" stroke="#c6c6c6" stroke-width="1.0" fill="none"/><path d="M614.5 688.5H651.9M260.0 689.5H303.2M434.4 689.5H526.8M459.0 691.5H493.5M707.8 691.5H727.0M260.0 692.5H292.0M612.0 705.5H669.5M633.1 706.5H693.5M260.0 707.5H313.1" stroke="#e2e2e2" stroke-width="1.0" fill="none"/><path d="M303.2 689.5H335.7M335.7 689.5H434.4M526.8 689.5H554.4M554.4 689.5H637.6M260.0 690.5H342.1M342.1 690.5H366.6M525.1 690.5H559.1M673.4 690.5H727.0M260.0 691.5H335.8M292.0 692.5H326.9M426.3 692.5H540.3M540.3 692.5H597.1M597.1 692.5H712.6M712.6 692.5H727.0M492.2 693.5H543.6M543.6 693.5H584.5M584.5 693.5H614.8M260.0 694.5H323.8M323.8 694.5H345.0M720.4 694.5H727.0M260.0 695.5H351.4M368.8 696.5H459.9M503.9 696.5H547.2M685.7 696.5H707.9M418.9 697.5H513.1M576.3 697.5H609.0M609.0 697.5H667.0M667.0 697.5H711.6M711.6 697.5H727.0M353.0 698.5H413.5M413.5 698.5H464.0M464.0 698.5H557.1M655.9 698.5H686.3M686.3 698.5H727.0M260.0 699.5H356.9M260.0 700.5H327.2M647.7 700.5H713.5M713.5 700.5H727.0M260.0 701.5H316.9M377.3 701.5H439.8M525.7 701.5H581.7M619.1 701.5H716.7M320.5 702.5H426.6M705.1 702.5H727.0M260.0 703.5H347.3M456.6 703.5H520.6M520.6 703.5H639.3M546.4 704.5H567.9M694.2 704.5H727.0M260.0 705.5H360.3M669.5 705.5H727.0M260.0 706.5H368.9M410.4 706.5H458.1M533.1 706.5H633.1M402.5 707.5H518.3" stroke="#aaaaaa" stroke-width="1.0" fill="none"/><path d="M326.9 692.5H387.6M377.4 693.5H431.4M345.0 694.5H419.7M419.7 694.5H492.4M492.4 694.5H600.7M552.3 695.5H646.8M699.5 695.5H727.0M260.0 696.5H368.8M459.9 696.5H482.6M547.2 696.5H643.8M643.8 696.5H685.7M557.1 698.5H635.6M356.9 699.5H470.9M575.5 699.5H616.7M616.7 699.5H658.5M658.5 699.5H727.0M327.2 700.5H381.5M420.7 700.5H535.8M439.8 701.5H525.7M581.7 701.5H619.1M426.6 702.5H538.6M436.5 703.5H456.6M552.8 705.5H612.0" stroke="#8d8d8d" stroke-width="1.0" fill="none"/></g><line x1="260" y1="688" x2="727" y2="688" stroke="#777" stroke-width="1.00" /><line x1="260" y1="708" x2="727" y2="708" stroke="#444" stroke-width="1.25" /><line x1="260" y1="464" x2="260" y2="717" stroke="#111" stroke-width="1.75" /><line x1="727" y1="464" x2="727" y2="717" stroke="#111" stroke-width="3.50" /><path d="M352,501 Q403,496 454,500 Q463,501 463,510 L459,557 Q455,575 440,575 H368 Q352,575 349,557 L344,512 Q343,502 352,501 Z" fill="#fdfdfd" stroke="#111" stroke-width="2.38" /><g><path d="M346.5 501.0V524.9M347.5 509.5V517.1M348.5 501.0V522.6M348.5 522.6V525.0M349.5 501.0V523.5M350.5 501.0V508.4M351.5 513.0V522.0M351.5 522.0V525.0M356.5 515.9V525.0M359.5 509.9V525.0M361.5 501.0V513.4M362.5 501.0V516.1M363.5 501.0V525.0M364.5 522.0V525.0M367.5 523.5V525.0M368.5 501.0V516.6M370.5 501.0V515.5M374.5 501.0V524.9M377.5 501.0V521.7M380.5 522.2V525.0M382.5 501.0V518.9M386.5 501.0V509.2M387.5 501.0V524.8M390.5 501.0V525.0M391.5 501.0V516.9M391.5 516.9V524.1M391.5 524.1V525.0M392.5 510.0V525.0M393.5 501.0V525.0M395.5 501.0V523.0M395.5 523.0V525.0M396.5 501.0V525.0M397.5 521.1V525.0M398.5 501.0V523.5M399.5 501.0V525.0M401.5 501.0V510.6M401.5 510.6V525.0M404.5 512.4V525.0M407.5 501.0V513.9M408.5 501.0V517.0M409.5 519.5V525.0M416.5 510.8V525.0M418.5 516.4V525.0M420.5 501.0V513.4M423.5 501.0V514.1M423.5 514.1V525.0M426.5 524.0V525.0M428.5 515.2V524.3M429.5 519.1V525.0M430.5 501.0V513.4M433.5 501.0V507.2M433.5 507.2V525.0M434.5 519.5V525.0M435.5 507.4V525.0M437.5 520.7V525.0M439.5 524.6V525.0M444.5 501.0V513.1M444.5 513.1V519.4M444.5 519.4V525.0M445.5 501.0V508.4M447.5 507.4V521.1M449.5 501.0V524.4M450.5 501.0V513.4M450.5 513.4V525.0M451.5 508.5V525.0M453.5 501.0V513.4M453.5 513.4V520.5M454.5 501.0V521.4M456.5 501.0V512.4M457.5 501.0V507.4M457.5 507.4V523.0M457.5 523.0V525.0M458.5 501.0V517.5M458.5 517.5V524.5" stroke="#717171" stroke-width="1.0" fill="none"/><path d="M346.5 524.9V525.0M347.5 501.0V509.5M349.5 523.5V525.0M350.5 508.4V518.5M350.5 518.5V525.0M353.5 501.0V525.0M357.5 501.0V511.4M357.5 511.4V525.0M358.5 510.0V525.0M359.5 501.0V509.9M361.5 513.4V525.0M362.5 516.1V525.0M365.5 501.0V511.3M366.5 501.0V511.9M366.5 511.9V524.6M367.5 511.8V523.5M368.5 516.6V525.0M369.5 501.0V515.6M369.5 515.6V522.9M369.5 522.9V525.0M372.5 501.0V512.2M372.5 512.2V525.0M374.5 524.9V525.0M375.5 501.0V513.2M378.5 501.0V511.7M378.5 511.7V525.0M380.5 501.0V522.2M381.5 501.0V508.9M383.5 501.0V525.0M385.5 501.0V525.0M387.5 524.8V525.0M388.5 501.0V523.9M388.5 523.9V525.0M389.5 501.0V516.7M389.5 516.7V525.0M394.5 512.9V525.0M397.5 501.0V521.1M398.5 523.5V525.0M400.5 501.0V525.0M402.5 512.0V525.0M404.5 501.0V512.4M405.5 501.0V525.0M407.5 513.9V525.0M410.5 501.0V510.3M411.5 507.7V525.0M412.5 501.0V513.1M412.5 520.2V525.0M413.5 501.0V522.5M413.5 522.5V525.0M414.5 501.0V525.0M415.5 501.0V525.0M416.5 501.0V510.8M417.5 501.0V522.5M417.5 522.5V525.0M418.5 501.0V516.4M419.5 501.0V517.7M419.5 517.7V525.0M420.5 513.4V525.0M422.5 501.0V525.0M424.5 501.0V516.8M425.5 501.0V521.7M426.5 501.0V524.0M427.5 501.0V525.0M428.5 501.0V515.2M430.5 513.4V525.0M431.5 501.0V511.3M432.5 501.0V511.0M432.5 511.0V525.0M434.5 501.0V519.5M435.5 501.0V507.4M436.5 513.7V525.0M437.5 514.7V520.7M439.5 501.0V524.6M440.5 501.0V517.0M440.5 517.0V525.0M441.5 501.0V517.4M441.5 517.4V525.0M443.5 501.0V517.3M443.5 517.3V525.0M446.5 501.0V515.1M446.5 515.1V525.0M447.5 501.0V507.4M448.5 501.0V507.8M448.5 507.8V520.0M448.5 520.0V525.0M449.5 524.4V525.0M451.5 501.0V508.5M452.5 501.0V518.6M453.5 520.5V525.0M454.5 521.4V525.0M455.5 514.1V525.0M456.5 512.4V520.6M456.5 520.6V525.0M459.5 501.0V522.9M459.5 522.9V525.0M460.5 501.0V525.0" stroke="#555555" stroke-width="1.0" fill="none"/><path d="M347.5 517.1V525.0M351.5 501.0V513.0M352.5 501.0V510.2M352.5 510.2V525.0M354.5 501.0V516.1M354.5 516.1V525.0M355.5 501.0V525.0M356.5 501.0V515.9M360.5 501.0V510.5M360.5 510.5V525.0M364.5 501.0V522.0M366.5 524.6V525.0M367.5 501.0V511.8M370.5 515.5V525.0M371.5 501.0V516.6M373.5 501.0V513.7M373.5 513.7V525.0M375.5 513.2V525.0M376.5 501.0V525.0M377.5 521.7V525.0M379.5 501.0V525.0M381.5 508.9V525.0M382.5 518.9V525.0M384.5 512.3V525.0M386.5 509.2V525.0M392.5 501.0V510.0M394.5 501.0V512.9M402.5 501.0V512.0M403.5 501.0V525.0M406.5 501.0V525.0M409.5 501.0V519.5M410.5 510.3V525.0M411.5 501.0V507.7M412.5 513.1V520.2M421.5 501.0V508.0M421.5 508.0V525.0M424.5 516.8V525.0M425.5 521.7V525.0M428.5 524.3V525.0M429.5 501.0V519.1M431.5 511.3V525.0M437.5 501.0V514.7M438.5 501.0V525.0M442.5 501.0V525.0M447.5 521.1V525.0M452.5 518.6V525.0M455.5 501.0V514.1M458.5 524.5V525.0" stroke="#383838" stroke-width="1.0" fill="none"/><path d="M358.5 501.0V510.0M365.5 511.3V525.0M371.5 516.6V525.0M384.5 501.0V512.3M408.5 517.0V525.0M436.5 501.0V513.7M445.5 508.4V525.0" stroke="#8d8d8d" stroke-width="1.0" fill="none"/></g><g><path d="M347.5 531.0V542.2M347.5 542.2V557.0M348.5 542.5V557.0M349.5 531.0V557.0M350.5 531.0V550.7M350.5 550.7V557.0M351.5 531.0V545.2M351.5 545.2V557.0M352.5 531.0V543.3M355.5 531.0V553.2M355.5 553.2V557.0M357.5 531.0V554.7M358.5 531.0V554.9M359.5 555.7V557.0M363.5 545.2V551.3M364.5 531.0V549.4M366.5 549.8V557.0M367.5 531.0V545.1M368.5 531.0V545.1M368.5 545.1V557.0M370.5 537.8V557.0M372.5 531.0V551.9M372.5 551.9V557.0M375.5 531.0V555.4M376.5 531.0V557.0M377.5 544.7V551.4M377.5 551.4V557.0M378.5 547.6V557.0M379.5 531.0V549.8M381.5 531.0V542.9M382.5 531.0V543.6M383.5 531.0V543.2M383.5 543.2V550.0M385.5 542.1V549.1M386.5 538.6V557.0M389.5 531.0V541.3M391.5 531.0V539.3M391.5 539.3V546.3M391.5 546.3V557.0M392.5 540.0V557.0M393.5 531.0V549.7M393.5 549.7V557.0M395.5 531.0V544.1M398.5 531.0V557.0M399.5 531.0V537.4M399.5 537.4V557.0M400.5 531.0V553.3M402.5 538.0V555.7M402.5 555.7V557.0M403.5 531.0V542.5M406.5 531.0V557.0M408.5 537.7V557.0M410.5 547.2V557.0M412.5 547.0V557.0M413.5 531.0V550.0M414.5 548.8V556.4M414.5 556.4V557.0M415.5 531.0V540.4M415.5 540.4V555.2M416.5 553.4V557.0M418.5 531.0V557.0M419.5 531.0V537.7M420.5 531.0V557.0M421.5 531.0V549.0M422.5 531.0V543.8M423.5 531.0V552.2M423.5 552.2V557.0M426.5 531.0V550.6M429.5 531.0V554.9M432.5 556.3V557.0M433.5 531.0V554.2M433.5 554.2V557.0M435.5 544.1V557.0M436.5 531.0V554.5M437.5 539.2V556.0M437.5 556.0V557.0M439.5 531.0V552.7M439.5 552.7V557.0M440.5 531.0V540.1M440.5 540.1V551.2M445.5 546.6V557.0M451.5 552.4V557.0M452.5 531.0V537.4M453.5 531.0V553.8M454.5 552.0V557.0M455.5 531.0V538.0M456.5 531.0V545.7M457.5 531.0V547.4M457.5 547.4V557.0" stroke="#717171" stroke-width="1.0" fill="none"/><path d="M348.5 531.0V542.5M352.5 543.3V557.0M354.5 531.0V549.1M354.5 549.1V557.0M359.5 531.0V555.7M360.5 545.6V556.9M360.5 556.9V557.0M361.5 539.2V557.0M365.5 531.0V556.6M365.5 556.6V557.0M377.5 531.0V544.7M378.5 539.4V547.6M383.5 550.0V557.0M384.5 538.3V555.2M384.5 555.2V557.0M385.5 531.0V542.1M386.5 531.0V538.6M388.5 531.0V538.8M395.5 544.1V557.0M400.5 553.3V557.0M402.5 531.0V538.0M405.5 531.0V541.4M407.5 549.8V557.0M409.5 531.0V548.2M411.5 543.2V557.0M413.5 550.0V557.0M414.5 540.5V548.8M416.5 531.0V553.4M422.5 556.2V557.0M427.5 551.0V557.0M430.5 543.3V553.9M430.5 553.9V557.0M432.5 549.4V556.3M434.5 542.9V557.0M440.5 551.2V557.0M441.5 531.0V557.0M442.5 531.0V550.0M448.5 550.6V557.0M449.5 531.0V557.0M454.5 531.0V552.0M455.5 538.0V551.9M458.5 531.0V546.9" stroke="#555555" stroke-width="1.0" fill="none"/><path d="M353.5 531.0V541.0M353.5 541.0V557.0M356.5 531.0V553.2M356.5 553.2V557.0M357.5 554.7V557.0M358.5 554.9V557.0M360.5 531.0V545.6M361.5 531.0V539.2M362.5 531.0V538.3M362.5 538.3V557.0M363.5 531.0V545.2M363.5 551.3V557.0M364.5 549.4V557.0M366.5 531.0V549.8M367.5 545.1V553.2M367.5 553.2V557.0M369.5 531.0V548.8M369.5 548.8V557.0M370.5 531.0V537.8M371.5 531.0V546.6M371.5 546.6V553.7M371.5 553.7V557.0M373.5 531.0V557.0M374.5 531.0V538.9M374.5 538.9V556.8M374.5 556.8V557.0M375.5 555.4V557.0M378.5 531.0V539.4M379.5 549.8V557.0M380.5 531.0V557.0M381.5 542.9V557.0M382.5 543.6V553.8M382.5 553.8V557.0M384.5 531.0V538.3M385.5 549.1V557.0M387.5 531.0V557.0M388.5 538.8V549.6M388.5 549.6V557.0M389.5 541.3V557.0M390.5 531.0V557.0M392.5 531.0V540.0M394.5 531.0V553.5M394.5 553.5V557.0M396.5 531.0V556.4M396.5 556.4V557.0M397.5 531.0V554.4M397.5 554.4V557.0M401.5 531.0V543.6M401.5 543.6V557.0M403.5 542.5V557.0M404.5 531.0V541.2M404.5 541.2V557.0M405.5 541.4V557.0M407.5 531.0V549.8M408.5 531.0V537.7M409.5 548.2V557.0M410.5 531.0V547.2M411.5 531.0V543.2M412.5 531.0V547.0M414.5 531.0V540.5M415.5 555.2V557.0M417.5 531.0V557.0M419.5 537.7V557.0M421.5 549.0V557.0M424.5 531.0V557.0M425.5 531.0V554.2M425.5 554.2V557.0M426.5 550.6V557.0M427.5 531.0V551.0M428.5 531.0V551.6M428.5 551.6V557.0M430.5 531.0V543.3M431.5 531.0V542.4M431.5 542.4V557.0M432.5 531.0V549.4M434.5 531.0V542.9M435.5 531.0V544.1M436.5 554.5V557.0M437.5 531.0V539.2M438.5 554.8V557.0M442.5 550.0V557.0M443.5 531.0V553.4M443.5 553.4V557.0M444.5 531.0V557.0M445.5 531.0V546.6M446.5 531.0V557.0M447.5 531.0V557.0M448.5 531.0V543.9M448.5 543.9V550.6M450.5 531.0V551.9M450.5 551.9V557.0M451.5 531.0V552.4M452.5 537.4V557.0M453.5 553.8V557.0M455.5 551.9V557.0M456.5 545.7V557.0M458.5 546.9V557.0" stroke="#8d8d8d" stroke-width="1.0" fill="none"/><path d="M422.5 543.8V556.2M429.5 554.9V557.0M438.5 531.0V554.8" stroke="#aaaaaa" stroke-width="1.0" fill="none"/></g><g><path d="M350.0 557.5H405.9M350.0 561.5H454.5M389.2 562.5H432.9M350.0 564.5H387.3M387.3 564.5H455.5M350.0 566.5H456.0M413.0 568.5H456.0M372.7 569.5H395.8M451.3 570.5H456.0M350.0 572.5H444.8" stroke="#8d8d8d" stroke-width="1.0" fill="none"/><path d="M405.9 557.5H456.0M428.3 558.5H456.0M350.0 559.5H406.1M434.9 559.5H456.0M454.5 561.5H456.0M411.3 565.5H456.0M350.0 570.5H451.3M350.0 571.5H385.6" stroke="#c6c6c6" stroke-width="1.0" fill="none"/><path d="M350.0 558.5H428.3M406.1 559.5H434.9M350.0 560.5H408.3M408.3 560.5H456.0M350.0 562.5H389.2M432.9 562.5H456.0M350.0 563.5H412.9M412.9 563.5H438.3M438.3 563.5H456.0M455.5 564.5H456.0M350.0 565.5H411.3M350.0 567.5H404.2M404.2 567.5H456.0M350.0 568.5H413.0M350.0 569.5H372.7M395.8 569.5H456.0M385.6 571.5H456.0M444.8 572.5H456.0M350.0 573.5H432.7M432.7 573.5H456.0" stroke="#aaaaaa" stroke-width="1.0" fill="none"/></g><rect x="347" y="525" width="114" height="7" fill="#fdfdfd"/><rect x="360.5" y="520" width="6.5" height="26" fill="#fdfdfd" stroke="#111" stroke-width="1.25" /><rect x="380" y="520" width="6.5" height="26" fill="#fdfdfd" stroke="#111" stroke-width="1.25" /><rect x="436.5" y="520" width="6.5" height="26" fill="#fdfdfd" stroke="#111" stroke-width="1.25" /><rect x="216" y="613" width="40" height="34" fill="#fdfdfd" stroke="#111" stroke-width="1.50" /><g><path d="M216.0 620.5H256.0M216.0 621.5H256.0M216.0 626.5H255.7M255.7 626.5H256.0M216.0 629.5H256.0M216.0 630.5H256.0" stroke="#c6c6c6" stroke-width="1.0" fill="none"/><path d="M216.0 622.5H256.0M216.0 623.5H256.0M216.0 624.5H256.0M216.0 627.5H256.0" stroke="#e2e2e2" stroke-width="1.0" fill="none"/><path d="M216.0 625.5H256.0M216.0 628.5H256.0M216.0 631.5H256.0M216.0 632.5H256.0M216.0 633.5H256.0M216.0 634.5H256.0M216.0 637.5H242.0M216.0 639.5H241.3" stroke="#aaaaaa" stroke-width="1.0" fill="none"/><path d="M216.0 635.5H256.0M216.0 636.5H256.0M242.0 637.5H256.0M216.0 638.5H242.2M242.2 638.5H256.0M241.3 639.5H256.0M216.0 640.5H244.1M216.0 646.5H256.0" stroke="#8d8d8d" stroke-width="1.0" fill="none"/><path d="M244.1 640.5H256.0M216.0 641.5H256.0M216.0 642.5H256.0M216.0 643.5H256.0M216.0 644.5H256.0M216.0 645.5H256.0" stroke="#717171" stroke-width="1.0" fill="none"/></g><ellipse cx="217" cy="630" rx="5" ry="16" fill="#999" stroke="#111" stroke-width="1.1"/><rect x="254" y="604" width="6" height="49" fill="#fdfdfd" stroke="#111" stroke-width="1.50" /><line x1="192" y1="717.5" x2="1105" y2="717.5" stroke="#111" stroke-width="3.00" /><path d="M770,717 V711 H805 V717" fill="#ccc" stroke="#111" stroke-width="1.25" /><circle cx="495.6" cy="530" r="23" fill="#fdfdfd" stroke="#111" stroke-width="2.00"/><circle cx="495.6" cy="528" r="17.5" fill="#fdfdfd" stroke="#111" stroke-width="1.50"/><path d="M473,533 A23,23 0 0,0 518,533" fill="none" stroke="#222" stroke-width="3"/><g transform="translate(535.0,316.0) rotate(9.913)"><path d="M-16,0 V209.1 Q0,222.1 16,209.1 V0 Z" fill="#fdfdfd"/><g><path d="M-15.5 0.0V19.4M-15.5 19.4V28.7M-15.5 28.7V42.5M-15.5 66.4V101.7M-15.5 215.1V215.1M-14.5 64.9V98.6M-14.5 115.4V151.8M-14.5 151.8V178.0M-13.5 0.0V16.8M-13.5 16.8V28.4M-13.5 28.4V58.7M-13.5 134.6V146.2M-13.5 146.2V181.5M-13.5 181.5V196.1M-12.5 55.7V73.7M-12.5 86.7V95.7M-10.5 21.6V51.9M-10.5 93.4V111.8M-10.5 138.9V174.9M-10.5 202.5V215.1M-9.5 76.9V95.1M-9.5 117.7V137.0M-9.5 137.0V161.7M-8.5 20.9V30.3M-8.5 89.2V107.0M-8.5 107.0V122.9M-8.5 139.7V159.1M-7.5 0.0V33.8M-7.5 33.8V55.0M-7.5 55.0V92.0M-7.5 129.8V139.1M-7.5 139.1V178.3M-7.5 178.3V215.1M-6.5 0.0V10.1M-6.5 10.1V30.6M-6.5 71.2V90.4M-6.5 90.4V122.4M-6.5 131.8V171.4M-6.5 208.7V215.1M-5.5 18.7V50.9M-5.5 214.5V215.1M-4.5 0.0V20.7M-4.5 41.4V66.3M-4.5 66.3V78.0M-4.5 88.1V102.4M-4.5 125.9V157.1M-4.5 202.0V215.1M-3.5 59.5V97.2M-3.5 135.5V172.6M-2.5 0.0V33.2M-2.5 67.1V94.7M-2.5 203.6V215.1M-1.5 124.7V140.5M-1.5 140.5V169.6M-1.5 205.3V215.1M-0.5 134.5V148.5M-0.5 205.6V215.1M0.5 90.3V104.9M0.5 104.9V113.1M0.5 113.1V135.3M1.5 30.5V69.5M1.5 183.4V195.9M1.5 195.9V213.4M2.5 91.4V111.7M2.5 182.9V201.1M3.5 80.4V97.4M3.5 121.2V152.5" stroke="#e2e2e2" stroke-width="1.0" fill="none"/><path d="M-2.5 33.2V67.1M-2.5 139.2V149.3M-2.5 149.3V181.0M-2.5 181.0V203.6M-1.5 8.7V30.4M-1.5 30.4V49.8M-1.5 78.0V94.0M-1.5 94.0V114.0M-1.5 114.0V124.7M-1.5 169.6V205.3M-0.5 22.9V40.6M-0.5 40.6V69.6M-0.5 69.6V93.1M-0.5 101.6V134.5M-0.5 148.5V173.2M0.5 18.8V46.2M0.5 46.2V69.4M0.5 69.4V90.3M0.5 135.3V171.8M0.5 188.5V203.0M1.5 0.0V30.5M1.5 69.5V79.5M1.5 79.5V97.0M1.5 125.5V136.0M1.5 136.0V171.4M1.5 171.4V183.4M2.5 0.0V28.2M2.5 28.2V68.2M2.5 111.7V135.9M2.5 172.8V182.9M2.5 201.1V215.1M3.5 20.4V49.2M3.5 178.3V192.0M4.5 150.2V178.8M6.5 0.0V13.9M6.5 61.0V73.3M6.5 73.3V93.4M6.5 93.4V130.1M6.5 157.6V167.4M7.5 40.6V62.6M7.5 62.6V74.9M7.5 74.9V98.4M8.5 0.0V25.2M9.5 57.9V71.2M9.5 110.5V145.0" stroke="#c6c6c6" stroke-width="1.0" fill="none"/><path d="M-2.5 113.1V123.2M-1.5 0.0V8.7M0.5 0.0V18.8M0.5 171.8V188.5M0.5 203.0V215.1M1.5 97.0V125.5M1.5 213.4V215.1M2.5 68.2V91.4M2.5 135.9V153.0M2.5 153.0V172.8M3.5 0.0V20.4M3.5 49.2V64.3M3.5 64.3V80.4M3.5 97.4V121.2M3.5 152.5V178.3M4.5 10.5V26.6M4.5 26.6V59.7M4.5 59.7V94.2M4.5 94.2V129.0M4.5 129.0V150.2M4.5 178.8V187.1M4.5 187.1V215.1M5.5 31.8V70.2M5.5 70.2V107.4M5.5 164.8V184.6M5.5 184.6V215.1M6.5 13.9V47.8M7.5 0.0V28.0M7.5 145.8V173.7M7.5 187.3V215.1M8.5 25.2V34.5M8.5 34.5V71.9M8.5 108.9V125.5M8.5 160.6V187.1M8.5 187.1V199.2M9.5 0.0V15.0M9.5 28.8V57.9M9.5 79.3V110.5M9.5 145.0V184.1M9.5 212.4V215.1M10.5 56.9V94.4M10.5 94.4V104.1M10.5 187.9V212.9M10.5 212.9V215.1M11.5 27.2V54.0M11.5 91.3V100.5M11.5 114.1V147.4M12.5 0.0V32.2M12.5 104.0V115.6M12.5 144.1V168.5M13.5 110.7V136.3M13.5 179.8V192.9M14.5 42.5V77.7M14.5 196.8V214.2M15.5 93.6V121.3M15.5 121.3V135.2M15.5 152.5V166.7" stroke="#aaaaaa" stroke-width="1.0" fill="none"/><path d="M3.5 192.0V215.1M4.5 0.0V10.5M5.5 0.0V31.8M5.5 107.4V130.5M5.5 130.5V164.8M6.5 47.8V61.0M6.5 130.1V157.6M6.5 167.4V198.6M6.5 198.6V215.1M7.5 28.0V40.6M7.5 98.4V112.6M7.5 112.6V145.8M7.5 173.7V187.3M8.5 71.9V108.9M8.5 125.5V160.6M8.5 199.2V215.1M9.5 15.0V28.8M9.5 184.1V212.4M10.5 25.3V56.9M10.5 104.1V121.7M10.5 121.7V156.7M10.5 156.7V187.9M11.5 0.0V13.9M11.5 13.9V27.2M11.5 54.0V91.3M11.5 100.5V114.1M11.5 165.5V200.6M12.5 71.7V104.0M12.5 168.5V205.2M13.5 28.3V48.9M13.5 68.8V96.9M13.5 96.9V110.7M13.5 150.0V169.0M13.5 169.0V179.8M13.5 192.9V215.1M14.5 0.0V27.0M14.5 114.2V150.5M14.5 165.6V196.8M15.5 22.0V57.3M15.5 57.3V74.6M15.5 74.6V93.6M15.5 135.2V152.5M15.5 193.9V205.6" stroke="#8d8d8d" stroke-width="1.0" fill="none"/><path d="M9.5 71.2V79.3M10.5 0.0V25.3M11.5 147.4V165.5M11.5 200.6V215.1M12.5 32.2V55.7M12.5 55.7V71.7M12.5 115.6V144.1M12.5 205.2V215.1M13.5 0.0V28.3M13.5 48.9V68.8M13.5 136.3V150.0M14.5 27.0V42.5M14.5 77.7V114.2M14.5 150.5V165.6M15.5 0.0V22.0M15.5 205.6V215.1" stroke="#717171" stroke-width="1.0" fill="none"/><path d="M14.5 214.2V215.1M15.5 166.7V193.9" stroke="#555555" stroke-width="1.0" fill="none"/></g><path d="M-16,0 V209.1 Q0,222.1 16,209.1" fill="none" stroke="#111" stroke-width="1.9"/><path d="M16,209.1 V0" fill="none" stroke="#555" stroke-width="1.0"/></g><path d="M517,330 Q514,300 538,300 Q562,300 561,325 Q560,336 553,340" fill="none" stroke="#111" stroke-width="2.38" /><path d="M523,330 Q522,308 538,307 Q553,308 553,328" fill="none" stroke="#111" stroke-width="1.25" /><rect x="814" y="424" width="79" height="292" fill="#fdfdfd"  /><g><path d="M844.5 427.0V451.5M844.5 463.9V475.0M844.5 475.0V491.5M844.5 518.0V557.1M844.5 557.1V594.4M844.5 610.6V634.9M844.5 685.5V716.0M845.5 427.0V465.9M845.5 465.9V488.4M845.5 570.1V581.6M846.5 442.9V459.7M846.5 459.7V499.0M846.5 534.4V552.3M846.5 584.8V595.3M846.5 595.3V618.8M846.5 669.4V708.1M847.5 492.6V504.7M847.5 504.7V521.5M847.5 561.6V599.5M847.5 627.6V665.7M848.5 458.4V468.7M848.5 478.2V510.2M848.5 581.6V614.3M849.5 427.0V457.3M849.5 566.3V579.1M849.5 665.9V684.6M849.5 705.2V716.0M850.5 472.8V495.9M850.5 495.9V513.5M850.5 551.0V560.7M850.5 622.8V660.7M851.5 486.3V514.3M851.5 528.0V546.9M851.5 546.9V572.9M851.5 572.9V602.7M851.5 602.7V625.2M851.5 680.6V716.0M852.5 439.9V478.1M852.5 486.1V522.1M852.5 597.7V636.6M852.5 636.6V650.9M852.5 650.9V673.6M852.5 673.6V687.6M853.5 427.0V444.7M853.5 474.9V500.8M853.5 500.8V526.5M853.5 541.1V559.5M853.5 559.5V569.0M853.5 569.0V608.7M853.5 608.7V623.7M853.5 632.9V658.0M853.5 658.0V677.7M854.5 473.8V483.5M854.5 483.5V514.1M854.5 514.1V530.3M854.5 540.4V573.9M854.5 596.7V620.4M854.5 620.4V658.3M854.5 658.3V681.7M855.5 544.1V561.5M855.5 597.6V637.4M855.5 678.6V698.5M856.5 427.0V451.4M856.5 526.7V538.5M856.5 538.5V548.0M856.5 658.4V675.0M856.5 675.0V691.5M856.5 691.5V716.0M857.5 427.0V438.6M857.5 465.9V482.4M857.5 553.0V574.2M857.5 622.6V661.7M857.5 661.7V681.4M857.5 681.4V693.9M858.5 447.0V479.8M858.5 559.0V582.2M858.5 595.4V631.1M858.5 631.1V665.7M859.5 522.1V543.6M859.5 543.6V562.1M859.5 606.5V626.0M859.5 626.0V639.4M860.5 427.0V457.2M860.5 598.7V619.9M860.5 651.8V663.0M861.5 463.4V484.0M861.5 484.0V510.5M861.5 529.8V538.2M861.5 583.6V613.1M862.5 427.0V438.7M862.5 483.1V492.5M862.5 526.8V548.6M862.5 567.0V606.2M862.5 615.9V627.1M862.5 676.3V695.8M862.5 695.8V716.0M863.5 445.7V475.0M863.5 485.2V513.5M863.5 513.5V539.9M863.5 550.3V573.7M863.5 646.8V663.9M864.5 427.0V456.3M864.5 567.6V579.9M864.5 589.9V611.2M864.5 611.2V624.1M864.5 694.6V716.0M865.5 463.2V494.7M865.5 523.4V554.5M865.5 565.2V603.3M865.5 603.3V642.6M865.5 669.6V685.7M865.5 704.5V716.0M866.5 427.0V462.3M866.5 495.2V506.3M866.5 579.4V614.9M866.5 632.5V647.3M867.5 527.2V566.4M867.5 638.4V669.4M867.5 696.4V716.0M868.5 542.8V550.9M868.5 563.5V579.8M868.5 665.3V678.5M869.5 475.6V511.3M869.5 542.2V565.1M869.5 587.5V614.8M869.5 672.8V683.4M870.5 526.4V553.3M871.5 427.0V448.4M871.5 448.4V482.7M871.5 482.7V501.8M871.5 571.0V585.5M871.5 585.5V610.8M871.5 610.8V643.3M871.5 662.8V683.3M871.5 683.3V712.8M872.5 427.0V439.6M872.5 652.9V674.0M872.5 711.7V716.0M873.5 427.0V455.8M874.5 514.6V530.5M874.5 530.5V565.7M874.5 662.1V681.9M875.5 500.1V528.8M875.5 559.8V572.8M875.5 596.7V623.9M876.5 463.3V492.6M876.5 517.8V548.7M876.5 668.1V706.4M877.5 594.5V612.3M878.5 483.2V517.4M879.5 558.5V589.7M879.5 682.2V699.0" stroke="#c6c6c6" stroke-width="1.0" fill="none"/><path d="M844.5 451.5V463.9M844.5 491.5V518.0M844.5 594.4V610.6M845.5 488.4V501.0M845.5 501.0V535.9M845.5 556.2V570.1M845.5 638.0V646.6M845.5 646.6V678.6M845.5 678.6V711.5M845.5 711.5V716.0M846.5 427.0V442.9M846.5 618.8V639.6M847.5 427.0V446.5M847.5 446.5V458.4M847.5 537.0V550.3M847.5 550.3V561.6M847.5 599.5V627.6M847.5 665.7V701.7M847.5 701.7V716.0M848.5 427.0V458.4M848.5 468.7V478.2M848.5 510.2V542.2M848.5 542.2V581.6M848.5 614.3V624.5M848.5 649.5V671.2M849.5 457.3V479.2M849.5 479.2V496.1M849.5 496.1V504.5M849.5 504.5V520.8M849.5 520.8V544.8M849.5 544.8V566.3M849.5 579.1V610.7M849.5 610.7V630.1M849.5 630.1V651.8M849.5 651.8V665.9M850.5 427.0V446.3M850.5 446.3V472.8M850.5 589.8V622.8M850.5 697.0V711.7M851.5 427.0V446.0M851.5 446.0V458.1M851.5 458.1V486.3M851.5 514.3V528.0M851.5 625.2V648.9M851.5 648.9V680.6M852.5 546.7V555.5M852.5 580.3V597.7M852.5 687.6V700.9M852.5 714.9V716.0M853.5 526.5V541.1M853.5 623.7V632.9M853.5 677.7V691.2M854.5 530.3V540.4M854.5 681.7V707.1M854.5 707.1V716.0M855.5 520.5V544.1M855.5 664.6V678.6M855.5 698.5V716.0M856.5 487.9V526.7M856.5 606.8V626.1M856.5 649.4V658.4M857.5 482.4V511.4M857.5 585.8V622.6M858.5 427.0V447.0M858.5 665.7V704.7M859.5 466.3V479.5M859.5 596.6V606.5M859.5 662.3V685.7M860.5 457.2V484.0M860.5 619.9V651.8M861.5 427.0V463.4M861.5 538.2V572.3M863.5 427.0V445.7M863.5 475.0V485.2M863.5 573.7V590.9M864.5 555.9V567.6M866.5 680.8V714.0M867.5 566.4V580.8" stroke="#e2e2e2" stroke-width="1.0" fill="none"/><path d="M844.5 634.9V660.6M845.5 535.9V556.2M845.5 581.6V610.5M845.5 610.5V638.0M846.5 552.3V584.8M846.5 639.6V655.6M846.5 655.6V669.4M846.5 708.1V716.0M847.5 458.4V492.6M847.5 521.5V537.0M848.5 624.5V649.5M848.5 671.2V710.2M848.5 710.2V716.0M849.5 684.6V705.2M850.5 513.5V551.0M850.5 560.7V589.8M850.5 660.7V697.0M850.5 711.7V716.0M852.5 427.0V439.9M852.5 478.1V486.1M852.5 522.1V546.7M852.5 555.5V566.2M852.5 566.2V580.3M852.5 700.9V714.9M853.5 444.7V474.9M853.5 691.2V713.6M853.5 713.6V716.0M854.5 427.0V461.5M854.5 461.5V473.8M854.5 573.9V596.7M855.5 427.0V440.7M855.5 440.7V470.3M855.5 470.3V500.9M855.5 500.9V520.5M855.5 561.5V597.6M855.5 637.4V664.6M856.5 451.4V487.9M856.5 548.0V568.7M856.5 568.7V606.8M856.5 626.1V649.4M857.5 438.6V465.9M857.5 511.4V527.9M857.5 527.9V553.0M857.5 574.2V585.8M857.5 693.9V716.0M858.5 479.8V507.2M858.5 507.2V526.7M858.5 526.7V559.0M858.5 582.2V595.4M858.5 704.7V716.0M859.5 427.0V438.0M859.5 438.0V466.3M859.5 479.5V501.7M859.5 501.7V522.1M859.5 562.1V596.6M859.5 639.4V662.3M859.5 685.7V695.3M859.5 695.3V716.0M860.5 484.0V521.6M860.5 521.6V559.7M860.5 559.7V598.7M860.5 663.0V699.0M860.5 699.0V716.0M861.5 510.5V529.8M861.5 572.3V583.6M861.5 613.1V649.9M861.5 649.9V663.1M861.5 663.1V685.6M861.5 685.6V698.7M861.5 698.7V716.0M862.5 438.7V448.3M862.5 448.3V483.1M862.5 492.5V526.8M862.5 548.6V567.0M862.5 606.2V615.9M862.5 627.1V665.5M862.5 665.5V676.3M863.5 539.9V550.3M863.5 590.9V624.4M863.5 624.4V646.8M863.5 663.9V694.1M863.5 705.1V716.0M864.5 490.4V518.9M864.5 518.9V555.9M864.5 579.9V589.9M864.5 624.1V663.6M865.5 427.0V463.2M865.5 494.7V523.4M865.5 554.5V565.2M865.5 642.6V669.6M866.5 462.3V495.2M866.5 546.1V560.5M866.5 560.5V579.4M867.5 427.0V450.7M867.5 474.2V490.7M867.5 490.7V527.2M867.5 580.8V597.0M868.5 466.3V500.2M868.5 519.1V542.8M868.5 550.9V563.5M868.5 579.8V589.2M868.5 692.8V708.7M869.5 455.9V475.6M869.5 511.3V542.2M869.5 614.8V632.9M869.5 632.9V650.3M869.5 650.3V672.8M869.5 683.4V714.7M870.5 439.6V459.8M870.5 599.7V613.9M870.5 613.9V645.0M871.5 548.3V571.0M871.5 643.3V662.8M872.5 439.6V451.7M872.5 451.7V474.3M872.5 474.3V498.9M872.5 532.7V544.2M872.5 563.9V601.7M872.5 601.7V622.4M872.5 674.0V711.7M873.5 455.8V465.9M873.5 501.2V538.1M873.5 538.1V560.9M873.5 560.9V574.5M873.5 574.5V596.8M873.5 697.8V716.0M874.5 427.0V438.1M874.5 469.5V503.1M874.5 503.1V514.6M874.5 610.3V638.7M874.5 638.7V662.1M875.5 427.0V461.3M875.5 461.3V476.2M875.5 572.8V596.7M875.5 623.9V660.5M876.5 427.0V463.3M876.5 548.7V573.4M876.5 573.4V605.4M876.5 605.4V614.5M876.5 614.5V653.2M876.5 706.4V716.0M877.5 427.0V460.3M877.5 460.3V479.5M877.5 479.5V503.5M877.5 536.6V575.4M877.5 575.4V594.5M877.5 612.3V624.5M877.5 624.5V638.1M877.5 638.1V665.1M877.5 665.1V704.3M878.5 452.8V483.2M878.5 517.4V552.1M878.5 592.0V604.5M878.5 643.8V662.2M878.5 662.2V672.8M879.5 427.0V454.2M879.5 505.2V519.5M879.5 527.5V558.5M880.5 445.1V466.5M880.5 535.0V566.7M880.5 642.8V659.9M880.5 659.9V695.0M880.5 695.0V716.0M881.5 427.0V466.6M881.5 492.3V518.9M881.5 577.3V590.5M881.5 659.0V690.1M882.5 427.0V463.1M882.5 518.1V527.0M882.5 573.5V585.6M882.5 636.8V675.1M882.5 694.1V708.4M882.5 708.4V716.0M883.5 438.6V473.3M883.5 538.8V574.8M883.5 588.2V600.8M883.5 702.1V715.4M884.5 436.7V464.4M884.5 517.1V540.0M884.5 642.1V661.2M885.5 452.0V487.3M885.5 518.1V531.2M885.5 531.2V558.2M885.5 558.2V574.9M885.5 643.4V672.7M886.5 664.8V677.8" stroke="#aaaaaa" stroke-width="1.0" fill="none"/><path d="M863.5 694.1V705.1M864.5 456.3V490.4M864.5 663.6V694.6M865.5 685.7V704.5M866.5 506.3V546.1M866.5 614.9V632.5M866.5 647.3V680.8M866.5 714.0V716.0M867.5 450.7V474.2M867.5 597.0V613.3M867.5 613.3V638.4M867.5 669.4V696.4M868.5 427.0V466.3M868.5 500.2V519.1M868.5 589.2V627.2M868.5 627.2V665.3M868.5 678.5V692.8M868.5 708.7V716.0M869.5 427.0V455.9M869.5 565.1V587.5M869.5 714.7V716.0M870.5 427.0V439.6M870.5 459.8V496.2M870.5 496.2V514.0M870.5 514.0V526.4M870.5 553.3V583.7M870.5 583.7V599.7M870.5 645.0V675.3M870.5 675.3V705.3M870.5 705.3V716.0M871.5 501.8V525.2M871.5 525.2V548.3M871.5 712.8V716.0M872.5 498.9V532.7M872.5 544.2V563.9M872.5 622.4V652.9M873.5 465.9V501.2M873.5 596.8V632.6M873.5 632.6V672.3M873.5 672.3V697.8M874.5 438.1V469.5M874.5 565.7V594.2M874.5 594.2V610.3M874.5 681.9V714.1M874.5 714.1V716.0M875.5 476.2V500.1M875.5 528.8V559.8M875.5 660.5V669.6M875.5 669.6V691.7M875.5 691.7V716.0M876.5 492.6V517.8M876.5 653.2V668.1M877.5 503.5V536.6M877.5 704.3V716.0M878.5 427.0V436.8M878.5 436.8V452.8M878.5 552.1V592.0M878.5 672.8V687.0M878.5 687.0V698.3M879.5 471.3V505.2M879.5 519.5V527.5M879.5 589.7V616.8M879.5 647.2V682.2M880.5 427.0V445.1M880.5 466.5V500.5M880.5 500.5V522.3M880.5 522.3V535.0M880.5 610.3V642.8M881.5 518.9V553.2M881.5 590.5V600.9M881.5 600.9V616.6M881.5 690.1V716.0M882.5 463.1V496.4M882.5 496.4V507.6M882.5 507.6V518.1M882.5 527.0V540.5M882.5 540.5V573.5M882.5 594.5V620.6M882.5 675.1V694.1M883.5 473.3V504.5M883.5 504.5V538.8M883.5 574.8V588.2M883.5 632.8V647.8M883.5 647.8V656.0M883.5 692.8V702.1M884.5 427.0V436.7M884.5 464.4V488.9M884.5 488.9V500.4M884.5 500.4V517.1M884.5 577.6V592.4M884.5 623.3V642.1M884.5 696.8V708.9M885.5 427.0V436.4M885.5 487.3V518.1M885.5 574.9V614.6M885.5 614.6V643.4M885.5 672.7V707.4M886.5 457.1V482.4M886.5 482.4V498.6M886.5 498.6V510.0M886.5 529.5V556.1M886.5 556.1V572.1M886.5 640.6V664.8M886.5 677.8V705.3M886.5 705.3V716.0M887.5 427.0V440.2M887.5 477.3V499.6M887.5 560.2V576.4M887.5 576.4V602.8M887.5 602.8V641.2M887.5 676.7V688.2M887.5 714.0V716.0M888.5 427.0V450.2M888.5 479.3V500.8M888.5 586.4V624.6M888.5 624.6V633.6M888.5 709.2V716.0M889.5 566.0V599.7M889.5 617.7V627.5M889.5 664.6V685.6M890.5 480.7V493.0M890.5 526.4V545.3M890.5 571.9V611.0M890.5 611.0V643.0M890.5 708.5V716.0M891.5 427.0V440.3M891.5 619.9V657.8M891.5 692.9V709.7" stroke="#8d8d8d" stroke-width="1.0" fill="none"/><path d="M878.5 604.5V643.8M878.5 698.3V716.0M879.5 454.2V471.3M879.5 616.8V627.3M879.5 627.3V647.2M879.5 699.0V716.0M880.5 566.7V586.5M880.5 586.5V610.3M881.5 466.6V492.3M881.5 553.2V577.3M881.5 616.6V650.4M881.5 650.4V659.0M882.5 585.6V594.5M882.5 620.6V636.8M883.5 427.0V438.6M883.5 600.8V632.8M883.5 656.0V692.8M883.5 715.4V716.0M884.5 540.0V577.6M884.5 592.4V603.3M884.5 603.3V623.3M884.5 661.2V680.3M884.5 680.3V696.8M884.5 708.9V716.0M885.5 436.4V452.0M885.5 707.4V716.0M886.5 427.0V457.1M886.5 510.0V529.5M886.5 572.1V604.3M886.5 604.3V640.6M887.5 440.2V451.8M887.5 499.6V522.2M887.5 522.2V560.2M887.5 641.2V676.7M887.5 688.2V714.0M888.5 469.2V479.3M888.5 500.8V524.7M888.5 566.1V578.1M888.5 695.2V709.2M889.5 427.0V456.4M889.5 456.4V496.0M889.5 496.0V514.5M889.5 514.5V526.6M889.5 599.7V617.7M889.5 627.5V664.6M890.5 427.0V441.1M890.5 493.0V526.4M890.5 545.3V571.9M890.5 643.0V680.7M891.5 453.9V484.0M891.5 564.0V587.0M891.5 599.5V619.9M891.5 657.8V692.9M891.5 709.7V716.0M892.5 427.0V442.3M892.5 442.3V463.8M892.5 463.8V482.3M892.5 482.3V499.3M892.5 499.3V525.6M892.5 566.0V584.3M892.5 650.8V671.7" stroke="#717171" stroke-width="1.0" fill="none"/><path d="M887.5 451.8V477.3M888.5 450.2V469.2M888.5 524.7V550.3M888.5 550.3V566.1M888.5 578.1V586.4M888.5 633.6V657.9M888.5 657.9V695.2M889.5 526.6V566.0M889.5 685.6V716.0M890.5 441.1V471.7M890.5 471.7V480.7M890.5 680.7V708.5M891.5 440.3V453.9M891.5 484.0V503.4M891.5 587.0V599.5M892.5 607.2V638.2M892.5 638.2V650.8M892.5 671.7V703.9" stroke="#555555" stroke-width="1.0" fill="none"/><path d="M891.5 503.4V527.6M891.5 527.6V564.0M892.5 525.6V554.1M892.5 554.1V566.0M892.5 584.3V607.2M892.5 703.9V716.0" stroke="#383838" stroke-width="1.0" fill="none"/></g><line x1="814" y1="428" x2="814" y2="716" stroke="#333" stroke-width="1.62" /><line x1="893" y1="428" x2="893" y2="716" stroke="#222" stroke-width="2.25" /><path d="M814,429 Q814,424 820,424 H887 Q893,424 893,429" fill="none" stroke="#111" stroke-width="2.75" /><circle cx="820" cy="432" r="1.5" fill="#111" stroke="#111" stroke-width="0.00"/><circle cx="826" cy="432" r="1.5" fill="#111" stroke="#111" stroke-width="0.00"/><circle cx="832" cy="432" r="1.5" fill="#111" stroke="#111" stroke-width="0.00"/><circle cx="838" cy="432" r="1.5" fill="#111" stroke="#111" stroke-width="0.00"/><circle cx="844" cy="432" r="1.5" fill="#111" stroke="#111" stroke-width="0.00"/><circle cx="850" cy="432" r="1.5" fill="#111" stroke="#111" stroke-width="0.00"/><circle cx="856" cy="432" r="1.5" fill="#111" stroke="#111" stroke-width="0.00"/><circle cx="862" cy="432" r="1.5" fill="#111" stroke="#111" stroke-width="0.00"/><circle cx="868" cy="432" r="1.5" fill="#111" stroke="#111" stroke-width="0.00"/><circle cx="874" cy="432" r="1.5" fill="#111" stroke="#111" stroke-width="0.00"/><circle cx="880" cy="432" r="1.5" fill="#111" stroke="#111" stroke-width="0.00"/><path d="M850.6,424 V415 H856.6 V424 Z" fill="#444"/><ellipse cx="853.6" cy="412" rx="12" ry="5" fill="#111" /><rect x="848.6" y="403" width="10" height="8" fill="#555"  /><ellipse cx="853.6" cy="401.5" rx="8" ry="7" fill="#ccc" stroke="#111" stroke-width="1.8"/><ellipse cx="853.6" cy="405" rx="9" ry="2.2" fill="#333" /><rect x="918" y="424" width="72" height="292" fill="#fdfdfd"  /><g><path d="M941.5 427.0V453.6M941.5 525.3V555.1M941.5 594.8V609.0M941.5 634.1V672.2M941.5 672.2V684.6M942.5 470.2V484.2M942.5 512.6V525.8M942.5 536.4V563.6M942.5 619.6V627.6M942.5 627.6V647.6M942.5 686.1V712.3M943.5 466.6V480.0M943.5 480.0V502.1M943.5 537.4V566.8M943.5 566.8V604.7M943.5 616.1V642.6M943.5 663.2V696.8M943.5 696.8V709.3M944.5 427.0V435.9M944.5 493.9V512.1M944.5 562.2V593.6M944.5 593.6V626.9M944.5 675.9V714.0M944.5 714.0V716.0M945.5 481.2V495.9M945.5 514.1V537.2M945.5 537.2V563.0M945.5 563.0V598.1M945.5 622.5V656.2M945.5 656.2V686.7M945.5 686.7V716.0M946.5 460.7V481.5M946.5 530.7V548.7M946.5 548.7V560.6M946.5 560.6V590.4M946.5 601.7V632.3M947.5 449.9V481.4M947.5 624.0V650.1M947.5 650.1V670.6M947.5 693.1V702.4M948.5 477.4V500.6M948.5 605.7V639.5M948.5 713.8V716.0M949.5 441.9V463.0M949.5 508.8V545.8M949.5 599.3V638.2M949.5 638.2V673.8M949.5 673.8V696.4M949.5 706.5V716.0M950.5 449.6V480.6M950.5 593.7V614.5M950.5 648.1V657.7M950.5 676.5V710.0M951.5 594.3V613.3M951.5 666.0V685.3M952.5 451.2V466.7M952.5 542.9V579.0M952.5 620.7V654.7M952.5 654.7V682.1M952.5 682.1V713.9M952.5 713.9V716.0M953.5 435.9V467.3M954.5 484.4V511.3M954.5 563.2V574.1M955.5 457.5V466.5M955.5 466.5V494.9M955.5 565.6V576.5M955.5 629.6V637.6M955.5 637.6V665.2M956.5 443.6V480.0M956.5 710.8V716.0M957.5 537.6V550.5M957.5 680.0V714.8M958.5 487.5V512.6M958.5 621.5V644.4M959.5 588.0V610.7M959.5 610.7V638.5" stroke="#e2e2e2" stroke-width="1.0" fill="none"/><path d="M941.5 453.6V482.1M941.5 555.1V594.8M941.5 609.0V634.1M941.5 684.6V700.2M941.5 700.2V716.0M942.5 427.0V438.8M942.5 438.8V470.2M942.5 484.2V512.6M942.5 599.3V619.6M943.5 502.1V537.4M943.5 604.7V616.1M943.5 709.3V716.0M944.5 435.9V445.8M944.5 445.8V471.0M944.5 471.0V493.9M944.5 548.2V562.2M944.5 626.9V640.4M944.5 640.4V675.9M945.5 464.7V481.2M945.5 495.9V505.0M945.5 505.0V514.1M946.5 427.0V437.2M946.5 437.2V460.7M946.5 481.5V513.3M946.5 590.4V601.7M946.5 651.8V687.9M947.5 427.0V449.9M947.5 481.4V520.5M947.5 520.5V544.8M947.5 574.6V587.8M947.5 587.8V624.0M947.5 670.6V693.1M948.5 427.0V443.2M948.5 500.6V528.7M948.5 528.7V550.5M948.5 550.5V568.5M948.5 568.5V605.7M948.5 639.5V661.1M948.5 661.1V698.1M949.5 427.0V441.9M949.5 463.0V495.4M949.5 545.8V579.9M949.5 696.4V706.5M950.5 427.0V449.6M950.5 509.5V544.8M950.5 560.3V593.7M950.5 657.7V676.5M951.5 427.0V446.8M951.5 567.3V576.4M951.5 576.4V594.3M951.5 711.4V716.0M952.5 466.7V480.9M952.5 513.7V528.0M952.5 528.0V542.9M952.5 607.5V620.7M953.5 467.3V490.8M953.5 509.7V530.9M953.5 604.0V636.3M954.5 427.0V448.7M954.5 541.8V563.2M954.5 574.1V608.8M954.5 672.2V703.2M955.5 494.9V525.3M955.5 535.7V544.6M955.5 576.5V591.3M955.5 665.2V685.7M956.5 574.0V593.2M956.5 619.8V633.8M956.5 664.3V682.0M956.5 682.0V710.8M957.5 447.6V482.5M957.5 504.9V537.6M957.5 550.5V586.3M957.5 613.6V628.1M957.5 628.1V644.9M957.5 644.9V680.0M957.5 714.8V716.0M958.5 427.0V442.8M958.5 474.2V487.5M958.5 541.0V550.3M958.5 550.3V587.0M958.5 587.0V596.1M958.5 672.7V696.9M958.5 696.9V708.8M959.5 427.0V459.1M959.5 459.1V489.1M959.5 489.1V517.7M959.5 638.5V675.5M959.5 675.5V699.7M959.5 699.7V716.0M960.5 427.0V438.3M960.5 484.8V505.2M960.5 518.3V528.0M960.5 563.6V601.6M960.5 631.0V654.4M960.5 679.7V704.2M961.5 427.0V450.1M961.5 485.1V494.8M961.5 528.7V564.7M961.5 564.7V604.4M961.5 604.4V639.0M961.5 654.1V677.1M961.5 692.0V709.7M962.5 457.6V474.8M962.5 474.8V502.1M962.5 502.1V531.8M962.5 531.8V566.0M962.5 566.0V601.9M962.5 675.8V710.2M962.5 710.2V716.0M963.5 427.0V441.2M963.5 560.6V570.6M963.5 623.9V633.3M963.5 633.3V656.2M963.5 677.7V703.4M964.5 427.0V443.1M964.5 443.1V465.4M964.5 512.6V536.4M964.5 545.6V584.7M964.5 672.8V682.1M965.5 451.6V487.2M965.5 682.0V709.7M966.5 427.0V466.2M966.5 522.6V555.1M966.5 555.1V582.3M966.5 637.4V658.6M966.5 679.1V712.8M966.5 712.8V716.0M967.5 427.0V450.0M967.5 493.4V533.4M967.5 548.6V586.4M967.5 703.7V716.0M968.5 448.1V468.6M968.5 518.4V539.2M968.5 539.2V555.7M968.5 555.7V582.2M968.5 582.2V619.9M969.5 427.0V450.0M969.5 692.9V716.0M970.5 427.0V445.4M970.5 535.8V549.1M970.5 549.1V580.0M970.5 580.0V607.5M970.5 705.8V716.0M971.5 504.8V533.8M971.5 599.1V609.8M971.5 609.8V640.6M971.5 640.6V679.7M972.5 427.0V455.3M972.5 519.9V529.8M972.5 617.1V635.8M973.5 501.4V517.8M973.5 573.5V595.9M973.5 607.2V634.1M975.5 529.1V560.9M975.5 633.8V672.7" stroke="#c6c6c6" stroke-width="1.0" fill="none"/><path d="M942.5 563.6V599.3M942.5 712.3V716.0M943.5 427.0V466.6M943.5 642.6V663.2M944.5 512.1V548.2M945.5 427.0V464.7M945.5 598.1V622.5M946.5 513.3V530.7M946.5 632.3V651.8M946.5 687.9V716.0M947.5 544.8V561.9M947.5 561.9V574.6M947.5 702.4V716.0M948.5 443.2V477.4M948.5 698.1V713.8M949.5 495.4V508.8M949.5 579.9V599.3M950.5 480.6V509.5M950.5 544.8V560.3M950.5 614.5V648.1M950.5 710.0V716.0M951.5 446.8V459.8M951.5 459.8V495.7M951.5 495.7V506.5M951.5 506.5V535.0M951.5 535.0V567.3M951.5 613.3V638.9M951.5 638.9V666.0M951.5 685.3V711.4M952.5 427.0V451.2M952.5 480.9V513.7M952.5 579.0V607.5M953.5 427.0V435.9M953.5 490.8V509.7M953.5 530.9V567.8M953.5 567.8V587.8M953.5 587.8V604.0M953.5 636.3V674.0M953.5 674.0V686.2M953.5 686.2V694.8M953.5 694.8V716.0M954.5 448.7V484.4M954.5 511.3V541.8M954.5 608.8V635.6M954.5 635.6V672.2M954.5 703.2V716.0M955.5 427.0V457.5M955.5 525.3V535.7M955.5 544.6V565.6M955.5 591.3V629.6M955.5 685.7V700.2M955.5 700.2V716.0M956.5 480.0V508.8M956.5 508.8V536.2M956.5 536.2V549.6M956.5 549.6V574.0M956.5 593.2V619.8M956.5 633.8V664.3M957.5 427.0V447.6M957.5 482.5V494.2M957.5 586.3V613.6M958.5 512.6V541.0M958.5 596.1V621.5M958.5 644.4V672.7M958.5 708.8V716.0M959.5 517.7V549.3M960.5 438.3V470.7M960.5 470.7V484.8M960.5 505.2V518.3M960.5 528.0V563.6M960.5 601.6V631.0M960.5 654.4V679.7M960.5 704.2V716.0M961.5 450.1V485.1M961.5 677.1V692.0M961.5 709.7V716.0M962.5 427.0V457.6M962.5 639.5V675.8M963.5 441.2V470.0M963.5 507.0V529.5M963.5 529.5V544.9M963.5 544.9V560.6M963.5 570.6V592.6M963.5 656.2V677.7M964.5 465.4V494.4M964.5 494.4V512.6M964.5 584.7V598.1M964.5 598.1V615.3M964.5 682.1V716.0M965.5 427.0V451.6M965.5 487.2V522.8M965.5 540.0V558.0M965.5 558.0V583.6M965.5 619.1V650.0M965.5 650.0V682.0M965.5 709.7V716.0M966.5 484.1V522.6M966.5 614.0V637.4M967.5 450.0V458.4M967.5 458.4V493.4M967.5 586.4V604.9M967.5 604.9V630.8M967.5 666.1V691.6M967.5 691.6V703.7M968.5 619.9V653.1M968.5 653.1V668.0M969.5 450.0V474.8M969.5 528.8V566.4M969.5 620.4V631.6M969.5 631.6V653.7M970.5 445.4V465.2M970.5 465.2V504.4M971.5 533.8V560.2M972.5 491.8V519.9M972.5 529.8V547.2M972.5 584.0V617.1M972.5 665.0V703.1M972.5 703.1V716.0M973.5 427.0V435.0M973.5 435.0V473.1M973.5 517.8V539.3M973.5 595.9V607.2M973.5 634.1V646.6M973.5 646.6V662.5M973.5 662.5V698.1M973.5 698.1V706.9M973.5 706.9V716.0M974.5 502.6V530.4M974.5 530.4V546.8M974.5 560.9V595.3M974.5 595.3V607.8M974.5 607.8V632.2M974.5 632.2V667.9M974.5 677.3V716.0M975.5 458.6V477.5M975.5 477.5V503.4M975.5 560.9V587.2M975.5 672.7V687.1M976.5 427.0V450.8M976.5 516.8V556.1M976.5 556.1V591.1M976.5 591.1V607.2M976.5 607.2V630.3M976.5 630.3V663.8M976.5 663.8V678.7M976.5 710.1V716.0M977.5 529.0V546.3M977.5 610.3V633.0M977.5 633.0V647.5M977.5 663.5V687.3M978.5 460.7V477.1M978.5 490.3V516.7M978.5 612.4V637.1M978.5 672.8V704.1M978.5 704.1V716.0M979.5 541.2V561.8M979.5 585.8V620.3M979.5 620.3V657.7M980.5 427.0V441.2M980.5 441.2V463.4M980.5 463.4V482.3M980.5 506.5V537.6M981.5 561.9V588.3M981.5 588.3V627.1M982.5 648.6V665.1" stroke="#aaaaaa" stroke-width="1.0" fill="none"/><path d="M956.5 427.0V443.6M957.5 494.2V504.9M958.5 442.8V474.2M959.5 549.3V566.9M959.5 566.9V588.0M961.5 494.8V528.7M961.5 639.0V654.1M962.5 601.9V639.5M963.5 470.0V507.0M963.5 592.6V614.5M963.5 614.5V623.9M963.5 703.4V716.0M964.5 536.4V545.6M964.5 615.3V649.8M964.5 649.8V659.9M964.5 659.9V672.8M965.5 522.8V540.0M965.5 583.6V619.1M966.5 466.2V484.1M966.5 582.3V614.0M966.5 658.6V679.1M967.5 533.4V548.6M967.5 630.8V666.1M968.5 427.0V437.9M968.5 437.9V448.1M968.5 468.6V486.8M968.5 486.8V518.4M968.5 668.0V683.6M968.5 683.6V711.8M968.5 711.8V716.0M969.5 474.8V496.0M969.5 496.0V528.8M969.5 566.4V599.7M969.5 599.7V620.4M969.5 653.7V692.9M970.5 504.4V535.8M970.5 607.5V616.1M970.5 616.1V636.4M970.5 636.4V667.9M970.5 667.9V705.8M971.5 427.0V466.2M971.5 466.2V504.8M971.5 560.2V599.1M971.5 679.7V705.0M971.5 705.0V716.0M972.5 455.3V491.8M972.5 547.2V584.0M972.5 635.8V665.0M973.5 473.1V501.4M973.5 539.3V573.5M974.5 427.0V438.6M974.5 438.6V447.1M974.5 447.1V475.0M974.5 546.8V560.9M974.5 667.9V677.3M975.5 427.0V458.6M975.5 503.4V529.1M975.5 587.2V599.6M975.5 599.6V613.0M975.5 613.0V633.8M975.5 687.1V705.2M975.5 705.2V716.0M976.5 450.8V482.0M976.5 482.0V516.8M976.5 678.7V710.1M977.5 427.0V460.3M977.5 460.3V495.4M977.5 495.4V529.0M977.5 563.1V594.3M977.5 594.3V610.3M977.5 647.5V663.5M977.5 687.3V712.5M977.5 712.5V716.0M978.5 477.1V490.3M978.5 516.7V554.8M978.5 554.8V586.8M978.5 586.8V612.4M979.5 427.0V454.1M979.5 493.0V520.0M979.5 520.0V541.2M979.5 657.7V668.3M979.5 668.3V694.4M979.5 694.4V716.0M980.5 573.2V606.4M980.5 606.4V631.5M981.5 427.0V449.8M981.5 449.8V475.8M981.5 513.5V524.5M981.5 627.1V636.5M981.5 636.5V659.0M981.5 667.7V684.4M981.5 684.4V705.7M981.5 705.7V714.8M981.5 714.8V716.0M982.5 498.3V513.9M982.5 523.3V538.2M982.5 562.6V579.0M982.5 579.0V589.4M982.5 589.4V623.8M982.5 623.8V648.6M982.5 665.1V704.0M982.5 704.0V716.0M983.5 461.7V490.8M983.5 490.8V509.8M983.5 620.9V641.0M983.5 674.5V697.4M983.5 697.4V716.0M984.5 531.2V557.0M984.5 581.5V595.6M984.5 595.6V604.0M984.5 656.7V675.0M984.5 675.0V699.5M984.5 699.5V716.0M985.5 427.0V446.4M985.5 446.4V460.5M985.5 484.8V519.7M985.5 607.0V616.7M985.5 646.5V681.5M986.5 563.8V595.9M986.5 637.7V664.7M986.5 681.5V694.2M986.5 694.2V716.0M987.5 506.1V545.3M987.5 545.3V559.2M987.5 559.2V593.9M987.5 668.8V694.4M988.5 496.3V527.2M988.5 527.2V544.0M988.5 664.8V673.4M988.5 673.4V702.2" stroke="#8d8d8d" stroke-width="1.0" fill="none"/><path d="M974.5 475.0V502.6M977.5 546.3V563.1M978.5 427.0V445.1M978.5 445.1V460.7M978.5 637.1V672.8M979.5 454.1V474.6M979.5 474.6V493.0M979.5 561.8V585.8M980.5 482.3V506.5M980.5 537.6V573.2M980.5 631.5V656.3M980.5 656.3V665.7M980.5 665.7V698.8M980.5 698.8V716.0M981.5 475.8V513.5M981.5 524.5V561.9M981.5 659.0V667.7M982.5 427.0V436.2M982.5 436.2V475.2M982.5 475.2V498.3M982.5 513.9V523.3M982.5 538.2V562.6M983.5 509.8V525.0M983.5 525.0V557.2M983.5 557.2V596.2M983.5 596.2V610.5M983.5 610.5V620.9M983.5 641.0V674.5M984.5 495.9V511.0M984.5 511.0V531.2M984.5 557.0V581.5M984.5 604.0V629.0M985.5 460.5V484.8M985.5 519.7V532.9M985.5 532.9V554.0M985.5 554.0V569.3M985.5 569.3V594.1M985.5 594.1V607.0M985.5 616.7V633.9M985.5 633.9V646.5M985.5 681.5V690.9M985.5 690.9V716.0M986.5 438.1V475.5M986.5 500.3V533.0M986.5 595.9V618.1M986.5 618.1V637.7M987.5 459.8V472.3M987.5 472.3V506.1M987.5 694.4V714.4M987.5 714.4V716.0M988.5 462.0V487.5M988.5 487.5V496.3M988.5 648.7V664.8M989.5 444.9V458.7M989.5 458.7V475.0M989.5 475.0V505.4M989.5 505.4V535.5M989.5 535.5V549.5M989.5 549.5V584.1M989.5 584.1V595.3M989.5 595.3V622.1M989.5 622.1V652.2M989.5 670.8V698.5" stroke="#717171" stroke-width="1.0" fill="none"/><path d="M983.5 427.0V461.7M984.5 427.0V458.7M984.5 458.7V495.9M984.5 629.0V656.7M986.5 427.0V438.1M986.5 475.5V500.3M986.5 533.0V563.8M986.5 664.7V681.5M987.5 427.0V451.0M987.5 451.0V459.8M987.5 593.9V622.3M987.5 622.3V633.0M987.5 633.0V668.8M988.5 427.0V462.0M988.5 580.5V613.1M988.5 702.2V716.0M989.5 427.0V444.9" stroke="#555555" stroke-width="1.0" fill="none"/><path d="M988.5 544.0V580.5M988.5 613.1V648.7M989.5 652.2V670.8M989.5 698.5V716.0" stroke="#383838" stroke-width="1.0" fill="none"/></g><line x1="918" y1="428" x2="918" y2="716" stroke="#333" stroke-width="1.62" /><line x1="990" y1="428" x2="990" y2="716" stroke="#222" stroke-width="2.25" /><path d="M918,429 Q918,424 924,424 H984 Q990,424 990,429" fill="none" stroke="#111" stroke-width="2.75" /><circle cx="924" cy="432" r="1.5" fill="#111" stroke="#111" stroke-width="0.00"/><circle cx="930" cy="432" r="1.5" fill="#111" stroke="#111" stroke-width="0.00"/><circle cx="936" cy="432" r="1.5" fill="#111" stroke="#111" stroke-width="0.00"/><circle cx="942" cy="432" r="1.5" fill="#111" stroke="#111" stroke-width="0.00"/><circle cx="948" cy="432" r="1.5" fill="#111" stroke="#111" stroke-width="0.00"/><circle cx="954" cy="432" r="1.5" fill="#111" stroke="#111" stroke-width="0.00"/><circle cx="960" cy="432" r="1.5" fill="#111" stroke="#111" stroke-width="0.00"/><circle cx="966" cy="432" r="1.5" fill="#111" stroke="#111" stroke-width="0.00"/><circle cx="972" cy="432" r="1.5" fill="#111" stroke="#111" stroke-width="0.00"/><circle cx="978" cy="432" r="1.5" fill="#111" stroke="#111" stroke-width="0.00"/><path d="M949,424 V415 H955 V424 Z" fill="#444"/><ellipse cx="952" cy="412" rx="12" ry="5" fill="#111" /><rect x="947" y="403" width="10" height="8" fill="#555"  /><ellipse cx="952" cy="401.5" rx="8" ry="7" fill="#ccc" stroke="#111" stroke-width="1.8"/><ellipse cx="952" cy="405" rx="9" ry="2.2" fill="#333" /><rect x="1007" y="424" width="78" height="292" fill="#fdfdfd"  /><g><path d="M1046.5 427.0V447.4M1046.5 447.4V464.1M1046.5 491.0V508.1M1046.5 528.2V547.4M1046.5 564.5V600.9M1046.5 600.9V616.4M1046.5 656.3V674.5M1046.5 674.5V709.7M1047.5 440.7V474.6M1047.5 474.6V504.6M1047.5 504.6V535.1M1047.5 535.1V569.2M1047.5 569.2V592.0M1047.5 603.6V635.9M1047.5 635.9V646.6M1047.5 646.6V684.1M1047.5 714.4V716.0M1048.5 427.0V441.6M1048.5 502.5V529.8M1048.5 575.5V605.1M1048.5 605.1V621.7M1048.5 621.7V657.4M1048.5 692.2V716.0M1049.5 505.3V516.0M1049.5 601.7V611.8M1049.5 623.6V644.3M1049.5 644.3V671.6M1050.5 480.0V490.0M1050.5 558.9V585.1M1050.5 598.9V607.9M1050.5 645.5V663.7M1050.5 663.7V680.7M1051.5 463.9V492.8M1051.5 502.8V518.2M1051.5 552.7V588.1M1051.5 588.1V596.9M1051.5 626.9V642.2M1051.5 677.5V716.0M1052.5 427.0V457.6M1052.5 457.6V485.0M1052.5 522.1V537.4M1052.5 537.4V571.0M1052.5 571.0V604.3M1053.5 601.8V617.6M1053.5 639.2V678.9M1054.5 577.5V603.3M1054.5 638.5V647.1M1055.5 461.6V499.0M1055.5 634.4V646.8M1055.5 673.8V707.1M1056.5 427.0V460.8M1056.5 517.5V543.1M1056.5 543.1V566.7M1056.5 600.3V609.8M1056.5 618.6V644.8M1056.5 644.8V667.9M1057.5 457.5V490.2M1057.5 490.2V523.6M1057.5 577.2V612.6M1057.5 640.6V679.2M1057.5 679.2V693.0M1057.5 711.5V716.0M1058.5 427.0V461.0M1058.5 461.0V496.2M1058.5 600.7V622.8M1058.5 622.8V662.0M1058.5 695.6V716.0M1059.5 427.0V440.0M1059.5 455.7V489.2M1059.5 489.2V510.3M1059.5 510.3V520.0M1059.5 546.2V563.6M1059.5 628.6V651.7M1059.5 651.7V668.3M1060.5 460.1V480.2M1060.5 553.2V586.1M1061.5 632.1V658.7M1062.5 427.0V459.0M1062.5 530.4V560.2M1062.5 560.2V580.4M1062.5 580.4V597.9M1062.5 613.2V645.6M1062.5 645.6V659.6M1063.5 456.2V468.5M1063.5 517.1V534.6M1063.5 565.5V603.6M1063.5 680.2V703.0M1063.5 703.0V716.0M1064.5 528.0V538.7M1064.5 587.6V619.3M1064.5 619.3V640.5M1066.5 427.0V442.3M1066.5 475.9V502.5M1066.5 571.0V584.8M1067.5 503.6V535.0M1067.5 563.1V595.4M1067.5 595.4V621.4M1067.5 711.5V716.0M1069.5 627.8V665.5M1069.5 665.5V683.8M1070.5 465.7V476.7M1070.5 516.0V525.5M1070.5 525.5V538.5M1071.5 465.7V499.7M1071.5 499.7V524.2M1072.5 499.9V529.8M1072.5 594.3V606.6M1073.5 458.7V484.4M1073.5 561.4V575.7M1073.5 575.7V595.6M1074.5 630.6V654.7M1075.5 458.8V495.2" stroke="#c6c6c6" stroke-width="1.0" fill="none"/><path d="M1046.5 464.1V491.0M1046.5 508.1V528.2M1046.5 616.4V656.3M1046.5 709.7V716.0M1047.5 427.0V440.7M1047.5 592.0V603.6M1047.5 684.1V714.4M1048.5 464.5V480.5M1048.5 480.5V502.5M1048.5 538.8V567.0M1048.5 567.0V575.5M1049.5 427.0V441.7M1049.5 465.9V481.8M1049.5 481.8V505.3M1049.5 516.0V543.5M1049.5 580.5V601.7M1049.5 611.8V623.6M1049.5 671.6V694.0M1050.5 427.0V451.3M1050.5 490.0V520.2M1050.5 520.2V558.9M1050.5 585.1V598.9M1051.5 596.9V626.9M1051.5 642.2V677.5M1052.5 635.8V667.6M1052.5 667.6V696.1M1052.5 707.4V716.0M1053.5 475.1V487.5M1053.5 487.5V495.5M1053.5 495.5V506.0M1053.5 506.0V543.6M1053.5 543.6V552.2M1053.5 617.6V639.2M1054.5 427.0V464.1M1054.5 476.4V515.0M1054.5 515.0V551.7M1054.5 612.1V638.5M1054.5 658.6V667.9M1054.5 698.8V716.0M1055.5 444.4V461.6M1055.5 499.0V521.9M1055.5 521.9V536.4M1055.5 597.3V634.4M1055.5 707.1V716.0M1056.5 483.3V501.5M1056.5 501.5V517.5M1056.5 609.8V618.6M1056.5 705.6V716.0M1057.5 427.0V445.0M1057.5 559.7V577.2M1059.5 520.0V546.2M1059.5 563.6V594.5M1060.5 522.8V553.2M1060.5 586.1V597.2M1060.5 674.8V710.9M1061.5 459.3V474.2M1061.5 474.2V505.5M1061.5 671.1V680.7M1061.5 680.7V715.4" stroke="#e2e2e2" stroke-width="1.0" fill="none"/><path d="M1048.5 441.6V464.5M1048.5 529.8V538.8M1048.5 657.4V692.2M1049.5 441.7V465.9M1049.5 543.5V580.5M1049.5 694.0V716.0M1050.5 451.3V480.0M1050.5 607.9V645.5M1050.5 680.7V702.8M1050.5 702.8V716.0M1051.5 427.0V463.9M1051.5 492.8V502.8M1051.5 518.2V552.7M1052.5 485.0V504.0M1052.5 504.0V522.1M1052.5 604.3V622.8M1052.5 622.8V635.8M1052.5 696.1V707.4M1053.5 427.0V453.0M1053.5 453.0V475.1M1053.5 552.2V575.3M1053.5 575.3V601.8M1053.5 678.9V716.0M1054.5 464.1V476.4M1054.5 551.7V577.5M1054.5 603.3V612.1M1054.5 647.1V658.6M1054.5 667.9V698.8M1055.5 427.0V444.4M1055.5 536.4V562.2M1055.5 562.2V570.8M1055.5 570.8V597.3M1055.5 646.8V673.8M1056.5 460.8V483.3M1056.5 566.7V600.3M1056.5 667.9V705.6M1057.5 445.0V457.5M1057.5 523.6V532.1M1057.5 532.1V559.7M1057.5 612.6V640.6M1057.5 693.0V711.5M1058.5 496.2V535.8M1058.5 535.8V556.5M1058.5 556.5V568.4M1058.5 568.4V600.7M1058.5 662.0V695.6M1059.5 594.5V628.6M1059.5 668.3V685.2M1059.5 685.2V716.0M1060.5 427.0V460.1M1060.5 480.2V510.5M1060.5 510.5V522.8M1060.5 597.2V637.1M1060.5 710.9V716.0M1061.5 427.0V459.3M1061.5 505.5V531.7M1061.5 531.7V557.5M1061.5 557.5V595.0M1061.5 595.0V632.1M1061.5 658.7V671.1M1061.5 715.4V716.0M1062.5 459.0V485.7M1062.5 485.7V521.1M1062.5 521.1V530.4M1062.5 597.9V613.2M1062.5 659.6V674.1M1062.5 674.1V713.1M1062.5 713.1V716.0M1063.5 468.5V490.4M1063.5 490.4V517.1M1063.5 534.6V565.5M1063.5 657.4V680.2M1064.5 453.6V482.0M1064.5 482.0V508.6M1064.5 508.6V528.0M1064.5 563.5V587.6M1064.5 651.4V675.9M1064.5 675.9V697.2M1064.5 697.2V716.0M1065.5 427.0V450.6M1065.5 450.6V472.0M1065.5 509.3V544.9M1065.5 544.9V577.5M1065.5 577.5V610.7M1065.5 624.0V647.4M1065.5 647.4V675.1M1065.5 675.1V701.5M1066.5 442.3V475.9M1066.5 540.2V571.0M1066.5 584.8V611.0M1066.5 611.0V625.7M1066.5 625.7V653.5M1066.5 653.5V667.2M1066.5 667.2V702.0M1066.5 702.0V716.0M1067.5 427.0V465.4M1067.5 465.4V503.6M1067.5 621.4V634.5M1067.5 634.5V661.6M1068.5 484.8V519.8M1068.5 539.6V574.5M1068.5 626.0V656.8M1068.5 695.3V709.2M1068.5 709.2V716.0M1069.5 427.0V463.6M1069.5 463.6V484.6M1069.5 499.5V513.5M1069.5 513.5V534.8M1069.5 534.8V549.3M1069.5 606.8V627.8M1070.5 435.2V465.7M1070.5 476.7V516.0M1070.5 598.6V625.7M1070.5 625.7V649.4M1070.5 657.8V672.2M1070.5 672.2V695.9M1070.5 695.9V716.0M1071.5 427.0V465.7M1071.5 556.3V589.4M1071.5 589.4V598.4M1071.5 633.3V663.1M1071.5 663.1V674.8M1071.5 674.8V690.5M1071.5 690.5V700.4M1071.5 700.4V716.0M1072.5 639.6V649.0M1072.5 649.0V683.6M1072.5 683.6V709.0M1073.5 427.0V435.4M1073.5 484.4V504.0M1073.5 504.0V531.7M1073.5 595.6V634.4M1073.5 634.4V657.2M1074.5 459.4V479.3M1074.5 526.0V537.8M1074.5 592.3V601.7M1074.5 613.0V630.6M1074.5 679.8V711.4M1075.5 427.0V458.8M1075.5 495.2V523.4M1075.5 535.0V554.6M1075.5 648.4V683.0M1075.5 683.0V697.2M1076.5 453.0V463.9M1076.5 463.9V501.5M1076.5 544.7V564.7M1076.5 703.8V716.0M1077.5 673.0V707.0M1078.5 427.0V458.8M1078.5 668.4V684.2M1078.5 710.7V716.0M1079.5 427.0V440.7M1080.5 450.0V475.4M1080.5 529.2V547.2" stroke="#aaaaaa" stroke-width="1.0" fill="none"/><path d="M1059.5 440.0V455.7M1060.5 637.1V674.8M1063.5 427.0V456.2M1063.5 603.6V623.0M1063.5 623.0V657.4M1064.5 427.0V453.6M1064.5 538.7V563.5M1064.5 640.5V651.4M1065.5 472.0V509.3M1065.5 610.7V624.0M1065.5 701.5V716.0M1066.5 502.5V540.2M1067.5 535.0V563.1M1067.5 661.6V694.8M1067.5 694.8V711.5M1068.5 427.0V448.9M1068.5 448.9V484.8M1068.5 519.8V539.6M1068.5 574.5V600.5M1068.5 600.5V626.0M1068.5 656.8V695.3M1069.5 484.6V499.5M1069.5 549.3V583.5M1069.5 583.5V606.8M1069.5 683.8V716.0M1070.5 427.0V435.2M1070.5 538.5V551.9M1070.5 551.9V562.5M1070.5 562.5V585.8M1070.5 585.8V598.6M1070.5 649.4V657.8M1071.5 524.2V556.3M1071.5 598.4V633.3M1072.5 427.0V460.4M1072.5 460.4V499.9M1072.5 529.8V558.5M1072.5 558.5V594.3M1072.5 606.6V639.6M1072.5 709.0V716.0M1073.5 435.4V458.7M1073.5 694.7V714.9M1073.5 714.9V716.0M1074.5 427.0V447.2M1074.5 447.2V459.4M1074.5 555.7V592.3M1074.5 711.4V716.0M1075.5 523.4V535.0M1075.5 554.6V584.4M1075.5 584.4V620.9M1075.5 635.9V648.4M1075.5 697.2V716.0M1076.5 501.5V524.9M1076.5 524.9V544.7M1076.5 606.9V636.6M1076.5 682.9V703.8M1077.5 427.0V439.0M1077.5 439.0V459.2M1077.5 512.9V536.1M1077.5 536.1V560.2M1077.5 560.2V593.6M1077.5 593.6V629.5M1077.5 629.5V639.6M1077.5 707.0V716.0M1078.5 458.8V472.4M1078.5 541.6V570.9M1078.5 570.9V589.5M1078.5 622.9V650.5M1079.5 440.7V460.9M1079.5 460.9V500.5M1079.5 589.3V629.0M1079.5 668.6V688.1M1079.5 688.1V710.8M1079.5 710.8V716.0M1080.5 427.0V438.7M1080.5 438.7V450.0M1080.5 520.5V529.2M1080.5 547.2V555.4M1080.5 576.0V605.8M1080.5 605.8V629.2M1080.5 629.2V641.9M1081.5 427.0V435.7M1081.5 435.7V452.5M1081.5 549.1V575.3M1081.5 602.3V630.3M1081.5 630.3V649.9M1081.5 659.5V691.4M1082.5 471.2V508.4M1082.5 595.0V618.2M1082.5 680.5V689.8M1083.5 560.9V568.9M1083.5 602.2V611.4M1083.5 661.2V700.9" stroke="#8d8d8d" stroke-width="1.0" fill="none"/><path d="M1073.5 531.7V546.7M1073.5 546.7V561.4M1073.5 657.2V694.7M1074.5 479.3V511.9M1074.5 511.9V526.0M1074.5 537.8V555.7M1074.5 601.7V613.0M1074.5 654.7V679.8M1075.5 620.9V635.9M1076.5 427.0V453.0M1076.5 564.7V573.2M1076.5 573.2V606.9M1076.5 636.6V662.8M1076.5 662.8V682.9M1077.5 459.2V473.2M1077.5 473.2V512.9M1077.5 639.6V673.0M1078.5 472.4V490.2M1078.5 490.2V521.9M1078.5 521.9V541.6M1078.5 589.5V622.9M1078.5 650.5V668.4M1078.5 684.2V710.7M1079.5 500.5V535.1M1079.5 569.9V589.3M1079.5 629.0V668.6M1080.5 506.7V520.5M1080.5 555.4V576.0M1080.5 661.7V700.9M1081.5 526.0V549.1M1081.5 649.9V659.5M1081.5 709.0V716.0M1082.5 427.0V456.0M1082.5 456.0V471.2M1082.5 508.4V529.6M1082.5 556.3V595.0M1083.5 427.0V456.4M1083.5 456.4V489.0M1083.5 547.8V560.9M1083.5 579.8V602.2M1083.5 611.4V628.5M1083.5 628.5V661.2M1083.5 700.9V716.0M1084.5 470.3V495.8M1084.5 495.8V516.2M1084.5 551.2V581.8M1084.5 581.8V594.9M1084.5 650.0V671.3M1084.5 707.9V716.0" stroke="#717171" stroke-width="1.0" fill="none"/><path d="M1079.5 535.1V569.9M1080.5 475.4V506.7M1080.5 641.9V661.7M1080.5 700.9V716.0M1081.5 452.5V486.0M1081.5 486.0V507.1M1081.5 507.1V526.0M1081.5 575.3V602.3M1081.5 691.4V709.0M1082.5 529.6V556.3M1082.5 618.2V645.4M1082.5 645.4V680.5M1082.5 689.8V716.0M1083.5 489.0V526.7M1083.5 526.7V547.8M1083.5 568.9V579.8M1084.5 427.0V456.4M1084.5 456.4V470.3M1084.5 516.2V551.2M1084.5 594.9V620.6M1084.5 620.6V650.0M1084.5 671.3V707.9" stroke="#555555" stroke-width="1.0" fill="none"/></g><line x1="1007" y1="428" x2="1007" y2="716" stroke="#333" stroke-width="1.62" /><line x1="1085" y1="428" x2="1085" y2="716" stroke="#222" stroke-width="2.25" /><path d="M1007,429 Q1007,424 1013,424 H1079 Q1085,424 1085,429" fill="none" stroke="#111" stroke-width="2.75" /><circle cx="1013" cy="432" r="1.5" fill="#111" stroke="#111" stroke-width="0.00"/><circle cx="1019" cy="432" r="1.5" fill="#111" stroke="#111" stroke-width="0.00"/><circle cx="1025" cy="432" r="1.5" fill="#111" stroke="#111" stroke-width="0.00"/><circle cx="1031" cy="432" r="1.5" fill="#111" stroke="#111" stroke-width="0.00"/><circle cx="1037" cy="432" r="1.5" fill="#111" stroke="#111" stroke-width="0.00"/><circle cx="1043" cy="432" r="1.5" fill="#111" stroke="#111" stroke-width="0.00"/><circle cx="1049" cy="432" r="1.5" fill="#111" stroke="#111" stroke-width="0.00"/><circle cx="1055" cy="432" r="1.5" fill="#111" stroke="#111" stroke-width="0.00"/><circle cx="1061" cy="432" r="1.5" fill="#111" stroke="#111" stroke-width="0.00"/><circle cx="1067" cy="432" r="1.5" fill="#111" stroke="#111" stroke-width="0.00"/><circle cx="1073" cy="432" r="1.5" fill="#111" stroke="#111" stroke-width="0.00"/><path d="M1043.4,424 V415 H1049.4 V424 Z" fill="#444"/><ellipse cx="1046.4" cy="412" rx="12" ry="5" fill="#111" /><rect x="1041.4" y="403" width="10" height="8" fill="#555"  /><ellipse cx="1046.4" cy="401.5" rx="8" ry="7" fill="#ccc" stroke="#111" stroke-width="1.8"/><ellipse cx="1046.4" cy="405" rx="9" ry="2.2" fill="#333" /><rect x="803" y="587" width="295" height="19" fill="#f6f6f6" stroke="#111" stroke-width="1.50" /><g><path d="M844.5 588.0V605.0M855.5 588.0V594.7M869.5 588.0V605.0M871.5 588.0V604.3M879.5 588.0V605.0M880.5 588.0V605.0M883.5 595.4V605.0M887.5 595.4V605.0M892.5 588.0V605.0" stroke="#717171" stroke-width="1.0" fill="none"/><path d="M845.5 588.0V605.0M847.5 588.0V595.2M847.5 595.2V605.0M848.5 588.0V597.5M848.5 597.5V605.0M849.5 588.0V605.0M851.5 588.0V605.0M852.5 588.0V605.0M855.5 594.7V605.0M856.5 588.0V594.5M856.5 594.5V603.7M856.5 603.7V605.0M857.5 588.0V605.0M859.5 588.0V605.0M861.5 588.0V605.0M863.5 588.0V605.0M864.5 588.0V598.7M865.5 588.0V605.0M866.5 588.0V598.3M867.5 588.0V600.2M870.5 588.0V599.8M870.5 599.8V605.0M872.5 588.0V605.0M875.5 588.0V595.0M875.5 595.0V605.0M876.5 588.0V599.2M877.5 598.6V605.0M881.5 588.0V604.2M881.5 604.2V605.0M882.5 588.0V604.8M882.5 604.8V605.0M884.5 588.0V605.0M885.5 588.0V605.0M886.5 588.0V605.0M887.5 588.0V595.4M888.5 594.8V605.0M889.5 588.0V605.0M890.5 588.0V599.1M891.5 588.0V605.0" stroke="#8d8d8d" stroke-width="1.0" fill="none"/><path d="M846.5 588.0V605.0M850.5 588.0V598.0M850.5 598.0V605.0M853.5 588.0V605.0M854.5 588.0V605.0M858.5 588.0V605.0M860.5 588.0V605.0M862.5 588.0V600.1M862.5 600.1V605.0M864.5 598.7V605.0M866.5 598.3V605.0M867.5 600.2V605.0M868.5 588.0V605.0M871.5 604.3V605.0M873.5 588.0V605.0M874.5 588.0V605.0M876.5 599.2V605.0M877.5 588.0V598.6M878.5 588.0V605.0M883.5 588.0V595.4M888.5 588.0V594.8M890.5 599.1V605.0" stroke="#aaaaaa" stroke-width="1.0" fill="none"/></g><g><path d="M941.5 588.0V605.0M942.5 588.0V605.0M943.5 588.0V605.0M949.5 588.0V605.0M950.5 588.0V598.7M951.5 599.4V605.0M952.5 588.0V605.0M958.5 588.0V604.7M962.5 588.0V594.7M962.5 594.7V605.0M964.5 588.0V605.0M965.5 595.6V605.0M967.5 588.0V596.7M967.5 596.7V605.0M968.5 588.0V605.0M970.5 602.7V605.0M972.5 588.0V604.6M972.5 604.6V605.0M974.5 588.0V605.0M976.5 588.0V603.0M977.5 588.0V605.0M982.5 588.0V599.2M983.5 588.0V605.0M987.5 588.0V605.0" stroke="#8d8d8d" stroke-width="1.0" fill="none"/><path d="M944.5 588.0V605.0M945.5 588.0V605.0M946.5 588.0V605.0M947.5 588.0V605.0M947.5 605.0V605.0M954.5 588.0V605.0M955.5 588.0V603.8M955.5 603.8V605.0M956.5 588.0V605.0M957.5 588.0V605.0M958.5 604.7V605.0M960.5 588.0V605.0M963.5 588.0V600.0M965.5 588.0V595.6M966.5 588.0V605.0M969.5 588.0V599.3M969.5 599.3V605.0M971.5 588.0V605.0M973.5 596.1V605.0M975.5 588.0V605.0M976.5 603.0V605.0M978.5 588.0V605.0M979.5 588.0V602.0M981.5 588.0V605.0M984.5 588.0V605.0M985.5 588.0V605.0M986.5 603.5V605.0M988.5 588.0V605.0M989.5 588.0V601.5" stroke="#aaaaaa" stroke-width="1.0" fill="none"/><path d="M948.5 588.0V605.0M950.5 598.7V605.0M951.5 588.0V599.4M953.5 588.0V605.0M959.5 588.0V605.0M961.5 588.0V605.0M963.5 600.0V605.0M970.5 588.0V602.7M973.5 588.0V596.1M979.5 602.0V605.0M980.5 588.0V603.5M980.5 603.5V605.0M982.5 599.2V605.0M986.5 588.0V603.5M989.5 601.5V605.0" stroke="#717171" stroke-width="1.0" fill="none"/></g><g><path d="M1046.5 588.0V605.0M1050.5 595.9V605.0M1052.5 588.0V600.8M1063.5 588.0V597.4M1064.5 588.0V605.0M1065.5 588.0V604.4M1066.5 588.0V595.0M1066.5 595.0V605.0M1076.5 588.0V602.7M1078.5 604.1V605.0M1080.5 588.0V605.0M1082.5 588.0V605.0" stroke="#717171" stroke-width="1.0" fill="none"/><path d="M1047.5 588.0V600.7M1047.5 600.7V605.0M1051.5 588.0V605.0M1053.5 602.2V605.0M1054.5 601.2V605.0M1055.5 588.0V605.0M1057.5 596.9V605.0M1058.5 588.0V605.0M1059.5 588.0V605.0M1063.5 597.4V605.0M1065.5 604.4V605.0M1067.5 588.0V597.9M1067.5 597.9V605.0M1068.5 588.0V605.0M1069.5 588.0V605.0M1073.5 588.0V605.0M1074.5 588.0V596.9M1074.5 596.9V605.0M1075.5 588.0V605.0M1076.5 602.7V605.0M1078.5 588.0V604.1M1079.5 588.0V604.6M1079.5 604.6V605.0M1081.5 588.0V598.6M1081.5 598.6V605.0M1083.5 604.2V605.0M1084.5 588.0V605.0" stroke="#8d8d8d" stroke-width="1.0" fill="none"/><path d="M1048.5 588.0V605.0M1049.5 588.0V598.7M1049.5 598.7V605.0M1050.5 588.0V595.9M1052.5 600.8V605.0M1053.5 588.0V602.2M1054.5 588.0V601.2M1056.5 588.0V596.8M1056.5 596.8V605.0M1057.5 588.0V596.9M1060.5 588.0V596.4M1060.5 596.4V602.7M1060.5 602.7V605.0M1061.5 588.0V605.0M1062.5 588.0V605.0M1070.5 588.0V601.1M1070.5 601.1V605.0M1071.5 588.0V605.0M1072.5 588.0V605.0M1077.5 588.0V605.0M1083.5 588.0V604.2" stroke="#aaaaaa" stroke-width="1.0" fill="none"/></g><g><path d="M803.5 588.0V602.0M805.5 588.0V603.6M805.5 603.6V605.0M807.5 588.0V605.0M808.5 588.0V605.0M810.5 599.5V605.0M811.5 588.0V605.0" stroke="#8d8d8d" stroke-width="1.0" fill="none"/><path d="M803.5 602.0V605.0M804.5 588.0V605.0M806.5 588.0V595.0M809.5 588.0V598.9M809.5 598.9V605.0M810.5 588.0V599.5" stroke="#aaaaaa" stroke-width="1.0" fill="none"/><path d="M806.5 595.0V605.0" stroke="#c6c6c6" stroke-width="1.0" fill="none"/></g><g><path d="M1088.5 588.0V605.0M1089.5 588.0V605.0M1091.5 600.4V605.0M1092.5 588.0V594.5M1092.5 603.1V605.0M1094.5 588.0V602.4" stroke="#aaaaaa" stroke-width="1.0" fill="none"/><path d="M1090.5 588.0V605.0M1093.5 588.0V605.0M1094.5 602.4V605.0" stroke="#717171" stroke-width="1.0" fill="none"/><path d="M1091.5 588.0V600.4M1092.5 594.5V603.1M1095.5 588.0V602.4M1095.5 602.4V605.0M1096.5 588.0V605.0M1097.5 588.0V605.0" stroke="#8d8d8d" stroke-width="1.0" fill="none"/></g><line x1="803" y1="606" x2="1098" y2="606" stroke="#111" stroke-width="2.75" /><rect x="803" y="700" width="295" height="16" fill="#f6f6f6" stroke="#111" stroke-width="1.50" /><g><path d="M844.5 701.0V714.6M844.5 714.6V715.0M845.5 713.7V715.0M846.5 701.0V715.0M847.5 701.0V715.0M849.5 701.0V712.5M852.5 714.6V715.0M853.5 701.0V707.4M853.5 707.4V715.0M855.5 701.0V708.4M855.5 708.4V715.0M858.5 711.0V715.0M859.5 701.0V715.0M860.5 701.0V715.0M861.5 701.0V709.7M864.5 701.0V715.0M865.5 701.0V708.6M871.5 701.0V715.0M872.5 701.0V712.0M872.5 712.0V715.0M874.5 713.6V715.0M877.5 701.0V707.3M877.5 707.3V715.0M878.5 701.0V715.0M881.5 701.0V708.0M881.5 714.8V715.0M885.5 714.5V715.0M887.5 713.0V715.0" stroke="#aaaaaa" stroke-width="1.0" fill="none"/><path d="M845.5 701.0V713.7M848.5 701.0V710.0M848.5 710.0V715.0M849.5 712.5V715.0M850.5 701.0V715.0M851.5 701.0V715.0M852.5 701.0V714.6M854.5 701.0V715.0M856.5 701.0V715.0M857.5 701.0V715.0M861.5 709.7V715.0M863.5 709.1V715.0M865.5 708.6V715.0M866.5 701.0V715.0M867.5 701.0V715.0M868.5 701.0V712.5M868.5 712.5V715.0M874.5 701.0V713.6M876.5 701.0V715.0M879.5 714.2V715.0M882.5 701.0V715.0M884.5 701.0V715.0M886.5 701.0V711.1M886.5 711.1V715.0M887.5 701.0V713.0M889.5 701.0V711.0M891.5 701.0V713.8M891.5 713.8V715.0M892.5 701.0V715.0" stroke="#8d8d8d" stroke-width="1.0" fill="none"/><path d="M858.5 701.0V711.0M862.5 701.0V715.0M863.5 701.0V709.1M869.5 701.0V715.0M870.5 701.0V715.0M873.5 701.0V715.0M875.5 701.0V715.0M879.5 701.0V714.2M880.5 701.0V715.0M881.5 708.0V714.8M883.5 701.0V715.0M885.5 701.0V714.5M888.5 701.0V710.3M888.5 710.3V715.0M889.5 711.0V715.0M890.5 701.0V710.6M890.5 710.6V715.0" stroke="#717171" stroke-width="1.0" fill="none"/></g><g><path d="M941.5 701.0V713.4M943.5 701.0V715.0M944.5 701.0V715.0M945.5 710.3V715.0M946.5 701.0V715.0M947.5 712.5V715.0M950.5 701.0V711.3M951.5 714.7V715.0M958.5 701.0V715.0M959.5 711.5V715.0M960.5 711.2V715.0M962.5 710.9V715.0M963.5 701.0V711.6M965.5 701.0V714.3M965.5 714.3V715.0M966.5 701.0V711.4M966.5 711.4V715.0M967.5 701.0V712.7M968.5 701.0V714.9M972.5 701.0V715.0M973.5 701.0V715.0M978.5 701.0V715.0M979.5 701.0V715.0M983.5 701.0V715.0M984.5 701.0V715.0M986.5 701.0V715.0M987.5 712.2V715.0M988.5 701.0V712.1M988.5 712.1V715.0" stroke="#8d8d8d" stroke-width="1.0" fill="none"/><path d="M941.5 713.4V715.0M942.5 701.0V715.0M947.5 701.0V712.5M948.5 712.3V715.0M949.5 701.0V715.0M950.5 711.3V715.0M951.5 701.0V714.7M953.5 701.0V715.0M956.5 701.0V712.6M956.5 712.6V715.0M957.5 701.0V715.0M959.5 701.0V711.5M960.5 701.0V711.2M961.5 701.0V715.0M963.5 711.6V715.0M967.5 712.7V715.0M974.5 701.0V715.0M976.5 701.0V715.0M977.5 701.0V715.0M980.5 701.0V715.0M981.5 711.4V715.0M987.5 701.0V712.2M989.5 701.0V709.5" stroke="#aaaaaa" stroke-width="1.0" fill="none"/><path d="M945.5 701.0V710.3M948.5 701.0V712.3M952.5 701.0V715.0M954.5 701.0V715.0M955.5 701.0V715.0M962.5 701.0V710.9M964.5 701.0V715.0M968.5 714.9V715.0M969.5 701.0V709.7M969.5 709.7V715.0M970.5 701.0V715.0M971.5 701.0V715.0M975.5 701.0V715.0M981.5 701.0V711.4M982.5 701.0V715.0M985.5 701.0V715.0M989.5 709.5V715.0" stroke="#717171" stroke-width="1.0" fill="none"/></g><g><path d="M1046.5 701.0V715.0M1047.5 701.0V715.0M1049.5 701.0V709.9M1049.5 709.9V715.0M1052.5 701.0V715.0M1055.5 701.0V715.0M1056.5 701.0V715.0M1059.5 701.0V715.0M1061.5 711.8V715.0M1062.5 701.0V715.0M1063.5 701.0V715.0M1064.5 711.5V715.0M1065.5 701.0V715.0M1066.5 701.0V710.0M1068.5 713.4V715.0M1069.5 701.0V715.0M1070.5 701.0V710.7M1070.5 710.7V715.0M1071.5 701.0V715.0M1073.5 701.0V715.0M1074.5 701.0V715.0M1075.5 701.0V715.0M1076.5 711.7V715.0M1077.5 701.0V715.0M1078.5 701.0V715.0M1080.5 707.6V715.0M1081.5 701.0V715.0M1084.5 701.0V715.0" stroke="#8d8d8d" stroke-width="1.0" fill="none"/><path d="M1048.5 701.0V715.0M1057.5 701.0V709.2M1058.5 701.0V715.0M1060.5 701.0V715.0M1061.5 701.0V711.8M1064.5 701.0V711.5M1067.5 701.0V715.0M1072.5 701.0V715.0M1076.5 701.0V711.7M1079.5 701.0V715.0M1080.5 701.0V707.6M1082.5 701.0V715.0M1083.5 701.0V708.5M1083.5 708.5V715.0" stroke="#aaaaaa" stroke-width="1.0" fill="none"/><path d="M1050.5 701.0V715.0M1051.5 701.0V715.0M1053.5 701.0V715.0M1054.5 701.0V715.0M1057.5 709.2V715.0M1066.5 710.0V715.0M1068.5 701.0V713.4" stroke="#717171" stroke-width="1.0" fill="none"/></g><g><path d="M803.5 701.0V715.0M804.5 701.0V710.0M804.5 710.0V715.0M805.5 701.0V715.0M806.5 701.0V715.0M808.5 701.0V715.0M809.5 701.0V715.0M810.5 701.0V712.7M810.5 712.7V715.0M811.5 701.0V715.0" stroke="#8d8d8d" stroke-width="1.0" fill="none"/><path d="M807.5 701.0V708.0M807.5 708.0V715.0" stroke="#aaaaaa" stroke-width="1.0" fill="none"/></g><g><path d="M1088.5 701.0V715.0M1089.5 701.0V715.0M1091.5 701.0V710.0M1094.5 701.0V715.0M1095.5 701.0V715.0M1097.5 701.0V711.3M1097.5 711.3V715.0" stroke="#8d8d8d" stroke-width="1.0" fill="none"/><path d="M1090.5 701.0V715.0M1091.5 710.0V715.0M1092.5 701.0V715.0M1096.5 701.0V715.0" stroke="#717171" stroke-width="1.0" fill="none"/><path d="M1093.5 701.0V715.0" stroke="#aaaaaa" stroke-width="1.0" fill="none"/></g><line x1="803" y1="716" x2="1098" y2="716" stroke="#111" stroke-width="2.75" /><rect x="803" y="606" width="8" height="94" fill="#fdfdfd" stroke="#111" stroke-width="1.38" /><rect x="1091" y="606" width="8" height="94" fill="#fdfdfd" stroke="#111" stroke-width="1.38" /><text transform="translate(1185,116) rotate(90)" x="0" y="0" font-family="Liberation Sans" font-weight="bold" font-style="normal" font-size="20.5" fill="#111" stroke="#111" stroke-width="1.0" textLength="107" lengthAdjust="spacingAndGlyphs" letter-spacing="3">No. 640,890.</text><text transform="translate(1097,108) rotate(90)" x="0" y="0" font-family="Liberation Sans" font-weight="bold" font-style="normal" font-size="13" fill="#111" stroke="#111" stroke-width="0.7" textLength="78" lengthAdjust="spacingAndGlyphs" letter-spacing="2">(No Model.)</text><text transform="translate(1160.5,348) rotate(90)" x="0" y="0" font-family="Liberation Sans" font-weight="bold" font-style="normal" font-size="17.5" fill="#111" stroke="#111" stroke-width="0.9" textLength="153" lengthAdjust="spacingAndGlyphs" letter-spacing="3">J. W. EISENHUTH.</text><text transform="translate(1138,338) rotate(90)" x="0" y="0" font-family="Liberation Sans" font-weight="bold" font-style="normal" font-size="17" fill="#111" stroke="#111" stroke-width="0.9" textLength="176" lengthAdjust="spacingAndGlyphs" letter-spacing="3">AIR AND GAS ENGINE.</text><text transform="translate(1118,335.5) rotate(90)" x="0" y="0" font-family="Liberation Sans" font-weight="normal" font-style="normal" font-size="11" fill="#111" stroke="#111" stroke-width="0.3" textLength="181.5" lengthAdjust="spacingAndGlyphs" letter-spacing="1.5">(Application filed June 14, 1899.)</text><text transform="translate(1187,555.5) rotate(90)" x="0" y="0" font-family="Liberation Sans" font-weight="bold" font-style="normal" font-size="21" fill="#111" stroke="#111" stroke-width="1.0" textLength="183" lengthAdjust="spacingAndGlyphs" letter-spacing="3">Patented Jan. 9, 1900.</text><text transform="translate(1108.5,619) rotate(90)" x="0" y="0" font-family="Liberation Sans" font-weight="bold" font-style="normal" font-size="13" fill="#111" stroke="#111" stroke-width="0.7" textLength="124" lengthAdjust="spacingAndGlyphs" letter-spacing="2">3 Sheets—Sheet 1.</text><text transform="translate(183,138) rotate(90)" x="0" y="0" font-family="Liberation Serif" font-weight="normal" font-style="italic" font-size="14" fill="#111" stroke="#111" stroke-width="0.2" textLength="99" lengthAdjust="spacingAndGlyphs" >WITNESSES</text><text transform="translate(182.5,575) rotate(90)" x="0" y="0" font-family="Liberation Serif" font-weight="normal" font-style="italic" font-size="15" fill="#111" stroke="#111" stroke-width="0.2" textLength="94" lengthAdjust="spacingAndGlyphs" >INVENTOR</text><text transform="translate(37.5,304) rotate(90)" x="0" y="0" font-family="Liberation Sans" font-weight="bold" font-style="normal" font-size="6.5" fill="#111" stroke="#111" stroke-width="0.5" textLength="184" lengthAdjust="spacingAndGlyphs" >THE NORRIS PETERS CO., PHOTO-LITHO., WASHINGTON, D. C.</text><path transform="translate(152,122) rotate(90)" d="M0.0,-0.0 L0.1,-0.6 L0.9,-2.2 L2.5,-4.4 L4.6,-6.6 L6.8,-8.2 L8.9,-8.8 L10.4,-8.2 L11.3,-6.6 L11.4,-4.4 L10.9,-2.2 L10.3,-0.6 L9.9,-0.0 L9.9,-0.0 L10.0,-0.7 L10.9,-2.5 L12.6,-5.0 L14.8,-7.4 L17.1,-9.2 L19.2,-9.9 L20.8,-9.2 L21.5,-7.4 L21.5,-5.0 L20.9,-2.5 L20.2,-0.7 L19.7,-0.0 L19.7,-0.0 L19.8,-0.6 L20.7,-2.3 L22.3,-4.6 L24.4,-7.0 L26.7,-8.7 L28.8,-9.3 L30.4,-8.7 L31.1,-7.0 L31.2,-4.6 L30.7,-2.3 L30.0,-0.6 L29.6,-0.0 L29.6,-0.0 L29.2,-1.1 L30.0,-4.0 L32.2,-8.0 L35.3,-12.0 L38.7,-14.9 L41.7,-16.0 L43.8,-14.9 L44.5,-12.0 L44.0,-8.0 L42.6,-4.0 L40.8,-1.1 L39.4,-0.0 L39.4,-0.0 L39.6,-0.7 L40.5,-2.5 L42.2,-5.1 L44.5,-7.6 L46.8,-9.5 L49.0,-10.2 L50.5,-9.5 L51.2,-7.6 L51.1,-5.1 L50.5,-2.5 L49.8,-0.7 L49.3,-0.0 L49.3,-0.0 L49.4,-0.6 L50.2,-2.1 L51.6,-4.1 L53.7,-6.2 L55.9,-7.7 L57.9,-8.2 L59.5,-7.7 L60.4,-6.2 L60.5,-4.1 L60.1,-2.1 L59.6,-0.6 L59.2,-0.0 M67.0,-0.0 L66.6,-0.9 L67.2,-3.4 L69.1,-6.8 L71.9,-10.2 L75.2,-12.7 L78.1,-13.7 L80.3,-12.7 L81.2,-10.2 L81.0,-6.8 L79.8,-3.4 L78.2,-0.9 L76.9,-0.0 L76.9,-0.0 L77.1,-0.7 L78.1,-2.7 L79.9,-5.5 L82.2,-8.2 L84.6,-10.2 L86.7,-10.9 L88.2,-10.2 L88.9,-8.2 L88.7,-5.5 L88.1,-2.7 L87.3,-0.7 L86.8,-0.0 M94.6,-0.0 L95.0,-0.7 L96.1,-2.5 L97.9,-5.0 L100.0,-7.5 L102.2,-9.3 L104.1,-10.0 L105.3,-9.3 L105.9,-7.5 L105.8,-5.0 L105.3,-2.5 L104.7,-0.7 L104.5,-0.0 L104.5,-0.0 L104.0,-1.0 L104.8,-3.7 L106.8,-7.3 L109.7,-11.0 L113.0,-13.7 L116.0,-14.6 L118.1,-13.7 L119.0,-11.0 L118.6,-7.3 L117.4,-3.7 L115.7,-1.0 L114.4,-0.0 L114.4,-0.0 L113.9,-1.0 L114.7,-3.6 L116.7,-7.3 L119.6,-10.9 L122.9,-13.6 L125.8,-14.5 L127.9,-13.6 L128.8,-10.9 L128.5,-7.3 L127.2,-3.6 L125.6,-1.0 L124.2,-0.0 L124.2,-0.0 L123.9,-1.2 L124.9,-4.4 L127.2,-8.8 L130.5,-13.2 L134.0,-16.4 L137.1,-17.6 L139.1,-16.4 L139.7,-13.2 L139.0,-8.8 L137.4,-4.4 L135.5,-1.2 L134.1,-0.0 M137.0,-1 l0.5,0.5" fill="none" stroke="#222" stroke-width="1.5" stroke-linejoin="round" stroke-linecap="round"/><path d="M170,93 C160,86 148,94 150,104 C152,116 166,122 172,114 M158,97 C166,104 168,114 160,122 M168,100 L150,128" fill="none" stroke="#111" stroke-width="1.75" /><path transform="translate(124,118) rotate(90)" d="M0.0,-0.0 L-0.4,-1.0 L0.4,-3.8 L2.5,-7.5 L5.4,-11.3 L8.6,-14.1 L11.5,-15.1 L13.4,-14.1 L14.2,-11.3 L13.7,-7.5 L12.4,-3.8 L10.7,-1.0 L9.4,-0.0 L9.4,-0.0 L9.5,-0.7 L10.5,-2.6 L12.2,-5.3 L14.5,-7.9 L16.8,-9.9 L18.8,-10.6 L20.2,-9.9 L20.8,-7.9 L20.7,-5.3 L20.0,-2.6 L19.2,-0.7 L18.8,-0.0 L18.8,-0.0 L18.9,-0.7 L19.9,-2.7 L21.6,-5.4 L23.9,-8.1 L26.2,-10.1 L28.3,-10.8 L29.7,-10.1 L30.3,-8.1 L30.1,-5.4 L29.4,-2.7 L28.6,-0.7 L28.1,-0.0 L28.1,-0.0 L28.3,-0.8 L29.3,-2.8 L31.1,-5.6 L33.4,-8.5 L35.8,-10.5 L37.9,-11.3 L39.3,-10.5 L39.8,-8.5 L39.6,-5.6 L38.8,-2.8 L38.0,-0.8 L37.5,-0.0 L37.5,-0.0 L37.7,-0.7 L38.6,-2.6 L40.4,-5.3 L42.6,-7.9 L44.9,-9.9 L47.0,-10.6 L48.4,-9.9 L48.9,-7.9 L48.8,-5.3 L48.1,-2.6 L47.4,-0.7 L46.9,-0.0 M54.4,-0.0 L54.6,-0.8 L55.6,-2.8 L57.4,-5.6 L59.7,-8.4 L62.1,-10.5 L64.1,-11.2 L65.5,-10.5 L66.0,-8.4 L65.8,-5.6 L65.1,-2.8 L64.2,-0.8 L63.8,-0.0 M66.6,-1 l0.5,0.5 M81.5,0.0 L81.9,0.1 L82.7,-0.4 L83.7,-1.3 L85.1,-2.7 L86.6,-4.5 L88.3,-6.5 L90.1,-8.8 L91.9,-11.1 L93.6,-13.3 L95.2,-15.4 L96.5,-17.3 L97.6,-18.7 L98.3,-19.8 L98.7,-20.4 L98.7,-20.4 L98.4,-20.0 L97.8,-19.1 L96.9,-17.7 L95.8,-15.9 L94.6,-13.9 L93.2,-11.6 L91.9,-9.3 L90.6,-7.1 L89.5,-5.0 L88.6,-3.1 L88.0,-1.6 L87.7,-0.6 L87.7,-0.0 M97.5,-0.0 L97.6,-0.6 L98.5,-2.4 L100.1,-4.8 L102.3,-7.2 L104.5,-9.0 L106.5,-9.6 L107.9,-9.0 L108.6,-7.2 L108.6,-4.8 L108.0,-2.4 L107.3,-0.6 L106.9,-0.0 L106.9,-0.0 L107.1,-0.8 L108.1,-2.8 L109.9,-5.7 L112.2,-8.5 L114.6,-10.5 L116.6,-11.3 L118.0,-10.5 L118.6,-8.5 L118.3,-5.7 L117.6,-2.8 L116.7,-0.8 L116.2,-0.0 L116.2,-0.0 L115.8,-1.0 L116.7,-3.8 L118.7,-7.6 L121.7,-11.4 L124.9,-14.2 L127.8,-15.2 L129.7,-14.2 L130.5,-11.4 L130.0,-7.6 L128.6,-3.8 L126.9,-1.0 L125.6,-0.0 L125.6,-0.0 L125.3,-1.1 L126.2,-4.0 L128.3,-8.1 L131.4,-12.1 L134.7,-15.0 L137.6,-16.1 L139.5,-15.0 L140.2,-12.1 L139.6,-8.1 L138.1,-4.0 L136.3,-1.1 L135.0,-0.0 L135.0,-0.0 L135.1,-0.6 L135.9,-2.1 L137.4,-4.2 L139.3,-6.3 L141.5,-7.8 L143.5,-8.4 L144.9,-7.8 L145.7,-6.3 L145.8,-4.2 L145.4,-2.1 L144.8,-0.6 L144.4,-0.0 M147.2,-1 l0.5,0.5" fill="none" stroke="#222" stroke-width="1.5" stroke-linejoin="round" stroke-linecap="round"/><path d="M143,96 C136,90 122,98 123,110 C124,120 138,122 143,112 M126,98 L142,120" fill="none" stroke="#111" stroke-width="1.75" /><path transform="translate(156,572) rotate(90)" d="M0.0,-0.0 L0.1,-0.5 L0.8,-2.0 L2.3,-4.0 L4.4,-5.9 L6.7,-7.4 L9.0,-7.9 L10.7,-7.4 L11.8,-5.9 L12.1,-4.0 L11.8,-2.0 L11.2,-0.5 L10.8,-0.0 L10.8,-0.0 L10.4,-1.2 L11.4,-4.6 L13.9,-9.3 L17.4,-13.9 L21.2,-17.3 L24.6,-18.5 L26.8,-17.3 L27.6,-13.9 L26.9,-9.3 L25.2,-4.6 L23.2,-1.2 L21.6,-0.0 L21.6,-0.0 L21.7,-0.5 L22.4,-1.9 L23.9,-3.8 L25.9,-5.7 L28.2,-7.1 L30.5,-7.6 L32.2,-7.1 L33.3,-5.7 L33.6,-3.8 L33.4,-1.9 L32.9,-0.5 L32.4,-0.0 L32.4,-0.0 L32.5,-0.6 L33.4,-2.4 L35.1,-4.7 L37.4,-7.1 L39.8,-8.8 L42.1,-9.4 L43.8,-8.8 L44.7,-7.1 L44.8,-4.7 L44.4,-2.4 L43.7,-0.6 L43.3,-0.0 M51.9,-0.0 L51.4,-1.0 L52.1,-3.7 L54.2,-7.4 L57.2,-11.1 L60.7,-13.8 L64.0,-14.8 L66.3,-13.8 L67.4,-11.1 L67.1,-7.4 L65.9,-3.7 L64.2,-1.0 L62.7,-0.0 L62.7,-0.0 L62.2,-1.0 L63.0,-3.9 L65.1,-7.8 L68.3,-11.6 L71.8,-14.5 L75.1,-15.5 L77.4,-14.5 L78.4,-11.6 L78.1,-7.8 L76.8,-3.9 L75.0,-1.0 L73.5,-0.0 M76.8,-1 l0.5,0.5 M88.7,-0.0 L88.8,-0.7 L89.8,-2.6 L91.5,-5.2 L93.9,-7.8 L96.4,-9.7 L98.7,-10.3 L100.4,-9.7 L101.2,-7.8 L101.3,-5.2 L100.7,-2.6 L100.0,-0.7 L99.5,-0.0 L99.5,-0.0 L99.5,-0.5 L100.3,-2.0 L101.8,-3.9 L103.9,-5.9 L106.2,-7.3 L108.4,-7.9 L110.2,-7.3 L111.2,-5.9 L111.5,-3.9 L111.3,-2.0 L110.7,-0.5 L110.3,-0.0 L110.3,-0.0 L110.4,-0.6 L111.3,-2.3 L112.9,-4.6 L115.1,-6.9 L117.6,-8.6 L119.9,-9.2 L121.6,-8.6 L122.5,-6.9 L122.7,-4.6 L122.2,-2.3 L121.6,-0.6 L121.1,-0.0 L121.1,-0.0 L121.2,-0.6 L122.0,-2.2 L123.6,-4.3 L125.8,-6.5 L128.2,-8.1 L130.4,-8.6 L132.1,-8.1 L133.1,-6.5 L133.3,-4.3 L133.0,-2.2 L132.4,-0.6 L131.9,-0.0 L131.9,-0.0 L131.4,-1.1 L132.3,-4.1 L134.5,-8.2 L137.8,-12.3 L141.4,-15.3 L144.7,-16.4 L147.0,-15.3 L147.9,-12.3 L147.5,-8.2 L146.1,-4.1 L144.2,-1.1 L142.7,-0.0 L142.7,-0.0 L142.8,-0.6 L143.7,-2.2 L145.3,-4.4 L147.4,-6.6 L149.8,-8.2 L152.1,-8.8 L153.8,-8.2 L154.8,-6.6 L155.0,-4.4 L154.6,-2.2 L154.0,-0.6 L153.6,-0.0 L153.6,-0.0 L153.0,-1.0 L153.8,-3.8 L155.9,-7.6 L159.0,-11.5 L162.6,-14.2 L165.8,-15.3 L168.2,-14.2 L169.2,-11.5 L168.9,-7.6 L167.6,-3.8 L165.8,-1.0 L164.4,-0.0 L164.4,-0.0 L164.5,-0.7 L165.4,-2.5 L167.1,-4.9 L169.4,-7.4 L171.9,-9.2 L174.2,-9.8 L175.9,-9.2 L176.8,-7.4 L176.9,-4.9 L176.4,-2.5 L175.7,-0.7 L175.2,-0.0 L175.2,-0.0 L174.6,-1.0 L175.4,-3.7 L177.4,-7.4 L180.5,-11.1 L184.0,-13.8 L187.3,-14.8 L189.6,-13.8 L190.7,-11.1 L190.4,-7.4 L189.1,-3.7 L187.4,-1.0 L186.0,-0.0" fill="none" stroke="#222" stroke-width="1.5" stroke-linejoin="round" stroke-linecap="round"/><path d="M177,570 C168,548 150,522 140,519 C133,517 135,528 146,541 C156,554 168,566 177,575" fill="none" stroke="#111" stroke-width="1.62" /><path d="M150,686 C162,674 178,680 178,690 C178,700 165,698 160,690" fill="none" stroke="#111" stroke-width="1.38" /><path transform="translate(140,598) rotate(90)" d="M0.0,-0.0 L-1.1,-0.6 L-1.1,-2.4 L0.3,-4.8 L3.0,-7.2 L6.5,-9.0 L10.4,-9.7 L13.8,-9.0 L16.1,-7.2 L17.1,-4.8 L16.8,-2.4 L15.5,-0.6 L14.0,-0.0 L14.0,0.0 L12.9,0.4 L12.2,1.4 L12.3,2.8 L13.5,4.2 L15.9,5.3 L19.0,5.7 L22.4,5.3 L25.5,4.2 L27.7,2.8 L28.8,1.4 L28.8,0.4 L28.0,0.0" fill="none" stroke="#222" stroke-width="1.1" stroke-linejoin="round" stroke-linecap="round"/><path transform="translate(130,566) rotate(90)" d="M0.0,-0.0 L0.1,-0.6 L0.9,-2.2 L2.4,-4.3 L4.4,-6.5 L6.6,-8.1 L8.5,-8.7 L9.9,-8.1 L10.6,-6.5 L10.7,-4.3 L10.2,-2.2 L9.6,-0.6 L9.2,-0.0 L9.2,-0.0 L9.3,-0.6 L10.2,-2.3 L11.7,-4.6 L13.8,-7.0 L16.0,-8.6 L17.9,-9.3 L19.4,-8.6 L20.0,-7.0 L20.0,-4.6 L19.5,-2.3 L18.8,-0.6 L18.4,-0.0 L18.4,-0.0 L18.5,-0.6 L19.4,-2.3 L20.9,-4.6 L23.0,-7.0 L25.2,-8.7 L27.1,-9.3 L28.5,-8.7 L29.2,-7.0 L29.2,-4.6 L28.7,-2.3 L28.0,-0.6 L27.6,-0.0 L27.6,-0.0 L27.1,-0.9 L27.8,-3.3 L29.6,-6.6 L32.3,-10.0 L35.3,-12.4 L38.1,-13.3 L40.1,-12.4 L40.9,-10.0 L40.6,-6.6 L39.5,-3.3 L38.0,-0.9 L36.7,-0.0 L36.7,-0.0 L36.8,-0.5 L37.5,-1.8 L38.8,-3.6 L40.6,-5.4 L42.7,-6.7 L44.6,-7.2 L46.0,-6.7 L46.9,-5.4 L47.1,-3.6 L46.8,-1.8 L46.3,-0.5 L45.9,-0.0 L45.9,-0.0 L46.0,-0.6 L46.8,-2.1 L48.3,-4.2 L50.2,-6.3 L52.3,-7.8 L54.3,-8.4 L55.7,-7.8 L56.5,-6.3 L56.5,-4.2 L56.1,-2.1 L55.5,-0.6 L55.1,-0.0 L55.1,0.0 L54.2,0.6 L53.3,2.1 L52.8,4.1 L53.0,6.2 L54.1,7.7 L56.0,8.3 L58.4,7.7 L60.8,6.2 L62.9,4.1 L64.2,2.1 L64.6,0.6 L64.3,0.0 M71.6,-0.0 L71.8,-0.7 L72.7,-2.4 L74.3,-4.9 L76.4,-7.3 L78.6,-9.1 L80.6,-9.8 L82.0,-9.1 L82.6,-7.3 L82.6,-4.9 L82.0,-2.4 L81.3,-0.7 L80.8,-0.0 L80.8,-0.0 L80.9,-0.6 L81.8,-2.3 L83.4,-4.7 L85.5,-7.0 L87.7,-8.7 L89.6,-9.4 L91.0,-8.7 L91.7,-7.0 L91.7,-4.7 L91.1,-2.3 L90.4,-0.6 L90.0,-0.0 L90.0,-0.0 L90.1,-0.6 L91.0,-2.3 L92.5,-4.5 L94.5,-6.8 L96.7,-8.5 L98.7,-9.1 L100.1,-8.5 L100.8,-6.8 L100.8,-4.5 L100.3,-2.3 L99.6,-0.6 L99.2,-0.0 L99.2,-0.0 L99.3,-0.6 L100.1,-2.2 L101.7,-4.5 L103.7,-6.7 L105.9,-8.4 L107.8,-9.0 L109.2,-8.4 L109.9,-6.7 L109.9,-4.5 L109.4,-2.2 L108.8,-0.6 L108.4,-0.0 L108.4,-0.0 L108.5,-0.6 L109.4,-2.3 L110.9,-4.6 L113.0,-7.0 L115.2,-8.7 L117.1,-9.3 L118.5,-8.7 L119.2,-7.0 L119.2,-4.6 L118.7,-2.3 L118.0,-0.6 L117.6,-0.0 L117.6,-0.0 L117.1,-0.9 L117.8,-3.3 L119.6,-6.6 L122.3,-10.0 L125.4,-12.4 L128.1,-13.3 L130.1,-12.4 L130.9,-10.0 L130.6,-6.6 L129.5,-3.3 L128.0,-0.9 L126.7,-0.0 M134.1,-0.0 L134.2,-0.6 L135.0,-2.1 L136.5,-4.3 L138.5,-6.4 L140.6,-8.0 L142.5,-8.6 L144.0,-8.0 L144.7,-6.4 L144.7,-4.3 L144.3,-2.1 L143.7,-0.6 L143.3,-0.0 L143.3,-0.0 L143.3,-0.5 L144.1,-1.9 L145.5,-3.9 L147.3,-5.8 L149.4,-7.2 L151.3,-7.7 L152.8,-7.2 L153.6,-5.8 L153.7,-3.9 L153.4,-1.9 L152.8,-0.5 L152.4,-0.0 L152.4,-0.0 L152.6,-0.7 L153.5,-2.5 L155.2,-5.0 L157.3,-7.5 L159.6,-9.4 L161.6,-10.1 L162.9,-9.4 L163.6,-7.5 L163.4,-5.0 L162.8,-2.5 L162.1,-0.7 L161.6,-0.0 L161.6,-0.0 L161.7,-0.5 L162.4,-1.8 L163.8,-3.7 L165.6,-5.5 L167.6,-6.9 L169.5,-7.4 L171.0,-6.9 L171.8,-5.5 L172.0,-3.7 L171.7,-1.8 L171.2,-0.5 L170.8,-0.0 L170.8,-0.0 L171.0,-0.7 L171.9,-2.4 L173.5,-4.9 L175.6,-7.3 L177.8,-9.1 L179.8,-9.8 L181.2,-9.1 L181.8,-7.3 L181.7,-4.9 L181.2,-2.4 L180.4,-0.7 L180.0,-0.0" fill="none" stroke="#222" stroke-width="1.5" stroke-linejoin="round" stroke-linecap="round"/><path d="M125,541 C130,548 142,552 151,556 M124,549 C130,560 142,566 151,570 M124,545 L150,545" fill="none" stroke="#111" stroke-width="1.50" /><path d="M162,702 C150,690 132,698 125,720 C118,745 122,760 136,757" fill="none" stroke="#111" stroke-width="1.50" /><text transform="translate(104,597) rotate(90)" x="0" y="0" font-family="Liberation Serif" font-weight="normal" font-style="italic" font-size="11" fill="#111" stroke="#111" stroke-width="0" textLength="104" lengthAdjust="spacingAndGlyphs" >his Attorneys</text><path d="M864,122 C856,117 847,122 849,128 C851,134 862,133 868,127 C871,123 873,120 876,119 M860,121 C866,118 871,117 875,117 M873,118 L865,131" fill="none" stroke="#111" stroke-width="2.38" /><path d="M879,124 L876,131 M886,124 C881,123 880,130 884,131 C888,132 891,126 888,123 M889,121 L885,135 C884,139 880,139 879,137 M868,145 C874,140 882,138 891,137" fill="none" stroke="#111" stroke-width="2.25" /><circle cx="881" cy="116" r="0.9" fill="#111" stroke="#111" stroke-width="1.25"/><circle cx="898" cy="132" r="1.3" fill="#111" stroke="#111" stroke-width="1.25"/><circle cx="928" cy="132" r="1.3" fill="#111" stroke="#111" stroke-width="1.25"/><path d="M920,117 L912,132 M905,132 L918,132 M917,118 L914,121" fill="none" stroke="#111" stroke-width="2.25" /><text x="481.3" y="100.7" font-family="Liberation Serif" font-style="italic" font-size="16.7" fill="#111" stroke="#111" stroke-width="0.9" textLength="26.9" lengthAdjust="spacingAndGlyphs">64</text><text x="767.8" y="111.2" font-family="Liberation Serif" font-style="italic" font-size="19.5" fill="#111" stroke="#111" stroke-width="0.9" textLength="20.4" lengthAdjust="spacingAndGlyphs">73</text><text x="418.8" y="197.2" font-family="Liberation Serif" font-style="italic" font-size="13.6" fill="#111" stroke="#111" stroke-width="0.9" textLength="15.4" lengthAdjust="spacingAndGlyphs">18</text><text x="461.8" y="212.7" font-family="Liberation Serif" font-style="italic" font-size="16.7" fill="#111" stroke="#111" stroke-width="0.9" textLength="21.9" lengthAdjust="spacingAndGlyphs">31</text><text x="481.8" y="226.2" font-family="Liberation Serif" font-style="italic" font-size="13.5" fill="#111" stroke="#111" stroke-width="0.9" textLength="18.4" lengthAdjust="spacingAndGlyphs">15</text><text x="523.8" y="226.2" font-family="Liberation Serif" font-style="italic" font-size="15.9" fill="#111" stroke="#111" stroke-width="0.9" textLength="16.4" lengthAdjust="spacingAndGlyphs">72</text><text x="431.5" y="226.2" font-family="Liberation Serif" font-style="italic" font-size="13.5" fill="#111" stroke="#111" stroke-width="0.9" textLength="15.3" lengthAdjust="spacingAndGlyphs">17</text><text x="600.4" y="257.2" font-family="Liberation Serif" font-style="italic" font-size="14.4" fill="#111" stroke="#111" stroke-width="0.9" textLength="13.8" lengthAdjust="spacingAndGlyphs">16</text><text x="265.8" y="262.2" font-family="Liberation Serif" font-style="italic" font-size="16.5" fill="#111" stroke="#111" stroke-width="0.9" textLength="15.9" lengthAdjust="spacingAndGlyphs">16</text><text x="420.8" y="275.7" font-family="Liberation Serif" font-style="italic" font-size="13.9" fill="#111" stroke="#111" stroke-width="0.9" textLength="19.9" lengthAdjust="spacingAndGlyphs">19</text><text x="294.8" y="322.2" font-family="Liberation Serif" font-style="italic" font-size="15.9" fill="#111" stroke="#111" stroke-width="0.9" textLength="14.4" lengthAdjust="spacingAndGlyphs">21</text><text x="232.3" y="358.5" font-family="Liberation Serif" font-style="italic" font-size="12.3" fill="#111" stroke="#111" stroke-width="0.9" textLength="17.6" lengthAdjust="spacingAndGlyphs">20</text><text x="303.4" y="355.7" font-family="Liberation Serif" font-style="italic" font-size="12.3" fill="#111" stroke="#111" stroke-width="0.9" textLength="16.6" lengthAdjust="spacingAndGlyphs">23</text><text x="406.5" y="366.0" font-family="Liberation Serif" font-style="italic" font-size="12.6" fill="#111" stroke="#111" stroke-width="0.9" textLength="14.7" lengthAdjust="spacingAndGlyphs">24</text><text x="402.8" y="396.8" font-family="Liberation Serif" font-style="italic" font-size="12.3" fill="#111" stroke="#111" stroke-width="0.9" textLength="17.4" lengthAdjust="spacingAndGlyphs">26</text><text x="466.8" y="358.8" font-family="Liberation Serif" font-style="italic" font-size="13.8" fill="#111" stroke="#111" stroke-width="0.9" textLength="22.4" lengthAdjust="spacingAndGlyphs">30</text><text x="471.6" y="319.7" font-family="Liberation Serif" font-style="italic" font-size="13.6" fill="#111" stroke="#111" stroke-width="0.9" textLength="19.6" lengthAdjust="spacingAndGlyphs">25</text><text x="451.5" y="435.9" font-family="Liberation Serif" font-style="italic" font-size="13.9" fill="#111" stroke="#111" stroke-width="0.9" textLength="20.7" lengthAdjust="spacingAndGlyphs">45</text><text x="506.8" y="421.6" font-family="Liberation Serif" font-style="italic" font-size="12.0" fill="#111" stroke="#111" stroke-width="0.9" textLength="18.9" lengthAdjust="spacingAndGlyphs">49</text><text x="227.5" y="438.2" font-family="Liberation Serif" font-style="italic" font-size="12.3" fill="#111" stroke="#111" stroke-width="0.9" textLength="19.5" lengthAdjust="spacingAndGlyphs">22</text><text x="292.8" y="571.2" font-family="Liberation Serif" font-style="italic" font-size="17.4" fill="#111" stroke="#111" stroke-width="0.9" textLength="25.4" lengthAdjust="spacingAndGlyphs">43</text><text x="344.8" y="592.2" font-family="Liberation Serif" font-style="italic" font-size="10.8" fill="#111" stroke="#111" stroke-width="0.9" textLength="23.4" lengthAdjust="spacingAndGlyphs">44</text><text x="409.4" y="597.9" font-family="Liberation Serif" font-style="italic" font-size="13.9" fill="#111" stroke="#111" stroke-width="0.9" textLength="26.8" lengthAdjust="spacingAndGlyphs">42</text><text x="481.8" y="568.2" font-family="Liberation Serif" font-style="italic" font-size="17.4" fill="#111" stroke="#111" stroke-width="0.9" textLength="26.0" lengthAdjust="spacingAndGlyphs">46</text><text x="534.8" y="511.2" font-family="Liberation Serif" font-style="italic" font-size="14.4" fill="#111" stroke="#111" stroke-width="0.9" textLength="23.4" lengthAdjust="spacingAndGlyphs">48</text><text x="576.6" y="503.5" font-family="Liberation Serif" font-style="italic" font-size="15.9" fill="#111" stroke="#111" stroke-width="0.9" textLength="19.2" lengthAdjust="spacingAndGlyphs">28</text><text x="669.8" y="515.2" font-family="Liberation Serif" font-style="italic" font-size="16.7" fill="#111" stroke="#111" stroke-width="0.9" textLength="9.0" lengthAdjust="spacingAndGlyphs">1</text><text x="212.3" y="675.2" font-family="Liberation Serif" font-style="italic" font-size="17.4" fill="#111" stroke="#111" stroke-width="0.9" textLength="14.5" lengthAdjust="spacingAndGlyphs">10</text><text x="898.5" y="476.7" font-family="Liberation Serif" font-style="italic" font-size="13.6" fill="#111" stroke="#111" stroke-width="0.9" textLength="17.7" lengthAdjust="spacingAndGlyphs">65</text><text x="1017.8" y="579.7" font-family="Liberation Serif" font-style="italic" font-size="18.2" fill="#111" stroke="#111" stroke-width="0.9" textLength="20.4" lengthAdjust="spacingAndGlyphs">65</text><text x="294.8" y="481.2" font-family="Liberation Serif" font-style="italic" font-size="13.6" fill="#111" stroke="#111" stroke-width="0.9" textLength="19.8" lengthAdjust="spacingAndGlyphs">39</text><text x="315.6" y="476.5" font-family="Liberation Serif" font-style="italic" font-size="9.5" fill="#111" stroke="#111" stroke-width="0.6">a</text><text x="762.8" y="593.2" font-family="Liberation Serif" font-style="italic" font-size="19.7" fill="#111" stroke="#111" stroke-width="0.9" textLength="16.5" lengthAdjust="spacingAndGlyphs">71</text><text x="780.0" y="584.5" font-family="Liberation Serif" font-style="italic" font-size="13.8" fill="#111" stroke="#111" stroke-width="0.6">a</text><text x="827.3" y="273.2" font-family="Liberation Serif" font-style="italic" font-size="12.9" fill="#111" stroke="#111" stroke-width="0.9" textLength="15.5" lengthAdjust="spacingAndGlyphs">63</text><text x="843.4" y="269.0" font-family="Liberation Serif" font-style="italic" font-size="9.0" fill="#111" stroke="#111" stroke-width="0.6">a</text><path d="M747,107 L761,103" fill="none" stroke="#111" stroke-width="1.12" /><path d="M441,227 Q420,240 405,262" fill="none" stroke="#111" stroke-width="1.12" /><path d="M462,215 Q450,280 441,303" fill="none" stroke="#111" stroke-width="1.12" /><path d="M538,228 Q520,260 548,275" fill="none" stroke="#111" stroke-width="1.12" /><path d="M595,253 L584,248" fill="none" stroke="#111" stroke-width="1.12" /><path d="M279,247 H360" fill="none" stroke="#111" stroke-width="1.12" /><path d="M418,195 Q405,200 396,214" fill="none" stroke="#111" stroke-width="1.12" /><path d="M420,270 Q410,266 404,276" fill="none" stroke="#111" stroke-width="1.12" /><path d="M312,320 Q330,312 341,305.6" fill="none" stroke="#111" stroke-width="1.12" /><path d="M250.7,343 Q300,330 343,314.2" fill="none" stroke="#111" stroke-width="1.12" /><path d="M329.5,348.8 Q336,350 343,350" fill="none" stroke="#111" stroke-width="1.12" /><path d="M407,358 L399,346" fill="none" stroke="#111" stroke-width="1.12" /><path d="M403,393 L394,392" fill="none" stroke="#111" stroke-width="1.12" /><path d="M463,353 H451" fill="none" stroke="#111" stroke-width="1.12" /><path d="M470,314 L446,310" fill="none" stroke="#111" stroke-width="1.12" /><path d="M455,434 L445,438" fill="none" stroke="#111" stroke-width="1.12" /><path d="M244,422.7 Q300,400 343,394.9" fill="none" stroke="#111" stroke-width="1.12" /><path d="M322,476 Q340,470 372,445" fill="none" stroke="#111" stroke-width="1.12" /><path d="M316,560 Q325,535 346,521" fill="none" stroke="#111" stroke-width="1.12" /><path d="M350,584 Q355,572 362,558" fill="none" stroke="#111" stroke-width="1.12" /><path d="M410,589 Q400,570 388,548" fill="none" stroke="#111" stroke-width="1.12" /><path d="M481,559 Q470,550 458,544" fill="none" stroke="#111" stroke-width="1.12" /><path d="M553,503 Q550,470 556,420" fill="none" stroke="#111" stroke-width="1.12" /><path d="M592,495 Q572,440 580,400" fill="none" stroke="#111" stroke-width="1.12" /><path d="M777,273 Q800,266 826,265" fill="none" stroke="#111" stroke-width="1.12" /><path d="M226,665 L238,640" fill="none" stroke="#111" stroke-width="1.12" /><path d="M892,480 L885,492" fill="none" stroke="#111" stroke-width="1.12" /></g></svg></body></html>
